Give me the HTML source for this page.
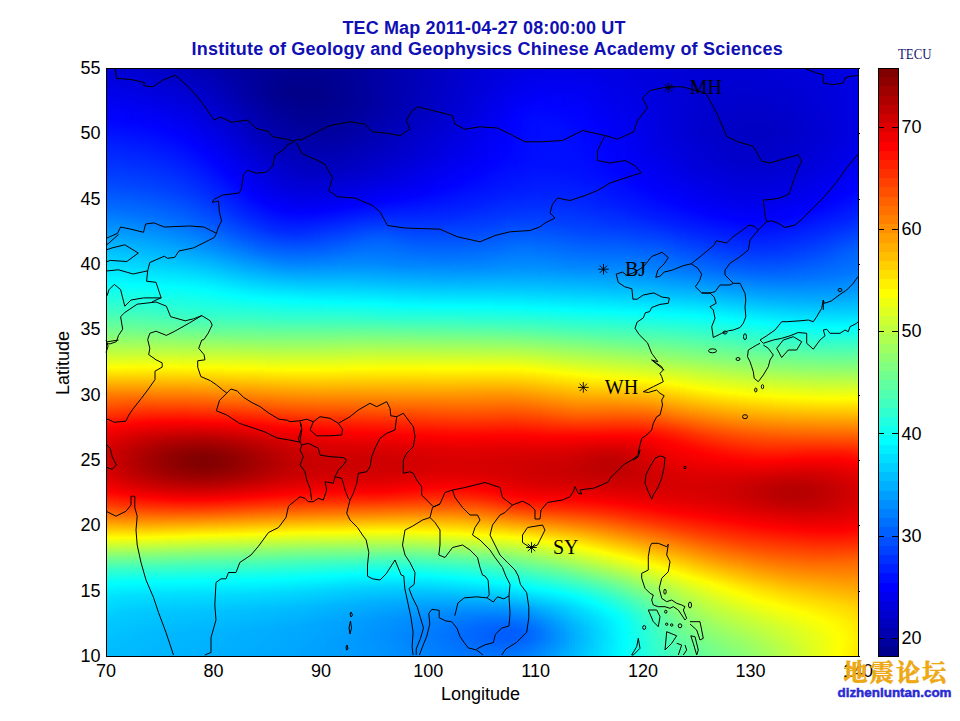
<!DOCTYPE html>
<html><head><meta charset="utf-8"><title>TEC Map 2011-04-27 08:00:00 UT</title><style>
html,body{margin:0;padding:0;background:#fff}
body{width:960px;height:721px;position:relative;overflow:hidden;font-family:"Liberation Sans",Arial,sans-serif}
#fld{position:absolute;left:107px;top:69px;width:751px;height:587px;display:flex}
#fld i{display:block;height:587px;flex:none}
#cb{position:absolute;left:879px;top:69px;width:19px;height:587px;background:linear-gradient(to top,#00008f 0.00px,#00008f 9.19px,#00009f 9.19px,#00009f 18.38px,#0000af 18.38px,#0000af 27.56px,#0000bf 27.56px,#0000bf 36.75px,#0000cf 36.75px,#0000cf 45.94px,#0000df 45.94px,#0000df 55.12px,#0000ef 55.12px,#0000ef 64.31px,#0000ff 64.31px,#0000ff 73.50px,#0010ff 73.50px,#0010ff 82.69px,#0020ff 82.69px,#0020ff 91.88px,#0030ff 91.88px,#0030ff 101.06px,#0040ff 101.06px,#0040ff 110.25px,#0050ff 110.25px,#0050ff 119.44px,#0060ff 119.44px,#0060ff 128.62px,#0070ff 128.62px,#0070ff 137.81px,#0080ff 137.81px,#0080ff 147.00px,#008fff 147.00px,#008fff 156.19px,#009fff 156.19px,#009fff 165.38px,#00afff 165.38px,#00afff 174.56px,#00bfff 174.56px,#00bfff 183.75px,#00cfff 183.75px,#00cfff 192.94px,#00dfff 192.94px,#00dfff 202.12px,#00efff 202.12px,#00efff 211.31px,#00ffff 211.31px,#00ffff 220.50px,#10ffef 220.50px,#10ffef 229.69px,#20ffdf 229.69px,#20ffdf 238.88px,#30ffcf 238.88px,#30ffcf 248.06px,#40ffbf 248.06px,#40ffbf 257.25px,#50ffaf 257.25px,#50ffaf 266.44px,#60ff9f 266.44px,#60ff9f 275.62px,#70ff8f 275.62px,#70ff8f 284.81px,#80ff80 284.81px,#80ff80 294.00px,#8fff70 294.00px,#8fff70 303.19px,#9fff60 303.19px,#9fff60 312.38px,#afff50 312.38px,#afff50 321.56px,#bfff40 321.56px,#bfff40 330.75px,#cfff30 330.75px,#cfff30 339.94px,#dfff20 339.94px,#dfff20 349.12px,#efff10 349.12px,#efff10 358.31px,#ffff00 358.31px,#ffff00 367.50px,#ffef00 367.50px,#ffef00 376.69px,#ffdf00 376.69px,#ffdf00 385.88px,#ffcf00 385.88px,#ffcf00 395.06px,#ffbf00 395.06px,#ffbf00 404.25px,#ffaf00 404.25px,#ffaf00 413.44px,#ff9f00 413.44px,#ff9f00 422.62px,#ff8f00 422.62px,#ff8f00 431.81px,#ff8000 431.81px,#ff8000 441.00px,#ff7000 441.00px,#ff7000 450.19px,#ff6000 450.19px,#ff6000 459.38px,#ff5000 459.38px,#ff5000 468.56px,#ff4000 468.56px,#ff4000 477.75px,#ff3000 477.75px,#ff3000 486.94px,#ff2000 486.94px,#ff2000 496.12px,#ff1000 496.12px,#ff1000 505.31px,#ff0000 505.31px,#ff0000 514.50px,#ef0000 514.50px,#ef0000 523.69px,#df0000 523.69px,#df0000 532.88px,#cf0000 532.88px,#cf0000 542.06px,#bf0000 542.06px,#bf0000 551.25px,#af0000 551.25px,#af0000 560.44px,#9f0000 560.44px,#9f0000 569.62px,#8f0000 569.62px,#8f0000 578.81px,#800000 578.81px,#800000 588.00px)}
svg{position:absolute;left:0;top:0}
.t{font-weight:bold;font-size:18px;fill:#1010b4}
.ax{font-size:18px;fill:#000}
.st{font-family:"Liberation Serif","Times New Roman",serif;font-size:20px;fill:#000}
</style></head><body>
<div id="fld"><i style="width:3px;background:linear-gradient(#0000d6 0.5px,#0002ff 48.5px,#0042ff 109.5px,#0066ff 135.5px,#00f1ff 207.5px,#01fffe 214.5px,#43ffbc 244.5px,#81ff7e 265.5px,#cfff30 287.5px,#feff01 298.5px,#ff8200 324.5px,#ff0500 357.5px,#fb0000 360.5px,#de0000 373.5px,#d10000 386.5px,#d20000 399.5px,#e10000 410.5px,#ff0200 422.5px,#ff3400 434.5px,#ff7a00 447.5px,#fffc00 468.5px,#f5ff0a 470.5px,#7aff85 488.5px,#39ffc6 500.5px,#0bfff4 511.5px,#00feff 515.5px,#00e2ff 528.5px,#00cbff 548.5px,#00bfff 575.5px,#00bdff 586.5px)"></i><i style="width:3px;background:linear-gradient(#0000d6 0.5px,#0001ff 48.5px,#0042ff 110.5px,#0067ff 136.5px,#00f1ff 207.5px,#02fffd 215.5px,#42ffbd 244.5px,#7dff82 264.5px,#cbff34 286.5px,#feff01 298.5px,#ff8100 324.5px,#ff0300 357.5px,#f90000 360.5px,#db0000 373.5px,#ce0000 385.5px,#ce0000 398.5px,#dc0000 409.5px,#f80000 420.5px,#ff0300 423.5px,#ff3700 435.5px,#ff8400 449.5px,#fffc00 468.5px,#f4ff0b 470.5px,#7aff85 488.5px,#38ffc7 500.5px,#0afff5 511.5px,#00fdff 515.5px,#00e1ff 528.5px,#00caff 548.5px,#00beff 575.5px,#00bcff 586.5px)"></i><i style="width:3px;background:linear-gradient(#0000d5 0.5px,#0002ff 49.5px,#0045ff 113.5px,#006aff 138.5px,#00f3ff 208.5px,#02fffd 215.5px,#42ffbd 244.5px,#7dff82 264.5px,#cbff34 286.5px,#feff01 298.5px,#ff8100 324.5px,#ff0100 357.5px,#dc0000 371.5px,#cc0000 383.5px,#ca0000 396.5px,#d50000 407.5px,#ef0000 418.5px,#ff0000 423.5px,#ff3000 434.5px,#ff7d00 448.5px,#fffc00 468.5px,#edff12 471.5px,#7aff85 488.5px,#37ffc8 500.5px,#09fff6 511.5px,#00ffff 514.5px,#00e3ff 526.5px,#00cdff 544.5px,#00bfff 569.5px,#00bcff 586.5px)"></i><i style="width:3px;background:linear-gradient(#0000d4 0.5px,#0002ff 50.5px,#0046ff 114.5px,#006bff 139.5px,#00f2ff 208.5px,#02fffd 215.5px,#41ffbe 244.5px,#7cff83 264.5px,#cbff34 286.5px,#ffff00 298.5px,#ff8100 324.5px,#ff0300 356.5px,#f80000 359.5px,#d70000 372.5px,#c80000 384.5px,#c70000 397.5px,#d40000 408.5px,#ef0000 419.5px,#ff0200 424.5px,#ff3800 436.5px,#ff8e00 451.5px,#fffc00 468.5px,#edff12 471.5px,#79ff86 488.5px,#37ffc8 500.5px,#09fff6 511.5px,#00feff 514.5px,#00e3ff 526.5px,#00ccff 544.5px,#00bfff 569.5px,#00bbff 586.5px)"></i><i style="width:3px;background:linear-gradient(#0000d3 0.5px,#0002ff 50.5px,#0047ff 115.5px,#006cff 140.5px,#00f0ff 207.5px,#01fffe 215.5px,#41ffbe 244.5px,#7cff83 264.5px,#cbff34 286.5px,#ffff00 298.5px,#ff7c00 325.5px,#ff0100 356.5px,#d90000 370.5px,#c60000 382.5px,#c20000 394.5px,#cc0000 405.5px,#e30000 416.5px,#fe0000 424.5px,#ff2c00 434.5px,#ff7b00 448.5px,#fffd00 468.5px,#dfff20 473.5px,#73ff8c 489.5px,#36ffc9 500.5px,#09fff6 511.5px,#00feff 514.5px,#00e2ff 526.5px,#00cbff 544.5px,#00beff 569.5px,#00bbff 586.5px)"></i><i style="width:3px;background:linear-gradient(#0000d2 0.5px,#0002ff 51.5px,#0047ff 116.5px,#006dff 141.5px,#00efff 207.5px,#01fffe 215.5px,#40ffbf 244.5px,#7bff84 264.5px,#cbff34 286.5px,#ffff00 298.5px,#ff7c00 325.5px,#ff0300 355.5px,#fb0000 357.5px,#d60000 370.5px,#c30000 382.5px,#bf0000 394.5px,#c80000 405.5px,#e10000 416.5px,#ff0100 425.5px,#ff3a00 437.5px,#ff9900 453.5px,#fffd00 468.5px,#73ff8c 489.5px,#36ffc9 500.5px,#08fff7 511.5px,#00feff 514.5px,#00e1ff 526.5px,#00cbff 543.5px,#00beff 567.5px,#00baff 586.5px)"></i><i style="width:3px;background:linear-gradient(#0000d1 0.5px,#0001ff 51.5px,#0047ff 116.5px,#006eff 142.5px,#00edff 206.5px,#02fffd 216.5px,#40ffbf 244.5px,#7bff84 264.5px,#c7ff38 285.5px,#fffe00 298.5px,#ff7700 326.5px,#ff0200 355.5px,#d40000 370.5px,#c00000 382.5px,#bb0000 394.5px,#c50000 405.5px,#de0000 416.5px,#fe0000 425.5px,#ff2e00 435.5px,#ff7f00 449.5px,#fffd00 468.5px,#72ff8d 489.5px,#36ffc9 500.5px,#08fff7 511.5px,#00fdff 514.5px,#00e1ff 526.5px,#00cbff 543.5px,#00beff 567.5px,#00baff 586.5px)"></i><i style="width:3px;background:linear-gradient(#0000d1 0.5px,#0002ff 52.5px,#0046ff 116.5px,#006eff 142.5px,#00e6ff 203.5px,#02fffd 216.5px,#3fffc0 244.5px,#7aff85 264.5px,#c7ff38 285.5px,#fffe00 298.5px,#ff7300 327.5px,#ff0000 355.5px,#d60000 368.5px,#bf0000 380.5px,#b80000 392.5px,#bf0000 403.5px,#d60000 414.5px,#ff0100 426.5px,#ff3d00 438.5px,#ff9f00 454.5px,#fffe00 468.5px,#72ff8d 489.5px,#36ffc9 500.5px,#08fff7 511.5px,#00fdff 514.5px,#00e0ff 526.5px,#00caff 543.5px,#00bdff 567.5px,#00baff 586.5px)"></i><i style="width:3px;background:linear-gradient(#0000d0 0.5px,#0001ff 52.5px,#0047ff 117.5px,#0070ff 144.5px,#00e3ff 202.5px,#01fffe 216.5px,#3fffc0 244.5px,#77ff88 263.5px,#c3ff3c 284.5px,#fffe00 298.5px,#ff7300 327.5px,#ff0300 354.5px,#f30000 358.5px,#cd0000 371.5px,#b90000 383.5px,#b50000 394.5px,#bf0000 405.5px,#d90000 416.5px,#fe0000 426.5px,#ff3600 437.5px,#ff9100 452.5px,#fffe00 468.5px,#78ff87 488.5px,#3affc5 499.5px,#0bfff4 510.5px,#00fdff 514.5px,#00e0ff 526.5px,#00caff 543.5px,#00bdff 567.5px,#00b9ff 586.5px)"></i><i style="width:3px;background:linear-gradient(#0000cf 0.5px,#0002ff 53.5px,#0046ff 117.5px,#0070ff 144.5px,#00ddff 199.5px,#01fffe 216.5px,#3effc1 244.5px,#76ff89 263.5px,#c3ff3c 284.5px,#fffd00 298.5px,#ff6e00 328.5px,#ff0100 354.5px,#d00000 369.5px,#b80000 381.5px,#b10000 392.5px,#b90000 403.5px,#d10000 414.5px,#f80000 425.5px,#ff0200 427.5px,#ff4000 439.5px,#ffa500 455.5px,#fffe00 468.5px,#78ff87 488.5px,#3affc5 499.5px,#0bfff4 510.5px,#01fffe 513.5px,#00dfff 526.5px,#00caff 542.5px,#00bcff 566.5px,#00b9ff 586.5px)"></i><i style="width:3px;background:linear-gradient(#0000ce 0.5px,#0002ff 54.5px,#0047ff 118.5px,#0072ff 146.5px,#00dcff 199.5px,#01fffe 216.5px,#3effc1 244.5px,#76ff89 263.5px,#c4ff3b 284.5px,#fffd00 298.5px,#ff6500 330.5px,#ff0000 354.5px,#d00000 368.5px,#b70000 380.5px,#ae0000 391.5px,#b50000 402.5px,#cb0000 413.5px,#f20000 424.5px,#ff0000 427.5px,#ff3f00 439.5px,#ffa500 455.5px,#ffff00 468.5px,#7dff82 487.5px,#3affc5 499.5px,#0bfff4 510.5px,#00ffff 513.5px,#00dfff 526.5px,#00c9ff 542.5px,#00bcff 566.5px,#00b8ff 586.5px)"></i><i style="width:3px;background:linear-gradient(#0000cd 0.5px,#0001ff 54.5px,#0046ff 118.5px,#0071ff 146.5px,#00d5ff 196.5px,#00ffff 216.5px,#3dffc2 244.5px,#75ff8a 263.5px,#c4ff3b 284.5px,#fffd00 298.5px,#ff6100 331.5px,#fe0000 354.5px,#ce0000 368.5px,#b40000 380.5px,#ab0000 391.5px,#b10000 401.5px,#c40000 411.5px,#e80000 422.5px,#fe0000 427.5px,#ff2d00 436.5px,#ff8a00 451.5px,#ffff00 468.5px,#83ff7c 486.5px,#3fffc0 498.5px,#0efff1 509.5px,#00ffff 513.5px,#00dfff 526.5px,#00c9ff 542.5px,#00bbff 566.5px,#00b8ff 586.5px)"></i><i style="width:3px;background:linear-gradient(#0000cc 0.5px,#0002ff 55.5px,#0045ff 118.5px,#0072ff 147.5px,#00d0ff 194.5px,#02fffd 217.5px,#3dffc2 244.5px,#75ff8a 263.5px,#c4ff3b 284.5px,#fffd00 298.5px,#ff5800 333.5px,#ff0200 353.5px,#c90000 369.5px,#b10000 380.5px,#a80000 391.5px,#ae0000 401.5px,#c10000 411.5px,#e60000 422.5px,#ff0200 428.5px,#ff4300 440.5px,#ffb200 457.5px,#feff01 468.5px,#83ff7c 486.5px,#3effc1 498.5px,#0efff1 509.5px,#00ffff 513.5px,#00e0ff 525.5px,#00c9ff 541.5px,#00bcff 564.5px,#00b7ff 586.5px)"></i><i style="width:3px;background:linear-gradient(#0000cb 0.5px,#0002ff 56.5px,#0044ff 118.5px,#0071ff 147.5px,#00cbff 192.5px,#01fffe 217.5px,#3cffc3 244.5px,#71ff8e 262.5px,#c0ff3f 283.5px,#fdff02 297.5px,#ffef00 301.5px,#ff4f00 335.5px,#ff0100 353.5px,#c70000 369.5px,#af0000 380.5px,#a50000 390.5px,#a90000 400.5px,#bc0000 410.5px,#e00000 421.5px,#ff0000 428.5px,#ff4200 440.5px,#ffb200 457.5px,#feff01 468.5px,#83ff7c 486.5px,#3effc1 498.5px,#0efff1 509.5px,#00ffff 513.5px,#00e0ff 525.5px,#00c9ff 541.5px,#00bbff 564.5px,#00b7ff 586.5px)"></i><i style="width:3px;background:linear-gradient(#0000c9 0.5px,#0002ff 57.5px,#0045ff 119.5px,#0072ff 148.5px,#00c8ff 191.5px,#01fffe 217.5px,#3bffc4 244.5px,#71ff8e 262.5px,#c0ff3f 283.5px,#fdff02 297.5px,#ffe500 303.5px,#ff4100 338.5px,#ff0000 353.5px,#c90000 368.5px,#ae0000 379.5px,#a20000 389.5px,#a60000 399.5px,#b70000 409.5px,#d70000 419.5px,#fe0000 428.5px,#ff3500 438.5px,#ff9700 453.5px,#fdff02 468.5px,#82ff7d 486.5px,#3effc1 498.5px,#0efff1 509.5px,#00ffff 513.5px,#00e0ff 525.5px,#00c9ff 541.5px,#00bbff 564.5px,#00b7ff 586.5px)"></i><i style="width:3px;background:linear-gradient(#0000c8 0.5px,#0001ff 57.5px,#0044ff 119.5px,#0071ff 148.5px,#00c3ff 189.5px,#01fffe 217.5px,#3bffc4 244.5px,#70ff8f 262.5px,#c0ff3f 283.5px,#fdff02 297.5px,#ffe000 304.5px,#ff3400 341.5px,#ff0000 353.5px,#ca0000 367.5px,#ad0000 378.5px,#a00000 388.5px,#a20000 398.5px,#b20000 408.5px,#d10000 418.5px,#fd0000 428.5px,#ff1200 432.5px,#ff6000 445.5px,#fffa00 467.5px,#fdff02 468.5px,#88ff77 485.5px,#43ffbc 497.5px,#11ffee 508.5px,#00ffff 513.5px,#00e0ff 525.5px,#00c8ff 541.5px,#00baff 564.5px,#00b6ff 586.5px)"></i><i style="width:3px;background:linear-gradient(#0000c7 0.5px,#0001ff 58.5px,#0043ff 119.5px,#0071ff 149.5px,#00c0ff 188.5px,#00ffff 217.5px,#3affc5 244.5px,#70ff8f 262.5px,#bfff40 283.5px,#fdff02 297.5px,#ffdc00 305.5px,#ff1d00 346.5px,#fe0000 353.5px,#c90000 367.5px,#ab0000 378.5px,#9d0000 388.5px,#9f0000 398.5px,#b00000 408.5px,#cf0000 418.5px,#ff0100 429.5px,#ff4600 441.5px,#ffba00 458.5px,#fffb00 467.5px,#fcff03 468.5px,#88ff77 485.5px,#42ffbd 497.5px,#11ffee 508.5px,#00ffff 513.5px,#00dfff 525.5px,#00c8ff 541.5px,#00baff 563.5px,#00b6ff 586.5px)"></i><i style="width:3px;background:linear-gradient(#0000c6 0.5px,#0001ff 59.5px,#0043ff 120.5px,#0072ff 150.5px,#00bfff 188.5px,#00ffff 217.5px,#3affc5 244.5px,#6fff90 262.5px,#bfff40 283.5px,#fdff02 297.5px,#ffd200 307.5px,#ff0700 351.5px,#fd0000 353.5px,#c40000 368.5px,#a70000 379.5px,#9a0000 389.5px,#9c0000 398.5px,#ae0000 408.5px,#ce0000 418.5px,#ff0000 429.5px,#ff4600 441.5px,#ffc100 459.5px,#fffb00 467.5px,#f4ff0b 469.5px,#87ff78 485.5px,#42ffbd 497.5px,#11ffee 508.5px,#00feff 513.5px,#00dfff 525.5px,#00c8ff 541.5px,#00baff 563.5px,#00b6ff 586.5px)"></i><i style="width:3px;background:linear-gradient(#0000c5 0.5px,#0001ff 60.5px,#0042ff 120.5px,#0071ff 150.5px,#00baff 186.5px,#00feff 217.5px,#36ffc9 243.5px,#68ff97 260.5px,#b3ff4c 280.5px,#fdff02 297.5px,#ffce00 308.5px,#ff0200 352.5px,#d40000 363.5px,#ae0000 375.5px,#9b0000 385.5px,#970000 394.5px,#a10000 403.5px,#ba0000 413.5px,#e60000 424.5px,#fe0000 429.5px,#ff3f00 440.5px,#ffb300 457.5px,#fffc00 467.5px,#f4ff0b 469.5px,#86ff79 485.5px,#42ffbd 497.5px,#11ffee 508.5px,#00feff 513.5px,#00dfff 525.5px,#00c7ff 541.5px,#00b9ff 563.5px,#00b5ff 586.5px)"></i><i style="width:3px;background:linear-gradient(#0000c4 0.5px,#0001ff 61.5px,#0042ff 121.5px,#0071ff 151.5px,#00b9ff 186.5px,#01fffe 218.5px,#38ffc7 244.5px,#6bff94 261.5px,#bbff44 282.5px,#fdff02 297.5px,#ffce00 308.5px,#ff0200 352.5px,#be0000 369.5px,#a00000 380.5px,#950000 389.5px,#970000 398.5px,#aa0000 408.5px,#ca0000 418.5px,#fd0000 429.5px,#ff2600 436.5px,#ff8200 450.5px,#fffd00 467.5px,#deff21 472.5px,#7aff85 487.5px,#38ffc7 499.5px,#09fff6 510.5px,#00feff 513.5px,#00dfff 525.5px,#00c7ff 541.5px,#00b9ff 563.5px,#00b5ff 586.5px)"></i><i style="width:3px;background:linear-gradient(#0000c2 0.5px,#0002ff 63.5px,#0041ff 121.5px,#006fff 151.5px,#00b5ff 185.5px,#01fffe 218.5px,#38ffc7 244.5px,#6bff94 261.5px,#bbff44 282.5px,#fdff02 297.5px,#ffd300 307.5px,#ff0200 352.5px,#bc0000 369.5px,#9e0000 380.5px,#930000 389.5px,#950000 398.5px,#a80000 408.5px,#c90000 418.5px,#fc0000 429.5px,#ff0e00 432.5px,#ff5f00 445.5px,#fffd00 467.5px,#7fff80 486.5px,#3cffc3 498.5px,#0dfff2 509.5px,#00feff 513.5px,#00dfff 525.5px,#00c7ff 541.5px,#00b9ff 563.5px,#00b5ff 586.5px)"></i><i style="width:3px;background:linear-gradient(#0000c1 0.5px,#0002ff 64.5px,#0041ff 122.5px,#0070ff 152.5px,#00b4ff 185.5px,#00ffff 218.5px,#37ffc8 244.5px,#6aff95 261.5px,#bbff44 282.5px,#fdff02 297.5px,#ffd800 306.5px,#ff0100 352.5px,#bb0000 369.5px,#9c0000 380.5px,#900000 389.5px,#930000 398.5px,#a30000 407.5px,#c40000 417.5px,#f60000 428.5px,#ff0200 430.5px,#ff4a00 442.5px,#ffd900 462.5px,#fffe00 467.5px,#85ff7a 485.5px,#41ffbe 497.5px,#10ffef 508.5px,#00feff 513.5px,#00dfff 525.5px,#00c7ff 541.5px,#00b8ff 563.5px,#00b4ff 586.5px)"></i><i style="width:3px;background:linear-gradient(#0000c0 0.5px,#0001ff 65.5px,#003fff 122.5px,#006eff 152.5px,#00b1ff 184.5px,#00ffff 218.5px,#34ffcb 243.5px,#66ff99 260.5px,#b7ff48 281.5px,#fdff02 297.5px,#ffe100 304.5px,#ff0100 352.5px,#ba0000 369.5px,#9a0000 380.5px,#8e0000 389.5px,#910000 398.5px,#a10000 407.5px,#c20000 417.5px,#f50000 428.5px,#ff0100 430.5px,#ff4a00 442.5px,#ffe100 463.5px,#ffff00 467.5px,#8aff75 484.5px,#45ffba 496.5px,#14ffeb 507.5px,#00fdff 513.5px,#00deff 525.5px,#00c6ff 541.5px,#00b8ff 563.5px,#00b4ff 586.5px)"></i><i style="width:3px;background:linear-gradient(#0000be 0.5px,#0001ff 66.5px,#003fff 123.5px,#006cff 152.5px,#00afff 184.5px,#00feff 218.5px,#33ffcc 243.5px,#62ff9d 259.5px,#aeff51 279.5px,#fdff02 297.5px,#ffe600 303.5px,#ff0100 352.5px,#b90000 369.5px,#990000 380.5px,#8c0000 389.5px,#8e0000 398.5px,#a00000 407.5px,#c10000 417.5px,#f50000 428.5px,#ff0000 430.5px,#ff4a00 442.5px,#ffe200 463.5px,#ffff00 467.5px,#90ff6f 483.5px,#4affb5 495.5px,#17ffe8 506.5px,#00fdff 513.5px,#00deff 525.5px,#00c6ff 541.5px,#00b8ff 563.5px,#00b4ff 586.5px)"></i><i style="width:3px;background:linear-gradient(#0000bd 0.5px,#0001ff 68.5px,#003eff 123.5px,#006bff 152.5px,#00abff 183.5px,#00feff 218.5px,#30ffcf 242.5px,#5effa1 258.5px,#aaff55 278.5px,#fffd00 298.5px,#ff0100 352.5px,#b80000 369.5px,#970000 380.5px,#8a0000 389.5px,#8c0000 397.5px,#9c0000 406.5px,#bc0000 416.5px,#ef0000 427.5px,#ff0000 430.5px,#ff4a00 442.5px,#ffea00 464.5px,#feff01 467.5px,#8fff70 483.5px,#4affb5 495.5px,#17ffe8 506.5px,#01fffe 512.5px,#00dcff 526.5px,#00c5ff 542.5px,#00b7ff 564.5px,#00b3ff 586.5px)"></i><i style="width:3px;background:linear-gradient(#0000bc 0.5px,#0002ff 70.5px,#003dff 124.5px,#006bff 153.5px,#00aaff 183.5px,#00fdff 218.5px,#2cffd3 241.5px,#57ffa8 256.5px,#a2ff5d 276.5px,#fffd00 298.5px,#ff0100 352.5px,#b70000 369.5px,#960000 380.5px,#880000 389.5px,#8a0000 397.5px,#9a0000 406.5px,#bb0000 416.5px,#ee0000 427.5px,#fe0000 430.5px,#ff4300 441.5px,#ffcd00 460.5px,#fdff02 467.5px,#8fff70 483.5px,#49ffb6 495.5px,#13ffec 507.5px,#01fffe 512.5px,#00dcff 526.5px,#00c5ff 542.5px,#00b7ff 564.5px,#00b3ff 586.5px)"></i><i style="width:3px;background:linear-gradient(#0000ba 0.5px,#0001ff 71.5px,#003bff 124.5px,#0067ff 152.5px,#00a6ff 182.5px,#00fdff 218.5px,#1dffe2 234.5px,#41ffbe 249.5px,#7eff81 267.5px,#e2ff1d 291.5px,#fffd00 298.5px,#ff0600 351.5px,#fc0000 353.5px,#ba0000 368.5px,#970000 379.5px,#870000 388.5px,#870000 396.5px,#970000 405.5px,#b70000 415.5px,#e80000 426.5px,#fe0000 430.5px,#ff3c00 440.5px,#ffb700 457.5px,#fffa00 466.5px,#fcff03 467.5px,#8eff71 483.5px,#49ffb6 495.5px,#13ffec 507.5px,#01fffe 512.5px,#00dcff 526.5px,#00c4ff 543.5px,#00b6ff 565.5px,#00b3ff 586.5px)"></i><i style="width:3px;background:linear-gradient(#0000b9 0.5px,#0001ff 73.5px,#0039ff 124.5px,#0065ff 152.5px,#00a2ff 181.5px,#00fcff 218.5px,#09fff6 224.5px,#32ffcd 244.5px,#64ff9b 260.5px,#b6ff49 281.5px,#fffd00 298.5px,#ff1500 348.5px,#ff0200 352.5px,#b20000 370.5px,#910000 381.5px,#850000 389.5px,#870000 397.5px,#980000 406.5px,#ba0000 416.5px,#ed0000 427.5px,#fe0000 430.5px,#ff3c00 440.5px,#ffb800 457.5px,#fffb00 466.5px,#f4ff0b 468.5px,#87ff78 484.5px,#43ffbc 496.5px,#0efff1 508.5px,#00ffff 512.5px,#00deff 525.5px,#00c6ff 541.5px,#00b7ff 562.5px,#00b2ff 586.5px)"></i><i style="width:3px;background:linear-gradient(#0000b7 0.5px,#0001ff 75.5px,#0039ff 125.5px,#0062ff 152.5px,#00a0ff 181.5px,#00fcff 218.5px,#05fffa 222.5px,#32ffcd 244.5px,#64ff9b 260.5px,#b6ff49 281.5px,#fffe00 298.5px,#ff1a00 347.5px,#ff0200 352.5px,#b20000 370.5px,#900000 381.5px,#830000 389.5px,#860000 397.5px,#970000 406.5px,#be0000 417.5px,#f30000 428.5px,#fe0000 430.5px,#ff3600 439.5px,#ffa900 455.5px,#fffc00 466.5px,#f4ff0b 468.5px,#8dff72 483.5px,#48ffb7 495.5px,#12ffed 507.5px,#00ffff 512.5px,#00ddff 525.5px,#00c5ff 541.5px,#00b6ff 562.5px,#00b2ff 586.5px)"></i><i style="width:3px;background:linear-gradient(#0000b6 0.5px,#0001ff 77.5px,#0037ff 125.5px,#0060ff 152.5px,#009bff 180.5px,#00fbff 218.5px,#04fffb 222.5px,#31ffce 244.5px,#63ff9c 260.5px,#b6ff49 281.5px,#fffe00 298.5px,#ff2000 346.5px,#ff0200 352.5px,#ca0000 364.5px,#9d0000 376.5px,#870000 385.5px,#810000 392.5px,#890000 400.5px,#a30000 410.5px,#cf0000 421.5px,#fe0000 430.5px,#ff3600 439.5px,#ffa900 455.5px,#fffd00 466.5px,#ddff22 471.5px,#7aff85 486.5px,#39ffc6 498.5px,#07fff8 510.5px,#00ffff 512.5px,#00ddff 525.5px,#00c4ff 542.5px,#00b6ff 563.5px,#00b2ff 586.5px)"></i><i style="width:3px;background:linear-gradient(#0000b4 0.5px,#0000e6 52.5px,#0002ff 80.5px,#0036ff 126.5px,#005eff 152.5px,#0099ff 180.5px,#00faff 218.5px,#03fffc 222.5px,#30ffcf 244.5px,#66ff99 261.5px,#beff41 283.5px,#fffe00 298.5px,#ff2000 346.5px,#ff0300 352.5px,#ee0000 356.5px,#ae0000 371.5px,#8d0000 382.5px,#810000 390.5px,#850000 398.5px,#9c0000 408.5px,#c60000 419.5px,#fe0000 430.5px,#ff3600 439.5px,#ffaa00 455.5px,#fffd00 466.5px,#86ff79 484.5px,#42ffbd 496.5px,#0efff1 508.5px,#00ffff 512.5px,#00ddff 525.5px,#00c4ff 542.5px,#00b5ff 563.5px,#00b2ff 586.5px)"></i><i style="width:3px;background:linear-gradient(#0000b3 0.5px,#0000de 47.5px,#0002ff 82.5px,#0033ff 126.5px,#005bff 152.5px,#0097ff 180.5px,#00f9ff 218.5px,#02fffd 222.5px,#30ffcf 244.5px,#66ff99 261.5px,#beff41 283.5px,#fffe00 298.5px,#ff2600 345.5px,#fd0000 353.5px,#b60000 369.5px,#910000 380.5px,#810000 389.5px,#820000 396.5px,#940000 405.5px,#b50000 415.5px,#e80000 426.5px,#fe0000 430.5px,#ff3d00 440.5px,#ffc200 458.5px,#fffe00 466.5px,#8bff74 483.5px,#47ffb8 495.5px,#11ffee 507.5px,#00ffff 512.5px,#00ddff 525.5px,#00c4ff 542.5px,#00b5ff 563.5px,#00b1ff 586.5px)"></i><i style="width:3px;background:linear-gradient(#0000b1 0.5px,#0000d6 41.5px,#0001ff 84.5px,#0032ff 127.5px,#005bff 153.5px,#0095ff 180.5px,#00f9ff 218.5px,#02fffd 222.5px,#2fffd0 244.5px,#66ff99 261.5px,#bdff42 283.5px,#ffff00 298.5px,#ff2600 345.5px,#fd0000 353.5px,#b60000 369.5px,#910000 380.5px,#810000 389.5px,#820000 396.5px,#940000 405.5px,#b50000 415.5px,#e80000 426.5px,#fe0000 430.5px,#ff3d00 440.5px,#ffc200 458.5px,#ffff00 466.5px,#91ff6e 482.5px,#4cffb3 494.5px,#15ffea 506.5px,#00feff 512.5px,#00ddff 525.5px,#00c3ff 542.5px,#00b5ff 563.5px,#00b1ff 586.5px)"></i><i style="width:3px;background:linear-gradient(#0000b0 0.5px,#0000cf 36.5px,#0001ff 86.5px,#002fff 127.5px,#0058ff 153.5px,#0093ff 180.5px,#00f7ff 218.5px,#03fffc 223.5px,#2fffd0 244.5px,#62ff9d 260.5px,#b9ff46 282.5px,#ffff00 298.5px,#ff2b00 344.5px,#fe0000 353.5px,#b60000 369.5px,#920000 380.5px,#810000 389.5px,#830000 396.5px,#940000 405.5px,#b50000 415.5px,#e90000 426.5px,#ff0000 430.5px,#ff4500 441.5px,#ffe100 462.5px,#ffff00 466.5px,#91ff6e 482.5px,#4bffb4 494.5px,#15ffea 506.5px,#00feff 512.5px,#00ddff 525.5px,#00c3ff 542.5px,#00b4ff 563.5px,#00b0ff 586.5px)"></i><i style="width:3px;background:linear-gradient(#0000af 0.5px,#0000ca 33.5px,#0002ff 89.5px,#002eff 128.5px,#0055ff 153.5px,#008eff 179.5px,#00f6ff 218.5px,#02fffd 223.5px,#2fffd0 244.5px,#61ff9e 260.5px,#b9ff46 282.5px,#ffff00 298.5px,#ff3100 343.5px,#fe0000 353.5px,#b70000 369.5px,#920000 380.5px,#820000 389.5px,#830000 396.5px,#950000 405.5px,#b60000 415.5px,#e90000 426.5px,#ff0000 430.5px,#ff4c00 442.5px,#feff01 466.5px,#97ff68 481.5px,#50ffaf 493.5px,#19ffe6 505.5px,#00feff 512.5px,#00dcff 525.5px,#00c3ff 542.5px,#00b4ff 563.5px,#00b0ff 586.5px)"></i><i style="width:3px;background:linear-gradient(#0000ad 0.5px,#0000c7 32.5px,#0001ff 91.5px,#002cff 129.5px,#0054ff 154.5px,#008cff 179.5px,#00f5ff 218.5px,#03fffc 224.5px,#31ffce 245.5px,#68ff97 262.5px,#c5ff3a 285.5px,#feff01 298.5px,#ff3b00 341.5px,#ff0000 353.5px,#b80000 369.5px,#930000 380.5px,#840000 388.5px,#840000 395.5px,#930000 404.5px,#b30000 414.5px,#e40000 425.5px,#ff0100 430.5px,#ff4d00 442.5px,#feff01 466.5px,#96ff69 481.5px,#50ffaf 493.5px,#18ffe7 505.5px,#00feff 512.5px,#00dcff 525.5px,#00c3ff 542.5px,#00b4ff 563.5px,#00b0ff 586.5px)"></i><i style="width:3px;background:linear-gradient(#0000ac 0.5px,#0000c3 31.5px,#0002ff 94.5px,#002bff 130.5px,#0053ff 155.5px,#008cff 180.5px,#00f3ff 218.5px,#01fffe 224.5px,#31ffce 245.5px,#68ff97 262.5px,#c5ff3a 285.5px,#feff01 298.5px,#ff4500 339.5px,#ff0000 353.5px,#b90000 369.5px,#950000 380.5px,#860000 388.5px,#850000 395.5px,#940000 404.5px,#b30000 414.5px,#e50000 425.5px,#ff0100 430.5px,#ff4e00 442.5px,#fdff02 466.5px,#96ff69 481.5px,#50ffaf 493.5px,#18ffe7 505.5px,#00feff 512.5px,#00dcff 525.5px,#00c3ff 541.5px,#00b4ff 562.5px,#00afff 586.5px)"></i><i style="width:3px;background:linear-gradient(#0000aa 0.5px,#0000c0 31.5px,#0002ff 97.5px,#002bff 132.5px,#0053ff 156.5px,#0089ff 180.5px,#00f4ff 219.5px,#02fffd 225.5px,#33ffcc 246.5px,#6cff93 263.5px,#cdff32 287.5px,#feff01 298.5px,#ff5800 335.5px,#ff0100 353.5px,#b60000 370.5px,#930000 381.5px,#870000 389.5px,#880000 397.5px,#9a0000 406.5px,#bc0000 416.5px,#f10000 427.5px,#ff0200 430.5px,#ff4f00 442.5px,#fffa00 465.5px,#fdff02 466.5px,#95ff6a 481.5px,#50ffaf 493.5px,#18ffe7 505.5px,#00feff 512.5px,#00dcff 525.5px,#00c3ff 541.5px,#00b4ff 562.5px,#00afff 586.5px)"></i><i style="width:3px;background:linear-gradient(#0000a9 0.5px,#0000bd 30.5px,#0002ff 100.5px,#002aff 134.5px,#0054ff 158.5px,#008cff 182.5px,#00f3ff 219.5px,#01fffe 225.5px,#33ffcc 246.5px,#6bff94 263.5px,#cdff32 287.5px,#fdff02 298.5px,#ff6b00 331.5px,#ff0200 353.5px,#b30000 371.5px,#930000 382.5px,#880000 390.5px,#8b0000 398.5px,#9e0000 407.5px,#c10000 417.5px,#f70000 428.5px,#ff0300 430.5px,#ff4f00 442.5px,#fffa00 465.5px,#fcff03 466.5px,#95ff6a 481.5px,#4fffb0 493.5px,#18ffe7 505.5px,#00feff 512.5px,#00dcff 525.5px,#00c3ff 541.5px,#00b3ff 562.5px,#00afff 586.5px)"></i><i style="width:3px;background:linear-gradient(#0000a7 0.5px,#0000ba 30.5px,#0002ff 103.5px,#002aff 136.5px,#0055ff 160.5px,#008fff 184.5px,#00f1ff 219.5px,#02fffd 226.5px,#36ffc9 247.5px,#73ff8c 265.5px,#deff21 291.5px,#fffd00 299.5px,#ff3800 342.5px,#ff0200 353.5px,#ea0000 358.5px,#b10000 372.5px,#950000 382.5px,#8a0000 390.5px,#8d0000 398.5px,#a00000 407.5px,#c20000 417.5px,#f80000 428.5px,#fd0000 429.5px,#ff2f00 437.5px,#ff9900 452.5px,#fffb00 465.5px,#fcff03 466.5px,#95ff6a 481.5px,#4fffb0 493.5px,#18ffe7 505.5px,#00feff 512.5px,#00dbff 525.5px,#00c2ff 541.5px,#00b3ff 562.5px,#00aeff 586.5px)"></i><i style="width:3px;background:linear-gradient(#0000a6 0.5px,#0000b7 29.5px,#0002ff 106.5px,#002aff 138.5px,#0056ff 162.5px,#0092ff 186.5px,#00f0ff 219.5px,#01fffe 226.5px,#35ffca 247.5px,#72ff8d 265.5px,#deff21 291.5px,#fffd00 299.5px,#ff3d00 341.5px,#fe0000 354.5px,#bd0000 369.5px,#9b0000 380.5px,#8d0000 389.5px,#8e0000 397.5px,#9e0000 406.5px,#c00000 416.5px,#f30000 427.5px,#fe0000 429.5px,#ff4400 440.5px,#ffce00 459.5px,#fffb00 465.5px,#f4ff0b 467.5px,#8eff71 482.5px,#4affb5 494.5px,#14ffeb 506.5px,#00fdff 512.5px,#00dbff 525.5px,#00c2ff 541.5px,#00b2ff 562.5px,#00aeff 586.5px)"></i><i style="width:3px;background:linear-gradient(#0000a4 0.5px,#0000b4 29.5px,#0001ff 108.5px,#002aff 140.5px,#0055ff 163.5px,#0092ff 187.5px,#00f1ff 220.5px,#00ffff 226.5px,#38ffc7 248.5px,#76ff89 266.5px,#ebff14 294.5px,#fffe00 299.5px,#ff3d00 341.5px,#fe0000 354.5px,#bf0000 369.5px,#9d0000 380.5px,#8f0000 389.5px,#900000 397.5px,#a00000 406.5px,#c10000 416.5px,#f40000 427.5px,#ff0000 429.5px,#ff4b00 441.5px,#fffc00 465.5px,#f4ff0b 467.5px,#8eff71 482.5px,#49ffb6 494.5px,#14ffeb 506.5px,#00fdff 512.5px,#00dbff 525.5px,#00c2ff 541.5px,#00b2ff 562.5px,#00adff 586.5px)"></i><i style="width:3px;background:linear-gradient(#0000a3 0.5px,#0000b1 28.5px,#0000fd 108.5px,#0013ff 126.5px,#003cff 152.5px,#006fff 175.5px,#00cbff 207.5px,#00feff 226.5px,#35ffca 247.5px,#72ff8d 265.5px,#e1ff1e 292.5px,#fffe00 299.5px,#ff3900 342.5px,#ff0000 354.5px,#bd0000 370.5px,#9d0000 381.5px,#910000 390.5px,#950000 399.5px,#a70000 408.5px,#cb0000 418.5px,#ff0100 429.5px,#ff4c00 441.5px,#fffc00 465.5px,#ecff13 468.5px,#8dff72 482.5px,#49ffb6 494.5px,#13ffec 506.5px,#00fdff 512.5px,#00dbff 525.5px,#00c1ff 541.5px,#00b2ff 562.5px,#00adff 586.5px)"></i><i style="width:3px;background:linear-gradient(#0000a2 0.5px,#0000ae 28.5px,#0000f4 102.5px,#0003ff 115.5px,#002aff 144.5px,#0059ff 167.5px,#0099ff 191.5px,#00f1ff 221.5px,#01fffe 227.5px,#3bffc4 249.5px,#7dff82 268.5px,#fffe00 299.5px,#ff3a00 342.5px,#ff0100 354.5px,#bb0000 371.5px,#9f0000 381.5px,#940000 390.5px,#970000 399.5px,#a90000 408.5px,#cc0000 418.5px,#fc0000 428.5px,#ff0800 430.5px,#ff5400 442.5px,#fffd00 465.5px,#8dff72 482.5px,#49ffb6 494.5px,#13ffec 506.5px,#00fdff 512.5px,#00dbff 525.5px,#00c1ff 541.5px,#00b1ff 562.5px,#00adff 586.5px)"></i><i style="width:3px;background:linear-gradient(#0000a0 0.5px,#0000ab 27.5px,#0000e4 90.5px,#0002ff 117.5px,#0029ff 145.5px,#0056ff 167.5px,#0097ff 191.5px,#00f2ff 222.5px,#02fffd 228.5px,#3dffc2 250.5px,#81ff7e 269.5px,#ffff00 299.5px,#ff3b00 342.5px,#ff0200 354.5px,#eb0000 359.5px,#b90000 372.5px,#a00000 382.5px,#960000 391.5px,#9b0000 400.5px,#ae0000 409.5px,#d20000 419.5px,#fd0000 428.5px,#ff2d00 436.5px,#ff8e00 450.5px,#fffd00 465.5px,#8cff73 482.5px,#48ffb7 494.5px,#13ffec 506.5px,#01fffe 511.5px,#00d8ff 526.5px,#00c0ff 542.5px,#00b0ff 563.5px,#00acff 586.5px)"></i><i style="width:3px;background:linear-gradient(#00009f 0.5px,#0000a8 27.5px,#0000dc 85.5px,#0001ff 119.5px,#0028ff 146.5px,#0055ff 168.5px,#009aff 193.5px,#00f3ff 223.5px,#01fffe 228.5px,#3dffc2 250.5px,#81ff7e 269.5px,#ffff00 299.5px,#ff3b00 342.5px,#fe0000 355.5px,#c50000 369.5px,#a60000 380.5px,#990000 389.5px,#9b0000 398.5px,#ab0000 407.5px,#cb0000 417.5px,#fe0000 428.5px,#ff4200 439.5px,#ffbb00 456.5px,#fffe00 465.5px,#8cff73 482.5px,#48ffb7 494.5px,#13ffec 506.5px,#01fffe 511.5px,#00daff 525.5px,#00c0ff 541.5px,#00b0ff 562.5px,#00acff 586.5px)"></i><i style="width:3px;background:linear-gradient(#00009e 0.5px,#0000a5 26.5px,#0000d0 75.5px,#0002ff 122.5px,#0028ff 148.5px,#0058ff 170.5px,#009eff 195.5px,#00f5ff 224.5px,#00ffff 228.5px,#40ffbf 251.5px,#88ff77 271.5px,#ffff00 299.5px,#ff4100 341.5px,#ff0000 355.5px,#c40000 370.5px,#a60000 381.5px,#9c0000 390.5px,#9f0000 399.5px,#af0000 408.5px,#d10000 418.5px,#ff0100 428.5px,#ff4900 440.5px,#ffd200 459.5px,#ffff00 465.5px,#92ff6d 481.5px,#48ffb7 494.5px,#12ffed 506.5px,#01fffe 511.5px,#00daff 525.5px,#00c0ff 541.5px,#00b0ff 562.5px,#00acff 586.5px)"></i><i style="width:3px;background:linear-gradient(#00009c 0.5px,#0000a2 26.5px,#0000ca 72.5px,#0001ff 124.5px,#0029ff 150.5px,#0057ff 171.5px,#00a2ff 197.5px,#00f6ff 225.5px,#02fffd 229.5px,#40ffbf 251.5px,#88ff77 271.5px,#feff01 299.5px,#ff4600 340.5px,#ff0100 355.5px,#c20000 371.5px,#a70000 382.5px,#9e0000 391.5px,#a20000 400.5px,#b70000 410.5px,#da0000 420.5px,#ff0200 428.5px,#ff4a00 440.5px,#ffcc00 458.5px,#ffff00 465.5px,#97ff68 480.5px,#4cffb3 493.5px,#16ffe9 505.5px,#00ffff 511.5px,#00d9ff 525.5px,#00c0ff 541.5px,#00b0ff 562.5px,#00abff 586.5px)"></i><i style="width:3px;background:linear-gradient(#00009b 0.5px,#0000a0 26.5px,#0000c4 69.5px,#0001ff 126.5px,#0028ff 151.5px,#0058ff 172.5px,#00a3ff 198.5px,#00f5ff 225.5px,#01fffe 229.5px,#43ffbc 252.5px,#8cff73 272.5px,#feff01 299.5px,#ff5000 338.5px,#ff0200 355.5px,#ec0000 360.5px,#be0000 373.5px,#a80000 383.5px,#a00000 393.5px,#a70000 402.5px,#bf0000 412.5px,#e50000 422.5px,#fd0000 427.5px,#ff1900 432.5px,#ff6600 444.5px,#feff01 465.5px,#97ff68 480.5px,#4cffb3 493.5px,#16ffe9 505.5px,#00ffff 511.5px,#00dbff 524.5px,#00c0ff 540.5px,#00b0ff 560.5px,#00abff 586.5px)"></i><i style="width:3px;background:linear-gradient(#00009a 0.5px,#00009d 25.5px,#0000bd 64.5px,#0000fa 124.5px,#0005ff 131.5px,#0030ff 156.5px,#0065ff 178.5px,#00bbff 206.5px,#00ffff 229.5px,#42ffbd 252.5px,#90ff6f 273.5px,#feff01 299.5px,#ff5a00 336.5px,#fe0000 356.5px,#c90000 370.5px,#ae0000 381.5px,#a30000 391.5px,#a70000 400.5px,#bb0000 410.5px,#dd0000 420.5px,#fe0000 427.5px,#ff3900 437.5px,#ff9900 451.5px,#fdff02 465.5px,#96ff69 480.5px,#4cffb3 493.5px,#15ffea 505.5px,#00ffff 511.5px,#00dbff 524.5px,#00c0ff 540.5px,#00b0ff 560.5px,#00aaff 586.5px)"></i><i style="width:3px;background:linear-gradient(#000099 0.5px,#00009b 25.5px,#0000b9 63.5px,#0000f6 123.5px,#0002ff 131.5px,#002dff 156.5px,#0063ff 178.5px,#00b2ff 204.5px,#00fcff 228.5px,#08fff7 232.5px,#45ffba 253.5px,#94ff6b 274.5px,#fdff02 299.5px,#ff6900 333.5px,#ff0100 356.5px,#cb0000 370.5px,#b00000 381.5px,#a60000 391.5px,#ab0000 401.5px,#c00000 411.5px,#e30000 421.5px,#ff0000 427.5px,#ff4000 438.5px,#ffa900 453.5px,#fffa00 464.5px,#fdff02 465.5px,#96ff69 480.5px,#4bffb4 493.5px,#15ffea 505.5px,#00feff 511.5px,#00dbff 524.5px,#00c0ff 540.5px,#00afff 560.5px,#00aaff 586.5px)"></i><i style="width:3px;background:linear-gradient(#000098 0.5px,#000099 25.5px,#0000b5 62.5px,#0000f4 123.5px,#0002ff 133.5px,#002fff 158.5px,#0069ff 181.5px,#00beff 208.5px,#00feff 229.5px,#3bffc4 250.5px,#83ff7c 270.5px,#fdff02 299.5px,#ff8500 327.5px,#ff0200 356.5px,#c70000 372.5px,#b00000 383.5px,#a80000 393.5px,#b00000 403.5px,#c70000 413.5px,#ed0000 423.5px,#ff0200 427.5px,#ff4100 438.5px,#ffaa00 453.5px,#fffb00 464.5px,#fcff03 465.5px,#95ff6a 480.5px,#4bffb4 493.5px,#15ffea 505.5px,#00feff 511.5px,#00daff 524.5px,#00bfff 540.5px,#00afff 560.5px,#00aaff 586.5px)"></i><i style="width:3px;background:linear-gradient(#000097 0.5px,#000096 24.5px,#0000af 58.5px,#0000f0 122.5px,#0001ff 134.5px,#002eff 159.5px,#006dff 183.5px,#00c6ff 211.5px,#01fffe 230.5px,#41ffbe 252.5px,#8fff70 273.5px,#fdff02 299.5px,#ffde00 307.5px,#ff0300 356.5px,#fa0000 358.5px,#cc0000 371.5px,#b40000 382.5px,#ab0000 392.5px,#b10000 402.5px,#c60000 412.5px,#ea0000 422.5px,#fd0000 426.5px,#ff1800 431.5px,#ff6300 443.5px,#fffc00 464.5px,#f4ff0b 466.5px,#8eff71 481.5px,#4affb5 493.5px,#14ffeb 505.5px,#00feff 511.5px,#00daff 524.5px,#00bfff 540.5px,#00aeff 560.5px,#00a9ff 586.5px)"></i><i style="width:3px;background:linear-gradient(#000096 0.5px,#000094 24.5px,#0000ad 58.5px,#0000ec 121.5px,#0002ff 136.5px,#002eff 160.5px,#0071ff 185.5px,#00faff 228.5px,#03fffc 231.5px,#44ffbb 253.5px,#97ff68 275.5px,#fffd00 300.5px,#ff0000 357.5px,#ce0000 371.5px,#b60000 382.5px,#ae0000 392.5px,#b30000 402.5px,#c80000 412.5px,#ec0000 422.5px,#fe0000 426.5px,#ff3000 435.5px,#ff8700 448.5px,#fffc00 464.5px,#e5ff1a 468.5px,#81ff7e 483.5px,#40ffbf 495.5px,#0cfff3 507.5px,#00fdff 511.5px,#00daff 524.5px,#00beff 540.5px,#00aeff 560.5px,#00a9ff 586.5px)"></i><i style="width:3px;background:linear-gradient(#000095 0.5px,#000092 24.5px,#0000aa 58.5px,#0000e9 120.5px,#0001ff 137.5px,#002fff 161.5px,#0078ff 188.5px,#00f6ff 227.5px,#00ffff 230.5px,#40ffbf 252.5px,#93ff6c 274.5px,#fffd00 300.5px,#ff0200 357.5px,#cd0000 372.5px,#b70000 383.5px,#b00000 394.5px,#b80000 404.5px,#d00000 414.5px,#f60000 424.5px,#ff0000 426.5px,#ff3d00 437.5px,#ff9d00 451.5px,#fffd00 464.5px,#87ff78 482.5px,#44ffbb 494.5px,#0ffff0 506.5px,#00fdff 511.5px,#00d9ff 524.5px,#00beff 540.5px,#00adff 560.5px,#00a9ff 586.5px)"></i><i style="width:3px;background:linear-gradient(#000094 0.5px,#000090 24.5px,#0000a8 58.5px,#0000e6 120.5px,#0001ff 138.5px,#002fff 162.5px,#007cff 190.5px,#00f6ff 227.5px,#02fffd 231.5px,#40ffbf 252.5px,#93ff6c 274.5px,#fffe00 300.5px,#ff0300 357.5px,#f60000 360.5px,#cf0000 372.5px,#b90000 383.5px,#b30000 394.5px,#bb0000 404.5px,#d10000 414.5px,#f70000 424.5px,#ff0200 426.5px,#ff3e00 437.5px,#ff9700 450.5px,#fffe00 464.5px,#8cff73 481.5px,#48ffb7 493.5px,#13ffec 505.5px,#01fffe 510.5px,#00d9ff 524.5px,#00beff 540.5px,#00adff 560.5px,#00a8ff 586.5px)"></i><i style="width:3px;background:linear-gradient(#000094 0.5px,#00008e 24.5px,#0000a7 59.5px,#0000e3 119.5px,#0001ff 139.5px,#002dff 162.5px,#0081ff 192.5px,#00f5ff 227.5px,#02fffd 231.5px,#40ffbf 252.5px,#97ff68 275.5px,#fffe00 300.5px,#ff0000 358.5px,#d40000 371.5px,#bd0000 382.5px,#b50000 393.5px,#bb0000 403.5px,#d00000 413.5px,#f40000 423.5px,#ff0300 426.5px,#ff3f00 437.5px,#ff9700 450.5px,#ffff00 464.5px,#92ff6d 480.5px,#4dffb2 492.5px,#16ffe9 504.5px,#00ffff 510.5px,#00d8ff 524.5px,#00bdff 540.5px,#00acff 560.5px,#00a8ff 586.5px)"></i><i style="width:3px;background:linear-gradient(#000093 0.5px,#00008d 24.5px,#0000a6 60.5px,#0000e0 118.5px,#0001ff 140.5px,#002eff 163.5px,#0086ff 194.5px,#00f5ff 227.5px,#01fffe 231.5px,#3cffc3 251.5px,#93ff6c 274.5px,#fffe00 300.5px,#ff0100 358.5px,#d30000 372.5px,#be0000 383.5px,#b70000 394.5px,#bf0000 404.5px,#d50000 414.5px,#fa0000 424.5px,#ff0400 426.5px,#ff4000 437.5px,#ff9800 450.5px,#ffff00 464.5px,#91ff6e 480.5px,#4cffb3 492.5px,#16ffe9 504.5px,#00ffff 510.5px,#00daff 523.5px,#00beff 539.5px,#00adff 558.5px,#00a7ff 586.5px)"></i><i style="width:3px;background:linear-gradient(#000093 0.5px,#00008b 24.5px,#0000a4 60.5px,#0000dd 117.5px,#0000fd 139.5px,#000cff 147.5px,#0032ff 165.5px,#0088ff 195.5px,#00f4ff 227.5px,#01fffe 231.5px,#3cffc3 251.5px,#93ff6c 274.5px,#fffe00 300.5px,#ff0300 358.5px,#f30000 362.5px,#d00000 374.5px,#be0000 385.5px,#ba0000 397.5px,#c50000 407.5px,#e00000 417.5px,#ff0000 425.5px,#ff3400 435.5px,#ff8300 447.5px,#feff01 464.5px,#91ff6e 480.5px,#4cffb3 492.5px,#15ffea 504.5px,#00feff 510.5px,#00d9ff 523.5px,#00bdff 539.5px,#00acff 558.5px,#00a7ff 586.5px)"></i><i style="width:3px;background:linear-gradient(#000092 0.5px,#00008a 24.5px,#0000a3 61.5px,#0000da 116.5px,#0000f8 137.5px,#0002ff 142.5px,#002cff 163.5px,#0086ff 195.5px,#00f4ff 227.5px,#00ffff 231.5px,#38ffc7 250.5px,#8eff71 273.5px,#ffff00 300.5px,#ff0700 357.5px,#ff0000 359.5px,#d90000 371.5px,#c30000 382.5px,#bc0000 394.5px,#c20000 404.5px,#d70000 414.5px,#ff0100 425.5px,#ff3b00 436.5px,#ff8b00 448.5px,#fdff02 464.5px,#90ff6f 480.5px,#4bffb4 492.5px,#15ffea 504.5px,#00feff 510.5px,#00d9ff 523.5px,#00bdff 539.5px,#00acff 558.5px,#00a7ff 586.5px)"></i><i style="width:3px;background:linear-gradient(#000092 0.5px,#000089 24.5px,#0000a2 61.5px,#0000d8 115.5px,#0000f7 137.5px,#0002ff 143.5px,#002eff 164.5px,#0089ff 196.5px,#00f4ff 227.5px,#00ffff 231.5px,#38ffc7 250.5px,#93ff6c 274.5px,#ffff00 300.5px,#ff0900 357.5px,#fc0000 360.5px,#d80000 372.5px,#c40000 383.5px,#be0000 395.5px,#c50000 405.5px,#dc0000 415.5px,#fd0000 424.5px,#ff1500 429.5px,#ff5500 440.5px,#ffc700 456.5px,#fffa00 463.5px,#fcff03 464.5px,#90ff6f 480.5px,#4bffb4 492.5px,#14ffeb 504.5px,#00fdff 510.5px,#00d8ff 523.5px,#00bcff 539.5px,#00abff 558.5px,#00a6ff 586.5px)"></i><i style="width:3px;background:linear-gradient(#000091 0.5px,#000088 24.5px,#00009f 60.5px,#0000d4 113.5px,#0000f4 136.5px,#0002ff 143.5px,#002dff 164.5px,#0088ff 196.5px,#00f6ff 228.5px,#02fffd 232.5px,#38ffc7 250.5px,#93ff6c 274.5px,#ffff00 300.5px,#ff0900 357.5px,#fd0000 360.5px,#d90000 372.5px,#c60000 383.5px,#c00000 396.5px,#c80000 406.5px,#e00000 416.5px,#fe0000 424.5px,#ff2b00 433.5px,#ff7000 444.5px,#fffb00 463.5px,#f5ff0a 465.5px,#89ff76 481.5px,#45ffba 493.5px,#10ffef 505.5px,#01fffe 509.5px,#00d6ff 524.5px,#00baff 540.5px,#00aaff 559.5px,#00a6ff 586.5px)"></i><i style="width:3px;background:linear-gradient(#000091 0.5px,#000088 24.5px,#00009d 58.5px,#0000d2 112.5px,#0000f1 135.5px,#0001ff 143.5px,#002dff 164.5px,#0088ff 196.5px,#00f6ff 228.5px,#02fffd 232.5px,#37ffc8 250.5px,#93ff6c 274.5px,#ffff00 300.5px,#ff0a00 357.5px,#fe0000 360.5px,#da0000 372.5px,#c70000 383.5px,#c10000 396.5px,#ca0000 406.5px,#e10000 416.5px,#ff0000 424.5px,#ff3200 434.5px,#ff7800 445.5px,#fffc00 463.5px,#f4ff0b 465.5px,#88ff77 481.5px,#44ffbb 493.5px,#0ffff0 505.5px,#00ffff 509.5px,#00d7ff 523.5px,#00bbff 539.5px,#00aaff 558.5px,#00a5ff 586.5px)"></i><i style="width:3px;background:linear-gradient(#000091 0.5px,#000088 24.5px,#00009a 56.5px,#0000ce 110.5px,#0000ef 134.5px,#0001ff 143.5px,#0030ff 165.5px,#0087ff 196.5px,#00f8ff 229.5px,#02fffd 232.5px,#37ffc8 250.5px,#97ff68 275.5px,#ffff00 300.5px,#ff0b00 357.5px,#ff0000 360.5px,#dc0000 372.5px,#c90000 383.5px,#c30000 396.5px,#cb0000 406.5px,#e20000 416.5px,#ff0100 424.5px,#ff3200 434.5px,#ff7800 445.5px,#fffc00 463.5px,#ecff13 466.5px,#82ff7d 482.5px,#3fffc0 494.5px,#0bfff4 506.5px,#00ffff 509.5px,#00d9ff 522.5px,#00bdff 537.5px,#00abff 556.5px,#00a5ff 582.5px,#00a5ff 586.5px)"></i><i style="width:3px;background:linear-gradient(#000090 0.5px,#000087 24.5px,#000098 54.5px,#0000cb 108.5px,#0000ef 134.5px,#0002ff 144.5px,#0033ff 166.5px,#0087ff 196.5px,#00f8ff 229.5px,#01fffe 232.5px,#37ffc8 250.5px,#97ff68 275.5px,#ffff00 300.5px,#ff0c00 357.5px,#fd0000 361.5px,#da0000 373.5px,#c90000 384.5px,#c40000 397.5px,#ce0000 407.5px,#e60000 417.5px,#ff0200 424.5px,#ff3300 434.5px,#ff7900 445.5px,#fffd00 463.5px,#deff21 468.5px,#7bff84 483.5px,#3affc5 495.5px,#06fff9 507.5px,#00feff 509.5px,#00d8ff 522.5px,#00bdff 537.5px,#00aaff 556.5px,#00a4ff 582.5px,#00a4ff 586.5px)"></i><i style="width:3px;background:linear-gradient(#000090 0.5px,#000087 24.5px,#000097 53.5px,#0000c9 107.5px,#0000ed 133.5px,#0002ff 144.5px,#0034ff 166.5px,#0087ff 196.5px,#00faff 230.5px,#04fffb 233.5px,#3bffc4 251.5px,#9fff60 277.5px,#ffff00 300.5px,#ff0d00 357.5px,#fd0000 361.5px,#dc0000 373.5px,#c90000 385.5px,#c50000 397.5px,#cf0000 407.5px,#e70000 417.5px,#fd0000 423.5px,#ff1900 429.5px,#ff5800 440.5px,#ffc200 455.5px,#fffd00 463.5px,#81ff7e 482.5px,#3effc1 494.5px,#09fff6 506.5px,#00fdff 509.5px,#00d8ff 522.5px,#00bcff 537.5px,#00a9ff 556.5px,#00a4ff 582.5px,#00a4ff 586.5px)"></i><i style="width:3px;background:linear-gradient(#000090 0.5px,#000088 24.5px,#000096 52.5px,#0000c6 105.5px,#0000eb 132.5px,#0001ff 143.5px,#0037ff 167.5px,#0087ff 196.5px,#00f9ff 230.5px,#03fffc 233.5px,#3effc1 252.5px,#a7ff58 279.5px,#ffff00 300.5px,#ff1100 356.5px,#fe0000 361.5px,#dd0000 373.5px,#ca0000 385.5px,#c60000 397.5px,#d00000 407.5px,#e80000 417.5px,#fe0000 423.5px,#ff2400 431.5px,#ff6600 442.5px,#fffd00 463.5px,#80ff7f 482.5px,#3dffc2 494.5px,#09fff6 506.5px,#00fdff 509.5px,#00d7ff 522.5px,#00bbff 537.5px,#00a9ff 556.5px,#00a3ff 581.5px,#00a3ff 586.5px)"></i><i style="width:3px;background:linear-gradient(#000090 0.5px,#000088 24.5px,#000095 51.5px,#0000c3 103.5px,#0000e8 130.5px,#0001ff 143.5px,#003aff 168.5px,#0088ff 196.5px,#00fcff 231.5px,#06fff9 234.5px,#42ffbd 253.5px,#b0ff4f 281.5px,#ffff00 300.5px,#ff1200 356.5px,#ff0000 361.5px,#de0000 373.5px,#cb0000 385.5px,#c70000 397.5px,#d10000 407.5px,#e90000 417.5px,#ff0000 423.5px,#ff2a00 432.5px,#ff6d00 443.5px,#fffe00 463.5px,#80ff7f 482.5px,#3dffc2 494.5px,#08fff7 506.5px,#00fcff 509.5px,#00d6ff 522.5px,#00baff 537.5px,#00a8ff 556.5px,#00a3ff 581.5px,#00a3ff 586.5px)"></i><i style="width:3px;background:linear-gradient(#000091 0.5px,#000088 25.5px,#000096 53.5px,#0000c4 104.5px,#0000ea 131.5px,#0001ff 143.5px,#003eff 169.5px,#008bff 197.5px,#00feff 232.5px,#3bffc4 251.5px,#9fff60 277.5px,#ffff00 300.5px,#ff1600 355.5px,#ff0100 361.5px,#dc0000 374.5px,#cb0000 386.5px,#c80000 398.5px,#d30000 408.5px,#ed0000 418.5px,#ff0000 423.5px,#ff3000 433.5px,#ff7500 444.5px,#fffe00 463.5px,#86ff79 481.5px,#3cffc3 494.5px,#08fff7 506.5px,#00ffff 508.5px,#00d8ff 521.5px,#00bbff 536.5px,#00a8ff 554.5px,#00a2ff 578.5px,#00a2ff 586.5px)"></i><i style="width:3px;background:linear-gradient(#000091 0.5px,#000089 25.5px,#000096 53.5px,#0000c2 102.5px,#0000e6 129.5px,#0002ff 143.5px,#0047ff 172.5px,#008eff 198.5px,#00feff 232.5px,#3bffc4 251.5px,#9fff60 277.5px,#ffff00 300.5px,#ff1700 355.5px,#fd0000 362.5px,#dd0000 374.5px,#cc0000 386.5px,#c90000 398.5px,#d40000 408.5px,#ed0000 418.5px,#ff0100 423.5px,#ff3100 433.5px,#ff7500 444.5px,#fffe00 463.5px,#86ff79 481.5px,#3cffc3 494.5px,#07fff8 506.5px,#00feff 508.5px,#00d7ff 521.5px,#00baff 536.5px,#00a8ff 554.5px,#00a2ff 578.5px,#00a2ff 586.5px)"></i><i style="width:3px;background:linear-gradient(#000091 0.5px,#000089 25.5px,#000095 52.5px,#0000bf 100.5px,#0000e3 127.5px,#0001ff 142.5px,#004aff 173.5px,#008fff 198.5px,#00feff 232.5px,#37ffc8 250.5px,#97ff68 275.5px,#ffff00 300.5px,#ff1800 355.5px,#fe0000 362.5px,#de0000 374.5px,#cc0000 386.5px,#c90000 398.5px,#d40000 408.5px,#ee0000 418.5px,#ff0100 423.5px,#ff3100 433.5px,#ff7600 444.5px,#ffff00 463.5px,#8bff74 480.5px,#41ffbe 493.5px,#0afff5 505.5px,#00feff 508.5px,#00d6ff 521.5px,#00b9ff 536.5px,#00a7ff 554.5px,#00a1ff 578.5px,#00a1ff 586.5px)"></i><i style="width:3px;background:linear-gradient(#000092 0.5px,#00008a 26.5px,#000097 54.5px,#0000c1 101.5px,#0000e4 127.5px,#0001ff 142.5px,#005dff 180.5px,#009cff 202.5px,#00fdff 232.5px,#34ffcb 249.5px,#8fff70 273.5px,#ffff00 300.5px,#ff1c00 354.5px,#ff0000 362.5px,#de0000 374.5px,#cd0000 386.5px,#ca0000 398.5px,#d50000 408.5px,#ee0000 418.5px,#ff0200 423.5px,#ff3200 433.5px,#ff7600 444.5px,#ffff00 463.5px,#8bff74 480.5px,#40ffbf 493.5px,#09fff6 505.5px,#00fdff 508.5px,#00d6ff 521.5px,#00b9ff 536.5px,#00a6ff 554.5px,#00a0ff 578.5px,#00a1ff 586.5px)"></i><i style="width:3px;background:linear-gradient(#000092 0.5px,#00008b 26.5px,#000097 54.5px,#0000be 99.5px,#0000e3 126.5px,#0000ff 141.5px,#006bff 185.5px,#00a9ff 206.5px,#01fffe 233.5px,#49ffb6 255.5px,#ceff31 288.5px,#fffe00 300.5px,#ff1c00 354.5px,#ff0000 362.5px,#dd0000 375.5px,#cc0000 387.5px,#cb0000 399.5px,#d70000 409.5px,#f20000 419.5px,#ff0200 423.5px,#ff3200 433.5px,#ff7d00 445.5px,#ffff00 463.5px,#8bff74 480.5px,#40ffbf 493.5px,#09fff6 505.5px,#00fcff 508.5px,#00d5ff 521.5px,#00b8ff 536.5px,#00a5ff 554.5px,#00a0ff 578.5px,#00a0ff 586.5px)"></i><i style="width:3px;background:linear-gradient(#000093 0.5px,#00008c 27.5px,#000099 56.5px,#0000c0 100.5px,#0000e3 126.5px,#0001ff 141.5px,#0081ff 193.5px,#00e0ff 223.5px,#01fffe 233.5px,#49ffb6 255.5px,#d2ff2d 289.5px,#fffe00 300.5px,#ff1d00 354.5px,#ff0100 362.5px,#dd0000 375.5px,#cd0000 387.5px,#cb0000 398.5px,#d50000 408.5px,#ef0000 418.5px,#ff0200 423.5px,#ff3300 433.5px,#ff7e00 445.5px,#ffff00 463.5px,#8bff74 480.5px,#3fffc0 493.5px,#08fff7 505.5px,#00ffff 507.5px,#00d7ff 520.5px,#00b8ff 535.5px,#00a5ff 553.5px,#009fff 576.5px,#00a0ff 586.5px)"></i><i style="width:3px;background:linear-gradient(#000093 0.5px,#00008d 27.5px,#00009a 56.5px,#0000bf 99.5px,#0000e2 125.5px,#0002ff 141.5px,#008aff 196.5px,#00ffff 233.5px,#49ffb6 255.5px,#d6ff29 290.5px,#fffe00 300.5px,#ff2100 353.5px,#ff0100 362.5px,#dc0000 376.5px,#cc0000 388.5px,#cb0000 399.5px,#d80000 409.5px,#f20000 419.5px,#ff0200 423.5px,#ff3300 433.5px,#ff7e00 445.5px,#feff01 463.5px,#8aff75 480.5px,#3fffc0 493.5px,#07fff8 505.5px,#00ffff 507.5px,#00d6ff 520.5px,#00b8ff 535.5px,#00a5ff 553.5px,#009eff 576.5px,#009fff 586.5px)"></i><i style="width:3px;background:linear-gradient(#000094 0.5px,#00008e 28.5px,#00009b 57.5px,#0000bf 99.5px,#0000e3 125.5px,#0001ff 140.5px,#008eff 197.5px,#00ffff 233.5px,#49ffb6 255.5px,#dbff24 291.5px,#fffe00 300.5px,#ff2100 353.5px,#fd0000 363.5px,#dc0000 376.5px,#cd0000 388.5px,#cc0000 399.5px,#d80000 409.5px,#f20000 419.5px,#ff0200 423.5px,#ff3300 433.5px,#ff7f00 445.5px,#feff01 463.5px,#8aff75 480.5px,#3effc1 493.5px,#07fff8 505.5px,#00feff 507.5px,#00d5ff 520.5px,#00b7ff 535.5px,#00a4ff 553.5px,#009eff 576.5px,#009fff 586.5px)"></i><i style="width:3px;background:linear-gradient(#000095 0.5px,#00008f 28.5px,#00009c 57.5px,#0000bf 98.5px,#0000e2 124.5px,#0002ff 140.5px,#0091ff 198.5px,#00ffff 233.5px,#49ffb6 255.5px,#e3ff1c 293.5px,#fffd00 300.5px,#ff2100 353.5px,#fe0000 363.5px,#dd0000 376.5px,#cd0000 388.5px,#cc0000 399.5px,#d80000 409.5px,#f20000 419.5px,#ff0300 423.5px,#ff3300 433.5px,#ff7f00 445.5px,#feff01 463.5px,#8aff75 480.5px,#3effc1 493.5px,#06fff9 505.5px,#00fdff 507.5px,#00d4ff 520.5px,#00b6ff 535.5px,#00a3ff 553.5px,#009dff 575.5px,#009eff 586.5px)"></i><i style="width:3px;background:linear-gradient(#000096 0.5px,#000090 29.5px,#00009e 59.5px,#0000c0 99.5px,#0000e3 124.5px,#0001ff 139.5px,#006eff 184.5px,#00a3ff 204.5px,#00ffff 233.5px,#46ffb9 254.5px,#d7ff28 290.5px,#fffd00 300.5px,#ff2200 353.5px,#fe0000 363.5px,#dd0000 376.5px,#cd0000 388.5px,#cc0000 399.5px,#d80000 409.5px,#f30000 419.5px,#ff0300 423.5px,#ff3300 433.5px,#ff7f00 445.5px,#fdff02 463.5px,#8aff75 480.5px,#3dffc2 493.5px,#05fffa 505.5px,#00fdff 507.5px,#00d4ff 520.5px,#00b5ff 535.5px,#00a3ff 552.5px,#009cff 574.5px,#009eff 586.5px)"></i><i style="width:3px;background:linear-gradient(#000096 0.5px,#000092 29.5px,#00009f 59.5px,#0000c0 98.5px,#0000e2 123.5px,#0000ff 138.5px,#0064ff 179.5px,#0097ff 200.5px,#00feff 233.5px,#46ffb9 254.5px,#e0ff1f 292.5px,#fffd00 300.5px,#ff2200 353.5px,#fe0000 363.5px,#dd0000 376.5px,#cd0000 388.5px,#cc0000 399.5px,#d80000 409.5px,#f20000 419.5px,#ff0300 423.5px,#ff3300 433.5px,#ff8000 445.5px,#fdff02 463.5px,#83ff7c 481.5px,#38ffc7 494.5px,#01fffe 506.5px,#00d3ff 520.5px,#00b4ff 535.5px,#00a2ff 552.5px,#009cff 574.5px,#009dff 586.5px)"></i><i style="width:3px;background:linear-gradient(#000097 0.5px,#000093 30.5px,#0000a1 61.5px,#0000c2 99.5px,#0000e3 123.5px,#0001ff 138.5px,#005fff 176.5px,#0095ff 199.5px,#00feff 233.5px,#42ffbd 253.5px,#d3ff2c 289.5px,#fdff02 299.5px,#ff1f00 354.5px,#ff0000 363.5px,#de0000 376.5px,#cd0000 388.5px,#cc0000 399.5px,#d80000 409.5px,#f20000 419.5px,#ff0200 423.5px,#ff2e00 432.5px,#ff7900 444.5px,#fffa00 462.5px,#fdff02 463.5px,#83ff7c 481.5px,#37ffc8 494.5px,#04fffb 505.5px,#00fbff 507.5px,#00d2ff 520.5px,#00b4ff 535.5px,#00a1ff 552.5px,#009bff 573.5px,#009dff 586.5px)"></i><i style="width:3px;background:linear-gradient(#000098 0.5px,#000094 30.5px,#0000a2 61.5px,#0000c3 99.5px,#0000e4 123.5px,#0000ff 137.5px,#005eff 175.5px,#0092ff 198.5px,#00ebff 227.5px,#02fffd 234.5px,#49ffb6 255.5px,#fdff02 299.5px,#ff1f00 354.5px,#ff0000 363.5px,#de0000 376.5px,#ce0000 388.5px,#cc0000 399.5px,#d80000 409.5px,#f20000 419.5px,#ff0200 423.5px,#ff2e00 432.5px,#ff7900 444.5px,#fffa00 462.5px,#fcff03 463.5px,#82ff7d 481.5px,#37ffc8 494.5px,#03fffc 505.5px,#00fbff 507.5px,#00d2ff 520.5px,#00b3ff 535.5px,#00a0ff 552.5px,#009aff 573.5px,#009cff 586.5px)"></i><i style="width:3px;background:linear-gradient(#00009a 0.5px,#000096 31.5px,#0000a5 63.5px,#0000c5 100.5px,#0000e6 124.5px,#0001ff 137.5px,#005cff 173.5px,#0090ff 197.5px,#00d5ff 220.5px,#02fffd 234.5px,#46ffb9 254.5px,#feff01 299.5px,#ff1f00 354.5px,#ff0000 363.5px,#de0000 376.5px,#ce0000 388.5px,#cc0000 399.5px,#d80000 409.5px,#f20000 419.5px,#ff0200 423.5px,#ff2e00 432.5px,#ff7a00 444.5px,#fffb00 462.5px,#fcff03 463.5px,#82ff7d 481.5px,#36ffc9 494.5px,#03fffc 505.5px,#00f6ff 508.5px,#00ceff 521.5px,#00b1ff 536.5px,#009fff 553.5px,#009aff 574.5px,#009bff 586.5px)"></i><i style="width:3px;background:linear-gradient(#00009b 0.5px,#000097 31.5px,#0000a6 63.5px,#0000c4 99.5px,#0000e6 123.5px,#0000ff 136.5px,#005bff 172.5px,#0090ff 197.5px,#00d1ff 219.5px,#02fffd 234.5px,#45ffba 254.5px,#feff01 299.5px,#ff1f00 354.5px,#ff0100 363.5px,#dc0000 377.5px,#cd0000 389.5px,#cd0000 400.5px,#da0000 410.5px,#f60000 420.5px,#ff0200 423.5px,#ff2e00 432.5px,#ff7a00 444.5px,#fffb00 462.5px,#f5ff0a 464.5px,#7cff83 482.5px,#31ffce 495.5px,#02fffd 505.5px,#00e1ff 514.5px,#00beff 528.5px,#00a5ff 544.5px,#009aff 562.5px,#009bff 586.5px)"></i><i style="width:3px;background:linear-gradient(#00009c 0.5px,#000099 32.5px,#0000a9 65.5px,#0000c7 100.5px,#0000e8 124.5px,#0001ff 136.5px,#005dff 172.5px,#008dff 196.5px,#00c7ff 216.5px,#02fffd 234.5px,#41ffbe 253.5px,#feff01 299.5px,#ff2000 354.5px,#ff0100 363.5px,#dd0000 377.5px,#cd0000 389.5px,#cd0000 400.5px,#da0000 410.5px,#f50000 420.5px,#ff0200 423.5px,#ff2e00 432.5px,#ff7a00 444.5px,#fffb00 462.5px,#f4ff0b 464.5px,#7cff83 482.5px,#30ffcf 495.5px,#02fffd 505.5px,#00d0ff 520.5px,#00b1ff 535.5px,#009dff 552.5px,#0098ff 572.5px,#009aff 586.5px)"></i><i style="width:3px;background:linear-gradient(#00009d 0.5px,#00009a 32.5px,#0000ab 66.5px,#0000c9 101.5px,#0000e9 124.5px,#0002ff 136.5px,#003eff 159.5px,#0062ff 174.5px,#008dff 196.5px,#00c4ff 215.5px,#01fffe 234.5px,#41ffbe 253.5px,#feff01 299.5px,#ff2000 354.5px,#ff0100 363.5px,#dd0000 377.5px,#cd0000 389.5px,#cd0000 400.5px,#dc0000 411.5px,#f90000 421.5px,#ff0200 423.5px,#ff2e00 432.5px,#ff7b00 444.5px,#fffc00 462.5px,#f4ff0b 464.5px,#75ff8a 483.5px,#2bffd4 496.5px,#01fffe 505.5px,#00d2ff 519.5px,#00b1ff 534.5px,#009dff 551.5px,#0097ff 571.5px,#009aff 586.5px)"></i><i style="width:3px;background:linear-gradient(#00009e 0.5px,#00009c 32.5px,#0000ac 66.5px,#0000c9 100.5px,#0000ea 124.5px,#0001ff 135.5px,#0037ff 156.5px,#005eff 171.5px,#008bff 195.5px,#00bdff 213.5px,#01fffe 234.5px,#3dffc2 252.5px,#ffff00 299.5px,#ff2000 354.5px,#ff0100 363.5px,#db0000 378.5px,#cd0000 390.5px,#ce0000 401.5px,#dc0000 411.5px,#f90000 421.5px,#ff0100 423.5px,#ff2e00 432.5px,#ff7b00 444.5px,#fffc00 462.5px,#edff12 465.5px,#6fff90 484.5px,#2affd5 496.5px,#01fffe 505.5px,#00d1ff 519.5px,#00b1ff 534.5px,#009cff 551.5px,#0096ff 570.5px,#0099ff 586.5px)"></i><i style="width:3px;background:linear-gradient(#0000a0 0.5px,#00009e 33.5px,#0000af 68.5px,#0000cb 101.5px,#0000eb 124.5px,#0002ff 135.5px,#0038ff 156.5px,#005dff 170.5px,#008bff 195.5px,#00bdff 213.5px,#01fffe 234.5px,#39ffc6 251.5px,#ffff00 299.5px,#ff1d00 355.5px,#fd0000 364.5px,#dd0000 377.5px,#ce0000 389.5px,#cd0000 400.5px,#dc0000 411.5px,#f90000 421.5px,#ff0100 423.5px,#ff2e00 432.5px,#ff8200 445.5px,#fffd00 462.5px,#deff21 467.5px,#62ff9d 486.5px,#20ffdf 498.5px,#01fffe 505.5px,#00d3ff 518.5px,#00b2ff 533.5px,#009cff 550.5px,#0095ff 569.5px,#0098ff 586.5px)"></i><i style="width:3px;background:linear-gradient(#0000a1 0.5px,#00009f 33.5px,#0000b1 69.5px,#0000cd 102.5px,#0000ee 125.5px,#0001ff 134.5px,#0034ff 154.5px,#005cff 169.5px,#008bff 195.5px,#00baff 212.5px,#00ffff 234.5px,#39ffc6 251.5px,#ffff00 299.5px,#ff1d00 355.5px,#fe0000 364.5px,#dd0000 377.5px,#ce0000 389.5px,#ce0000 400.5px,#dc0000 411.5px,#f90000 421.5px,#ff0100 423.5px,#ff2800 431.5px,#ff7500 443.5px,#fffd00 462.5px,#95ff6a 478.5px,#39ffc6 493.5px,#04fffb 504.5px,#00fbff 506.5px,#00d0ff 519.5px,#00afff 534.5px,#009aff 551.5px,#0094ff 570.5px,#0098ff 586.5px)"></i><i style="width:3px;background:linear-gradient(#0000a2 0.5px,#0000a1 34.5px,#0000b3 71.5px,#0000d0 103.5px,#0000f1 126.5px,#0002ff 134.5px,#0034ff 154.5px,#005dff 169.5px,#008aff 195.5px,#00b9ff 212.5px,#00ffff 234.5px,#34ffcb 250.5px,#ffff00 299.5px,#ff1d00 355.5px,#fe0000 364.5px,#de0000 377.5px,#ce0000 389.5px,#ce0000 400.5px,#dd0000 411.5px,#f90000 421.5px,#ff0100 423.5px,#ff2800 431.5px,#ff7500 443.5px,#fffd00 462.5px,#62ff9d 486.5px,#24ffdb 497.5px,#00ffff 505.5px,#00d3ff 518.5px,#00b0ff 533.5px,#009bff 549.5px,#0093ff 567.5px,#0097ff 586.5px)"></i><i style="width:3px;background:linear-gradient(#0000a4 0.5px,#0000a3 34.5px,#0000b6 72.5px,#0000d2 104.5px,#0000f4 127.5px,#0001ff 133.5px,#0032ff 153.5px,#005eff 169.5px,#0088ff 194.5px,#00b3ff 210.5px,#00ffff 234.5px,#30ffcf 249.5px,#fffe00 299.5px,#ff1e00 355.5px,#fe0000 364.5px,#de0000 377.5px,#ce0000 389.5px,#ce0000 400.5px,#dd0000 411.5px,#f90000 421.5px,#ff0100 423.5px,#ff2800 431.5px,#ff7c00 444.5px,#fffd00 462.5px,#62ff9d 486.5px,#24ffdb 497.5px,#00ffff 505.5px,#00d2ff 518.5px,#00b0ff 533.5px,#009aff 549.5px,#0092ff 567.5px,#0096ff 586.5px)"></i><i style="width:3px;background:linear-gradient(#0000a5 0.5px,#0000a5 35.5px,#0000b9 75.5px,#0000d6 106.5px,#0000f7 128.5px,#0002ff 133.5px,#0032ff 153.5px,#005eff 169.5px,#0087ff 194.5px,#00b2ff 210.5px,#00feff 234.5px,#2cffd3 248.5px,#fffe00 299.5px,#ff1e00 355.5px,#fe0000 364.5px,#de0000 377.5px,#ce0000 389.5px,#ce0000 400.5px,#dd0000 411.5px,#f90000 421.5px,#ff0200 423.5px,#ff2300 430.5px,#ff6f00 442.5px,#fffe00 462.5px,#61ff9e 486.5px,#24ffdb 497.5px,#00ffff 505.5px,#00d2ff 518.5px,#00afff 533.5px,#0099ff 549.5px,#0091ff 567.5px,#0096ff 586.5px)"></i><i style="width:3px;background:linear-gradient(#0000a6 0.5px,#0000a6 35.5px,#0000bb 76.5px,#0000d8 107.5px,#0000fa 129.5px,#0003ff 133.5px,#0033ff 153.5px,#005eff 169.5px,#0087ff 194.5px,#00b2ff 210.5px,#00feff 234.5px,#24ffdb 246.5px,#86ff79 270.5px,#fffe00 299.5px,#ff1e00 355.5px,#ff0000 364.5px,#de0000 377.5px,#cf0000 389.5px,#cf0000 400.5px,#de0000 411.5px,#fa0000 421.5px,#ff0200 423.5px,#ff2300 430.5px,#ff6f00 442.5px,#fffe00 462.5px,#5bffa4 487.5px,#1fffe0 498.5px,#00ffff 505.5px,#00d2ff 518.5px,#00aeff 533.5px,#0098ff 549.5px,#0090ff 566.5px,#0095ff 586.5px)"></i><i style="width:3px;background:linear-gradient(#0000a8 0.5px,#0000a8 35.5px,#0000be 77.5px,#0000db 108.5px,#0000fd 130.5px,#000cff 137.5px,#0041ff 158.5px,#0060ff 170.5px,#0086ff 194.5px,#00b1ff 210.5px,#01fffe 235.5px,#2fffd0 249.5px,#fffe00 299.5px,#ff1f00 355.5px,#ff0000 364.5px,#df0000 377.5px,#cf0000 389.5px,#cf0000 400.5px,#de0000 411.5px,#fa0000 421.5px,#ff0300 423.5px,#ff2a00 431.5px,#ff7e00 444.5px,#fffe00 462.5px,#5bffa4 487.5px,#1fffe0 498.5px,#00ffff 505.5px,#00d2ff 518.5px,#00aeff 533.5px,#0097ff 549.5px,#008fff 566.5px,#0094ff 586.5px)"></i><i style="width:3px;background:linear-gradient(#0000a9 0.5px,#0000aa 36.5px,#0000c1 79.5px,#0000dd 109.5px,#0000ff 131.5px,#0033ff 153.5px,#005fff 170.5px,#0088ff 195.5px,#00b4ff 211.5px,#00ffff 235.5px,#2bffd4 248.5px,#fffe00 299.5px,#ff1f00 355.5px,#ff0100 364.5px,#dd0000 378.5px,#cf0000 390.5px,#d00000 401.5px,#e10000 412.5px,#ff0000 422.5px,#ff2500 430.5px,#ff7000 442.5px,#fffe00 462.5px,#5affa5 487.5px,#1fffe0 498.5px,#00ffff 505.5px,#00d1ff 518.5px,#00adff 533.5px,#0096ff 549.5px,#008eff 566.5px,#0093ff 586.5px)"></i><i style="width:3px;background:linear-gradient(#0000ab 0.5px,#0000ac 36.5px,#0000c3 80.5px,#0000e0 110.5px,#0001ff 131.5px,#0033ff 153.5px,#0060ff 171.5px,#0087ff 195.5px,#00b6ff 212.5px,#00ffff 235.5px,#2affd5 248.5px,#fffe00 299.5px,#ff2000 355.5px,#ff0100 364.5px,#dc0000 379.5px,#cf0000 391.5px,#d10000 402.5px,#e40000 413.5px,#ff0000 422.5px,#ff2600 430.5px,#ff7100 442.5px,#fffe00 462.5px,#5affa5 487.5px,#1fffe0 498.5px,#00ffff 505.5px,#00d1ff 518.5px,#00adff 533.5px,#0095ff 549.5px,#008dff 566.5px,#0092ff 586.5px)"></i><i style="width:3px;background:linear-gradient(#0000ac 0.5px,#0000ad 36.5px,#0000c5 81.5px,#0000e2 111.5px,#0002ff 131.5px,#0037ff 155.5px,#0060ff 172.5px,#0087ff 195.5px,#00b6ff 212.5px,#00feff 235.5px,#2affd5 248.5px,#fffe00 299.5px,#ff2400 354.5px,#fd0000 365.5px,#de0000 378.5px,#cf0000 390.5px,#d10000 401.5px,#e20000 412.5px,#ff0100 422.5px,#ff2c00 431.5px,#ff7f00 444.5px,#fffd00 462.5px,#5bffa4 487.5px,#1fffe0 498.5px,#00ffff 505.5px,#00ceff 519.5px,#00aaff 534.5px,#0093ff 550.5px,#008cff 567.5px,#0091ff 586.5px)"></i><i style="width:3px;background:linear-gradient(#0000ad 0.5px,#0000af 37.5px,#0000c8 83.5px,#0000e6 113.5px,#0001ff 130.5px,#0035ff 154.5px,#0061ff 173.5px,#0088ff 196.5px,#00bbff 214.5px,#02fffd 236.5px,#32ffcd 250.5px,#fffe00 299.5px,#ff2800 353.5px,#fe0000 365.5px,#de0000 378.5px,#d00000 390.5px,#d20000 401.5px,#e00000 411.5px,#fe0000 421.5px,#ff1d00 428.5px,#ff5700 438.5px,#fffd00 462.5px,#5bffa4 487.5px,#20ffdf 498.5px,#00ffff 505.5px,#00ceff 519.5px,#00aaff 534.5px,#0092ff 550.5px,#008aff 566.5px,#0090ff 586.5px)"></i><i style="width:3px;background:linear-gradient(#0000af 0.5px,#0000b1 37.5px,#0000ca 84.5px,#0000e9 114.5px,#0002ff 130.5px,#0039ff 156.5px,#0062ff 174.5px,#0087ff 196.5px,#00beff 215.5px,#01fffe 236.5px,#35ffca 251.5px,#fffe00 299.5px,#ff2c00 352.5px,#fe0000 365.5px,#df0000 378.5px,#d00000 390.5px,#d20000 401.5px,#e10000 411.5px,#ff0000 421.5px,#ff2300 429.5px,#ff6500 440.5px,#fffd00 462.5px,#5bffa4 487.5px,#1bffe4 499.5px,#01fffe 505.5px,#00cbff 520.5px,#00a7ff 535.5px,#0090ff 551.5px,#0089ff 567.5px,#008fff 586.5px)"></i><i style="width:3px;background:linear-gradient(#0000b0 0.5px,#0000b3 38.5px,#0000cd 85.5px,#0000eb 115.5px,#0001ff 129.5px,#0038ff 156.5px,#0062ff 175.5px,#0087ff 196.5px,#00bdff 215.5px,#01fffe 236.5px,#39ffc6 252.5px,#fffe00 299.5px,#ff3000 351.5px,#ff0000 365.5px,#df0000 378.5px,#d10000 390.5px,#d30000 401.5px,#e20000 411.5px,#ff0100 421.5px,#ff2a00 430.5px,#ff7200 442.5px,#fffd00 462.5px,#b6ff49 473.5px,#50ffaf 489.5px,#12ffed 501.5px,#01fffe 505.5px,#00cbff 520.5px,#00a6ff 535.5px,#0090ff 550.5px,#0088ff 566.5px,#008eff 586.5px)"></i><i style="width:3px;background:linear-gradient(#0000b2 0.5px,#0000b5 38.5px,#0000ce 85.5px,#0000ec 115.5px,#0002ff 129.5px,#003aff 157.5px,#0063ff 176.5px,#0087ff 196.5px,#00bdff 215.5px,#00ffff 236.5px,#3dffc2 253.5px,#fffe00 299.5px,#ff3400 350.5px,#ff0000 365.5px,#de0000 379.5px,#d20000 390.5px,#d30000 401.5px,#e30000 411.5px,#ff0200 421.5px,#ff2b00 430.5px,#ff7300 442.5px,#fffd00 462.5px,#dfff20 467.5px,#62ff9d 486.5px,#21ffde 498.5px,#01fffe 505.5px,#00c8ff 521.5px,#00a4ff 536.5px,#008eff 551.5px,#0086ff 567.5px,#008dff 586.5px)"></i><i style="width:3px;background:linear-gradient(#0000b3 0.5px,#0000b7 39.5px,#0000d0 85.5px,#0000ef 116.5px,#0001ff 128.5px,#0038ff 156.5px,#0064ff 177.5px,#0089ff 197.5px,#00c3ff 217.5px,#00ffff 236.5px,#3dffc2 253.5px,#fffe00 299.5px,#ff3800 349.5px,#ff0100 365.5px,#df0000 379.5px,#d20000 390.5px,#d40000 401.5px,#e40000 411.5px,#fe0000 420.5px,#ff2100 428.5px,#ff6000 439.5px,#fffc00 462.5px,#edff12 465.5px,#69ff96 485.5px,#26ffd9 497.5px,#02fffd 505.5px,#00c5ff 522.5px,#00a1ff 537.5px,#008cff 552.5px,#0085ff 568.5px,#008cff 586.5px)"></i><i style="width:3px;background:linear-gradient(#0000b5 0.5px,#0000b8 39.5px,#0000d1 85.5px,#0000f0 116.5px,#0002ff 128.5px,#0037ff 156.5px,#0066ff 179.5px,#0088ff 197.5px,#00c2ff 217.5px,#00ffff 236.5px,#3dffc2 253.5px,#fffe00 299.5px,#ff4000 347.5px,#ff0100 365.5px,#dd0000 380.5px,#d20000 391.5px,#d60000 402.5px,#e70000 412.5px,#ff0000 420.5px,#ff2700 429.5px,#ff6d00 441.5px,#fffc00 462.5px,#f4ff0b 464.5px,#70ff8f 484.5px,#2cffd3 496.5px,#03fffc 505.5px,#00f1ff 509.5px,#00c2ff 523.5px,#009fff 538.5px,#008aff 553.5px,#0084ff 569.5px,#008aff 586.5px)"></i><i style="width:3px;background:linear-gradient(#0000b6 0.5px,#0000ba 40.5px,#0000d4 86.5px,#0000f3 117.5px,#0002ff 127.5px,#0035ff 155.5px,#0069ff 181.5px,#008aff 198.5px,#00cbff 220.5px,#00feff 236.5px,#3dffc2 253.5px,#fffe00 299.5px,#ff4400 346.5px,#ff0500 364.5px,#fb0000 367.5px,#de0000 380.5px,#d30000 391.5px,#d60000 402.5px,#e70000 412.5px,#ff0100 420.5px,#ff2d00 430.5px,#ff7400 442.5px,#fffb00 462.5px,#f5ff0a 464.5px,#70ff8f 484.5px,#28ffd7 497.5px,#00feff 506.5px,#00cbff 520.5px,#00a4ff 535.5px,#008cff 550.5px,#0082ff 565.5px,#0089ff 586.5px)"></i><i style="width:3px;background:linear-gradient(#0000b7 0.5px,#0000bc 40.5px,#0000d5 86.5px,#0000f4 117.5px,#0002ff 127.5px,#0037ff 156.5px,#006eff 184.5px,#008fff 200.5px,#00dbff 225.5px,#00feff 236.5px,#3dffc2 253.5px,#fffe00 299.5px,#ff4c00 344.5px,#ff0900 363.5px,#fe0000 366.5px,#e00000 379.5px,#d40000 390.5px,#d60000 401.5px,#e60000 411.5px,#ff0200 420.5px,#ff2e00 430.5px,#ff7400 442.5px,#fffb00 462.5px,#fcff03 463.5px,#71ff8e 484.5px,#29ffd6 497.5px,#00feff 506.5px,#00cbff 520.5px,#00a3ff 535.5px,#008aff 550.5px,#0081ff 565.5px,#0087ff 585.5px,#0088ff 586.5px)"></i><i style="width:3px;background:linear-gradient(#0000b9 0.5px,#0000be 41.5px,#0000d7 86.5px,#0000f6 118.5px,#0002ff 126.5px,#0033ff 154.5px,#008aff 198.5px,#00c7ff 219.5px,#00feff 236.5px,#3cffc3 253.5px,#fffe00 299.5px,#ff5400 342.5px,#ff0900 363.5px,#ff0000 366.5px,#e10000 379.5px,#d40000 390.5px,#d60000 401.5px,#e60000 411.5px,#fe0000 419.5px,#ff2000 427.5px,#ff5b00 438.5px,#ffd100 456.5px,#fdff02 463.5px,#72ff8d 484.5px,#29ffd6 497.5px,#00ffff 506.5px,#00c8ff 521.5px,#00a1ff 536.5px,#0088ff 551.5px,#0080ff 566.5px,#0087ff 586.5px)"></i><i style="width:3px;background:linear-gradient(#0000ba 0.5px,#0000c0 41.5px,#0000d8 86.5px,#0000f7 118.5px,#0003ff 126.5px,#0035ff 155.5px,#008aff 198.5px,#00c7ff 219.5px,#02fffd 237.5px,#4cffb3 257.5px,#fffe00 299.5px,#ff5c00 340.5px,#ff0d00 362.5px,#ff0000 366.5px,#e10000 379.5px,#d50000 390.5px,#d70000 401.5px,#e70000 411.5px,#ff0000 419.5px,#ff2500 428.5px,#ff6800 440.5px,#fff300 461.5px,#fdff02 463.5px,#73ff8c 484.5px,#2affd5 497.5px,#01fffe 506.5px,#00c5ff 522.5px,#009eff 537.5px,#0087ff 551.5px,#007eff 566.5px,#0086ff 586.5px)"></i><i style="width:3px;background:linear-gradient(#0000bc 0.5px,#0000c1 41.5px,#0000da 86.5px,#0000fa 119.5px,#0003ff 125.5px,#0033ff 154.5px,#0087ff 197.5px,#00c0ff 217.5px,#02fffd 237.5px,#4cffb3 257.5px,#fffe00 299.5px,#ff6400 338.5px,#ff0d00 362.5px,#fd0000 367.5px,#e00000 380.5px,#d50000 391.5px,#d90000 402.5px,#ea0000 412.5px,#ff0000 419.5px,#ff2b00 429.5px,#ff6e00 441.5px,#feff01 463.5px,#73ff8c 484.5px,#2bffd4 497.5px,#02fffd 506.5px,#00bfff 524.5px,#0099ff 539.5px,#0084ff 553.5px,#007dff 567.5px,#0085ff 586.5px)"></i><i style="width:3px;background:linear-gradient(#0000bd 0.5px,#0000c3 42.5px,#0000dc 86.5px,#0000fb 119.5px,#0004ff 125.5px,#0033ff 154.5px,#0087ff 197.5px,#00c0ff 217.5px,#02fffd 237.5px,#50ffaf 258.5px,#ffff00 299.5px,#ff6c00 336.5px,#ff1100 361.5px,#fd0000 367.5px,#e00000 380.5px,#d50000 391.5px,#d90000 402.5px,#eb0000 412.5px,#ff0100 419.5px,#ff2b00 429.5px,#ff6e00 441.5px,#ffff00 463.5px,#74ff8b 484.5px,#2cffd3 497.5px,#02fffd 506.5px,#00e5ff 513.5px,#00b1ff 529.5px,#008fff 544.5px,#007eff 558.5px,#007cff 573.5px,#0083ff 586.5px)"></i><i style="width:3px;background:linear-gradient(#0000be 0.5px,#0000c5 42.5px,#0000dd 86.5px,#0000fd 120.5px,#0017ff 138.5px,#0079ff 191.5px,#00a7ff 209.5px,#02fffd 237.5px,#50ffaf 258.5px,#ffff00 299.5px,#ff7400 334.5px,#ff1100 361.5px,#fe0000 367.5px,#e10000 380.5px,#d60000 391.5px,#da0000 402.5px,#eb0000 412.5px,#ff0100 419.5px,#ff2c00 429.5px,#ff6e00 441.5px,#ffff00 463.5px,#75ff8a 484.5px,#2dffd2 497.5px,#00feff 507.5px,#00c6ff 522.5px,#009cff 537.5px,#0083ff 551.5px,#007aff 565.5px,#0080ff 583.5px,#0082ff 586.5px)"></i><i style="width:3px;background:linear-gradient(#0000c0 0.5px,#0000c7 42.5px,#0000df 86.5px,#0002ff 122.5px,#002eff 151.5px,#0084ff 196.5px,#00b9ff 215.5px,#01fffe 237.5px,#50ffaf 258.5px,#ffff00 299.5px,#ff7c00 332.5px,#ff1100 361.5px,#fe0000 367.5px,#e10000 380.5px,#d60000 391.5px,#da0000 402.5px,#ec0000 412.5px,#ff0200 419.5px,#ff2c00 429.5px,#ff7400 442.5px,#fffe00 463.5px,#70ff8f 485.5px,#29ffd6 498.5px,#00ffff 507.5px,#00c3ff 523.5px,#009aff 538.5px,#0081ff 552.5px,#0078ff 566.5px,#0080ff 584.5px,#0081ff 586.5px)"></i><i style="width:3px;background:linear-gradient(#0000c1 0.5px,#0000c9 43.5px,#0000e1 87.5px,#0002ff 121.5px,#002cff 150.5px,#0082ff 195.5px,#00b6ff 214.5px,#01fffe 237.5px,#50ffaf 258.5px,#ffff00 299.5px,#ff8000 331.5px,#ff1200 361.5px,#ff0000 367.5px,#e10000 380.5px,#d60000 391.5px,#da0000 402.5px,#ec0000 412.5px,#ff0200 419.5px,#ff2c00 429.5px,#ff7400 442.5px,#fffd00 463.5px,#6bff94 486.5px,#25ffda 499.5px,#01fffe 507.5px,#00c0ff 524.5px,#0097ff 539.5px,#007fff 553.5px,#0077ff 566.5px,#007fff 584.5px,#0080ff 586.5px)"></i><i style="width:3px;background:linear-gradient(#0000c3 0.5px,#0000ca 43.5px,#0000e3 87.5px,#0002ff 120.5px,#002bff 149.5px,#007fff 194.5px,#00b2ff 213.5px,#01fffe 237.5px,#4fffb0 258.5px,#ffff00 299.5px,#ff8400 330.5px,#ff1200 361.5px,#ff0000 367.5px,#e20000 380.5px,#d70000 391.5px,#db0000 402.5px,#ec0000 412.5px,#fe0000 418.5px,#ff2300 427.5px,#ff6200 439.5px,#ffdb00 458.5px,#fffc00 463.5px,#eeff11 466.5px,#72ff8d 485.5px,#2bffd4 498.5px,#02fffd 507.5px,#00baff 526.5px,#0092ff 541.5px,#007cff 554.5px,#0075ff 567.5px,#007eff 585.5px,#007fff 586.5px)"></i><i style="width:3px;background:linear-gradient(#0000c4 0.5px,#0000cc 43.5px,#0000e4 86.5px,#0002ff 119.5px,#002aff 148.5px,#007fff 194.5px,#00b2ff 213.5px,#01fffe 237.5px,#4fffb0 258.5px,#ffff00 299.5px,#ff8b00 328.5px,#ff1200 361.5px,#ff0000 367.5px,#e20000 380.5px,#d70000 391.5px,#db0000 402.5px,#ed0000 412.5px,#fe0000 418.5px,#ff2300 427.5px,#ff6200 439.5px,#ffda00 458.5px,#fffb00 463.5px,#f5ff0a 465.5px,#73ff8c 485.5px,#2cffd3 498.5px,#00fdff 508.5px,#00beff 525.5px,#0093ff 540.5px,#007cff 553.5px,#0074ff 566.5px,#007cff 583.5px,#007eff 586.5px)"></i><i style="width:3px;background:linear-gradient(#0000c5 0.5px,#0000ce 43.5px,#0000e5 86.5px,#0002ff 118.5px,#0029ff 147.5px,#007dff 193.5px,#00acff 211.5px,#01fffe 237.5px,#4fffb0 258.5px,#ffff00 299.5px,#ff8f00 327.5px,#ff0f00 362.5px,#ff0000 367.5px,#e20000 380.5px,#d70000 391.5px,#db0000 402.5px,#ed0000 412.5px,#fe0000 418.5px,#ff2300 427.5px,#ff6200 439.5px,#ffd900 458.5px,#fdff02 464.5px,#74ff8b 485.5px,#2dffd2 498.5px,#00feff 508.5px,#00beff 525.5px,#0093ff 540.5px,#007bff 553.5px,#0072ff 566.5px,#007aff 582.5px,#007dff 586.5px)"></i><i style="width:3px;background:linear-gradient(#0000c7 0.5px,#0000d0 43.5px,#0000e7 86.5px,#0002ff 117.5px,#0027ff 146.5px,#007bff 192.5px,#00a9ff 210.5px,#01fffe 237.5px,#4fffb0 258.5px,#ffff00 299.5px,#ff9300 326.5px,#ff1000 362.5px,#ff0100 367.5px,#e20000 380.5px,#d80000 391.5px,#db0000 402.5px,#ed0000 412.5px,#fe0000 418.5px,#ff2300 427.5px,#ff6200 439.5px,#ffd800 458.5px,#feff01 464.5px,#75ff8a 485.5px,#2effd1 498.5px,#00ffff 508.5px,#00b8ff 527.5px,#008dff 542.5px,#0077ff 555.5px,#0071ff 568.5px,#007cff 586.5px)"></i><i style="width:3px;background:linear-gradient(#0000c8 0.5px,#0000d1 43.5px,#0000e8 86.5px,#0002ff 116.5px,#0026ff 145.5px,#0075ff 189.5px,#00a0ff 207.5px,#01fffe 237.5px,#4fffb0 258.5px,#ffff00 299.5px,#ff9300 326.5px,#ff1000 362.5px,#fd0000 368.5px,#e30000 380.5px,#d80000 391.5px,#db0000 402.5px,#ed0000 412.5px,#fe0000 418.5px,#ff2300 427.5px,#ff6100 439.5px,#ffd700 458.5px,#ffff00 464.5px,#70ff8f 486.5px,#2affd5 499.5px,#01fffe 508.5px,#00b2ff 529.5px,#0088ff 544.5px,#0075ff 556.5px,#006fff 568.5px,#007bff 585.5px,#007cff 586.5px)"></i><i style="width:3px;background:linear-gradient(#0000ca 0.5px,#0000d3 43.5px,#0000ea 86.5px,#0002ff 115.5px,#0026ff 144.5px,#006dff 185.5px,#0095ff 203.5px,#00e2ff 228.5px,#01fffe 237.5px,#4affb5 257.5px,#ffff00 299.5px,#ff9700 325.5px,#ff0d00 363.5px,#fd0000 368.5px,#e30000 380.5px,#d80000 391.5px,#db0000 402.5px,#ed0000 412.5px,#ff0200 419.5px,#ff2c00 429.5px,#ff7800 443.5px,#fffe00 464.5px,#6bff94 487.5px,#26ffd9 500.5px,#00fdff 509.5px,#00b5ff 528.5px,#008aff 543.5px,#0075ff 555.5px,#006eff 567.5px,#0078ff 583.5px,#007bff 586.5px)"></i><i style="width:3px;background:linear-gradient(#0000cb 0.5px,#0000d5 42.5px,#0000eb 85.5px,#0001ff 113.5px,#0023ff 142.5px,#005dff 176.5px,#0088ff 198.5px,#00c2ff 218.5px,#01fffe 237.5px,#4affb5 257.5px,#ffff00 299.5px,#ff9b00 324.5px,#ff0d00 363.5px,#fd0000 368.5px,#e30000 380.5px,#d80000 391.5px,#db0000 402.5px,#ec0000 412.5px,#ff0200 419.5px,#ff2b00 429.5px,#ff7800 443.5px,#fffc00 464.5px,#eeff11 467.5px,#72ff8d 486.5px,#2cffd3 499.5px,#00ffff 509.5px,#00b2ff 529.5px,#0087ff 544.5px,#0072ff 556.5px,#006cff 568.5px,#0078ff 584.5px,#007aff 586.5px)"></i><i style="width:3px;background:linear-gradient(#0000cc 0.5px,#0000d6 42.5px,#0000ec 85.5px,#0002ff 112.5px,#0023ff 141.5px,#0056ff 172.5px,#0086ff 197.5px,#00beff 217.5px,#01fffe 237.5px,#4affb5 257.5px,#ffff00 299.5px,#ff9e00 323.5px,#ff0d00 363.5px,#fd0000 368.5px,#e30000 380.5px,#d80000 391.5px,#db0000 402.5px,#ec0000 412.5px,#ff0100 419.5px,#ff2b00 429.5px,#ff7700 443.5px,#fffb00 464.5px,#fcff03 465.5px,#73ff8c 486.5px,#32ffcd 498.5px,#01fffe 509.5px,#00acff 531.5px,#0084ff 545.5px,#0070ff 557.5px,#006bff 569.5px,#0079ff 586.5px)"></i><i style="width:3px;background:linear-gradient(#0000ce 0.5px,#0000d8 41.5px,#0000ed 84.5px,#0002ff 111.5px,#0022ff 140.5px,#0051ff 169.5px,#0086ff 197.5px,#00beff 217.5px,#01fffe 237.5px,#45ffba 256.5px,#ffff00 299.5px,#ff9e00 323.5px,#ff0a00 364.5px,#fd0000 368.5px,#e30000 380.5px,#d70000 392.5px,#dc0000 403.5px,#ee0000 413.5px,#ff0100 419.5px,#ff2a00 429.5px,#ff7600 443.5px,#feff01 465.5px,#74ff8b 486.5px,#33ffcc 498.5px,#02fffd 509.5px,#00b6ff 528.5px,#0088ff 543.5px,#0071ff 555.5px,#0069ff 566.5px,#0072ff 580.5px,#0079ff 586.5px)"></i><i style="width:3px;background:linear-gradient(#0000cf 0.5px,#0000da 41.5px,#0000ef 84.5px,#0002ff 109.5px,#0020ff 138.5px,#004cff 166.5px,#0086ff 197.5px,#00beff 217.5px,#01fffe 237.5px,#41ffbe 255.5px,#dcff23 291.5px,#ffff00 299.5px,#ff9e00 323.5px,#ff0a00 364.5px,#fd0000 368.5px,#e30000 380.5px,#d70000 392.5px,#dc0000 403.5px,#ed0000 413.5px,#ff0000 419.5px,#ff2900 429.5px,#ff7500 443.5px,#fff800 464.5px,#ffff00 465.5px,#75ff8a 486.5px,#35ffca 498.5px,#00feff 510.5px,#00acff 531.5px,#0083ff 545.5px,#006dff 557.5px,#0068ff 568.5px,#0075ff 583.5px,#0078ff 586.5px)"></i><i style="width:3px;background:linear-gradient(#0000d0 0.5px,#0000db 40.5px,#0000f1 85.5px,#0002ff 108.5px,#0020ff 137.5px,#004bff 165.5px,#0086ff 197.5px,#00beff 217.5px,#00ffff 237.5px,#41ffbe 255.5px,#d8ff27 290.5px,#ffff00 299.5px,#ffa200 322.5px,#ff0a00 364.5px,#fd0000 368.5px,#e30000 380.5px,#d70000 392.5px,#db0000 403.5px,#ed0000 413.5px,#fe0000 419.5px,#ff1e00 427.5px,#ff5d00 439.5px,#ffd000 458.5px,#fffd00 465.5px,#70ff8f 487.5px,#31ffce 499.5px,#01fffe 510.5px,#00a9ff 532.5px,#0080ff 546.5px,#006cff 557.5px,#0067ff 568.5px,#0073ff 582.5px,#0078ff 586.5px)"></i><i style="width:3px;background:linear-gradient(#0000d2 0.5px,#0000de 40.5px,#0000f3 85.5px,#0002ff 106.5px,#001fff 136.5px,#004aff 164.5px,#0087ff 197.5px,#00beff 217.5px,#00ffff 237.5px,#3dffc2 254.5px,#c2ff3d 285.5px,#fffe00 299.5px,#ffa100 322.5px,#ff3800 351.5px,#ff0400 366.5px,#fa0000 369.5px,#e10000 381.5px,#d70000 393.5px,#dc0000 404.5px,#ee0000 414.5px,#ff0100 420.5px,#ff2b00 430.5px,#ff8400 446.5px,#fffc00 465.5px,#f5ff0a 467.5px,#77ff88 486.5px,#37ffc8 498.5px,#02fffd 510.5px,#009fff 535.5px,#007aff 548.5px,#0068ff 559.5px,#0066ff 570.5px,#0077ff 586.5px)"></i><i style="width:3px;background:linear-gradient(#0000d3 0.5px,#0000df 39.5px,#0000f6 87.5px,#0002ff 105.5px,#001fff 135.5px,#0049ff 163.5px,#0089ff 198.5px,#00c2ff 218.5px,#00ffff 237.5px,#3dffc2 254.5px,#c1ff3e 285.5px,#fffe00 299.5px,#ffa100 322.5px,#ff3c00 350.5px,#ff0300 366.5px,#fa0000 369.5px,#e10000 381.5px,#d70000 393.5px,#dc0000 404.5px,#ee0000 414.5px,#ff0000 420.5px,#ff2a00 430.5px,#ff8300 446.5px,#fffb00 465.5px,#fdff02 466.5px,#79ff86 486.5px,#39ffc6 498.5px,#00feff 511.5px,#00a7ff 533.5px,#007cff 547.5px,#0068ff 558.5px,#0064ff 568.5px,#0070ff 581.5px,#0077ff 586.5px)"></i><i style="width:3px;background:linear-gradient(#0000d4 0.5px,#0000e1 39.5px,#0000f8 89.5px,#0003ff 104.5px,#001eff 134.5px,#0048ff 162.5px,#0089ff 198.5px,#00c2ff 218.5px,#00ffff 237.5px,#38ffc7 253.5px,#afff50 281.5px,#fffe00 299.5px,#ffa100 322.5px,#ff3f00 349.5px,#ff0600 365.5px,#fc0000 368.5px,#e20000 380.5px,#d70000 392.5px,#da0000 403.5px,#ea0000 413.5px,#fe0000 420.5px,#ff1e00 428.5px,#ff5e00 440.5px,#ffcc00 458.5px,#feff01 466.5px,#7aff85 486.5px,#3affc5 498.5px,#01fffe 511.5px,#00a3ff 534.5px,#0079ff 548.5px,#0066ff 559.5px,#0063ff 569.5px,#0072ff 583.5px,#0077ff 586.5px)"></i><i style="width:3px;background:linear-gradient(#0000d5 0.5px,#0000e4 39.5px,#0000fb 91.5px,#0004ff 104.5px,#001fff 134.5px,#0049ff 162.5px,#008aff 198.5px,#00c2ff 218.5px,#00ffff 237.5px,#38ffc7 253.5px,#afff50 281.5px,#fffe00 299.5px,#ffa100 322.5px,#ff3f00 349.5px,#ff0600 365.5px,#fc0000 368.5px,#e20000 380.5px,#d60000 392.5px,#d90000 403.5px,#e90000 413.5px,#ff0100 421.5px,#ff2b00 431.5px,#ff8b00 448.5px,#ffff00 466.5px,#7cff83 486.5px,#3cffc3 498.5px,#02fffd 511.5px,#00dbff 520.5px,#0096ff 538.5px,#0074ff 550.5px,#0064ff 560.5px,#0063ff 570.5px,#0075ff 585.5px,#0076ff 586.5px)"></i><i style="width:3px;background:linear-gradient(#0000d7 0.5px,#0000e6 39.5px,#0000fd 93.5px,#0012ff 120.5px,#0031ff 147.5px,#0088ff 197.5px,#00bcff 216.5px,#00ffff 237.5px,#38ffc7 253.5px,#abff54 280.5px,#fffe00 299.5px,#ffa000 322.5px,#ff3f00 349.5px,#ff0600 365.5px,#fc0000 368.5px,#e20000 380.5px,#d60000 392.5px,#d90000 403.5px,#ea0000 414.5px,#fe0000 421.5px,#ff2400 430.5px,#ff6b00 443.5px,#fff700 465.5px,#fffd00 466.5px,#77ff88 487.5px,#34ffcb 500.5px,#00feff 512.5px,#00a4ff 534.5px,#0078ff 548.5px,#0065ff 558.5px,#0061ff 568.5px,#006eff 581.5px,#0076ff 586.5px)"></i><i style="width:3px;background:linear-gradient(#0000d8 0.5px,#0000e8 38.5px,#0002ff 97.5px,#001aff 128.5px,#003fff 155.5px,#008bff 198.5px,#00bfff 217.5px,#00ffff 237.5px,#38ffc7 253.5px,#a6ff59 279.5px,#fffe00 299.5px,#ffa000 322.5px,#ff3b00 350.5px,#ff0500 365.5px,#fc0000 368.5px,#e20000 380.5px,#d60000 392.5px,#d80000 403.5px,#e90000 414.5px,#ff0100 422.5px,#ff2b00 432.5px,#ff8100 447.5px,#fffc00 466.5px,#eeff11 469.5px,#7fff80 486.5px,#3fffc0 498.5px,#01fffe 512.5px,#009eff 536.5px,#0075ff 549.5px,#0063ff 559.5px,#0060ff 568.5px,#006eff 581.5px,#0076ff 586.5px)"></i><i style="width:3px;background:linear-gradient(#0000d9 0.5px,#0000ea 38.5px,#0002ff 95.5px,#001aff 127.5px,#003cff 153.5px,#008eff 199.5px,#00c2ff 218.5px,#00feff 237.5px,#37ffc8 253.5px,#a6ff59 279.5px,#fffe00 299.5px,#ffa000 322.5px,#ff3700 351.5px,#ff0200 366.5px,#e00000 381.5px,#d50000 393.5px,#d80000 404.5px,#ea0000 415.5px,#fe0000 422.5px,#ff2400 431.5px,#ff6600 443.5px,#fffb00 466.5px,#f6ff09 468.5px,#81ff7e 486.5px,#3cffc3 499.5px,#02fffd 512.5px,#00dfff 520.5px,#0094ff 539.5px,#0070ff 551.5px,#0060ff 561.5px,#0060ff 570.5px,#0074ff 585.5px,#0076ff 586.5px)"></i><i style="width:3px;background:linear-gradient(#0000da 0.5px,#0000ec 38.5px,#0002ff 93.5px,#001aff 126.5px,#003cff 152.5px,#0078ff 187.5px,#0098ff 203.5px,#00d4ff 224.5px,#00feff 237.5px,#37ffc8 253.5px,#a1ff5e 278.5px,#fffe00 299.5px,#ff9c00 323.5px,#ff3300 352.5px,#ff0200 366.5px,#e00000 381.5px,#d50000 393.5px,#d80000 404.5px,#e90000 415.5px,#ff0100 423.5px,#ff2600 432.5px,#ff6a00 444.5px,#fdff02 467.5px,#89ff76 485.5px,#43ffbc 498.5px,#00feff 513.5px,#009fff 536.5px,#0075ff 549.5px,#0061ff 559.5px,#005eff 568.5px,#006bff 580.5px,#0075ff 586.5px)"></i><i style="width:3px;background:linear-gradient(#0000db 0.5px,#0000ee 37.5px,#0000f6 59.5px,#0002ff 91.5px,#0019ff 124.5px,#0038ff 149.5px,#0076ff 185.5px,#0093ff 201.5px,#00cbff 221.5px,#02fffd 238.5px,#47ffb8 257.5px,#c0ff3f 285.5px,#fffe00 299.5px,#ff9c00 323.5px,#ff2f00 353.5px,#ff0100 366.5px,#df0000 381.5px,#d40000 393.5px,#d80000 405.5px,#ea0000 416.5px,#fe0000 423.5px,#ff1f00 431.5px,#ff5500 441.5px,#ffe500 463.5px,#ffff00 467.5px,#8bff74 485.5px,#45ffba 498.5px,#01fffe 513.5px,#0098ff 538.5px,#0070ff 551.5px,#005fff 560.5px,#005eff 569.5px,#0070ff 583.5px,#0076ff 586.5px)"></i><i style="width:3px;background:linear-gradient(#0000dc 0.5px,#0000ef 36.5px,#0000f8 56.5px,#0003ff 89.5px,#0018ff 122.5px,#0036ff 147.5px,#0075ff 184.5px,#0094ff 201.5px,#00cbff 221.5px,#02fffd 238.5px,#46ffb9 257.5px,#bcff43 284.5px,#fffe00 299.5px,#ff9800 324.5px,#ff2b00 354.5px,#ff0100 366.5px,#e10000 380.5px,#d40000 392.5px,#d60000 404.5px,#e70000 415.5px,#ff0100 424.5px,#ff2600 433.5px,#ff6500 444.5px,#fffe00 467.5px,#87ff78 486.5px,#3dffc2 500.5px,#00fdff 514.5px,#009dff 537.5px,#0072ff 550.5px,#005fff 560.5px,#005dff 569.5px,#0071ff 583.5px,#0076ff 586.5px)"></i><i style="width:3px;background:linear-gradient(#0000dd 0.5px,#0000f1 35.5px,#0000fa 54.5px,#0003ff 86.5px,#0017ff 120.5px,#0033ff 145.5px,#0075ff 183.5px,#0092ff 200.5px,#00c4ff 219.5px,#01fffe 238.5px,#46ffb9 257.5px,#b7ff48 283.5px,#fffe00 299.5px,#ff9400 325.5px,#ff2a00 354.5px,#ff0100 366.5px,#e00000 380.5px,#d30000 393.5px,#d60000 405.5px,#e70000 416.5px,#ff0200 425.5px,#ff2800 434.5px,#ff6900 445.5px,#fffd00 467.5px,#7dff82 488.5px,#31ffce 503.5px,#00ffff 514.5px,#009aff 538.5px,#0070ff 551.5px,#005eff 560.5px,#005cff 568.5px,#006cff 580.5px,#0076ff 586.5px)"></i><i style="width:3px;background:linear-gradient(#0000de 0.5px,#0000f2 34.5px,#0000fc 53.5px,#0003ff 85.5px,#0017ff 119.5px,#0033ff 144.5px,#005dff 168.5px,#0090ff 199.5px,#00beff 217.5px,#01fffe 238.5px,#4affb5 258.5px,#bbff44 284.5px,#fffe00 299.5px,#ff9100 326.5px,#ff2a00 354.5px,#ff0100 366.5px,#e00000 380.5px,#d30000 393.5px,#d60000 405.5px,#e60000 416.5px,#ff0000 425.5px,#ff2500 434.5px,#ff6000 444.5px,#fffc00 467.5px,#f5ff0a 469.5px,#8bff74 486.5px,#3dffc2 501.5px,#02fffd 514.5px,#0094ff 540.5px,#006bff 553.5px,#005cff 562.5px,#005eff 570.5px,#0077ff 586.5px)"></i><i style="width:3px;background:linear-gradient(#0000df 0.5px,#0000f3 33.5px,#0000fe 51.5px,#0006ff 88.5px,#0018ff 120.5px,#0035ff 145.5px,#0072ff 180.5px,#0091ff 199.5px,#00beff 217.5px,#01fffe 238.5px,#49ffb6 258.5px,#bbff44 284.5px,#ffff00 299.5px,#ff8d00 327.5px,#ff2a00 354.5px,#ff0100 366.5px,#e00000 380.5px,#d30000 393.5px,#d50000 405.5px,#e50000 416.5px,#ff0100 426.5px,#ff2700 435.5px,#ff6400 445.5px,#fdff02 468.5px,#8dff72 486.5px,#3fffc0 501.5px,#00feff 515.5px,#0099ff 539.5px,#006fff 552.5px,#005dff 561.5px,#005dff 569.5px,#0074ff 584.5px,#0078ff 586.5px)"></i><i style="width:3px;background:linear-gradient(#0000e0 0.5px,#0000f5 33.5px,#0001ff 48.5px,#0008ff 91.5px,#001bff 122.5px,#0037ff 146.5px,#0071ff 179.5px,#008fff 198.5px,#00bbff 216.5px,#01fffe 238.5px,#49ffb6 258.5px,#b5ff4a 283.5px,#ffff00 299.5px,#ff8a00 328.5px,#ff2700 355.5px,#ff0100 366.5px,#e00000 380.5px,#d20000 393.5px,#d40000 405.5px,#e30000 416.5px,#fe0000 426.5px,#ff2000 434.5px,#ff5400 443.5px,#ffff00 468.5px,#8fff70 486.5px,#3cffc3 502.5px,#01fffe 515.5px,#0097ff 540.5px,#006dff 553.5px,#005dff 562.5px,#005fff 570.5px,#0079ff 586.5px)"></i><i style="width:3px;background:linear-gradient(#0000e0 0.5px,#0000f6 32.5px,#0002ff 45.5px,#0009ff 93.5px,#001cff 123.5px,#0039ff 147.5px,#0072ff 179.5px,#008fff 198.5px,#00bbff 216.5px,#00ffff 238.5px,#4dffb2 259.5px,#baff45 284.5px,#feff01 299.5px,#ff8700 329.5px,#ff1f00 357.5px,#ff0100 366.5px,#e00000 380.5px,#d20000 393.5px,#d30000 405.5px,#e20000 416.5px,#ff0100 427.5px,#ff2200 435.5px,#ff5f00 445.5px,#fffe00 468.5px,#86ff79 488.5px,#30ffcf 505.5px,#00feff 516.5px,#009cff 539.5px,#0071ff 552.5px,#005eff 561.5px,#005eff 568.5px,#0073ff 582.5px,#007aff 586.5px)"></i><i style="width:3px;background:linear-gradient(#0000e1 0.5px,#0000f7 32.5px,#0002ff 43.5px,#0005ff 66.5px,#000dff 100.5px,#0022ff 129.5px,#0041ff 152.5px,#0071ff 178.5px,#008fff 198.5px,#00bbff 216.5px,#00ffff 238.5px,#48ffb7 258.5px,#b4ff4b 283.5px,#feff01 299.5px,#ff8400 330.5px,#ff0400 365.5px,#fa0000 368.5px,#de0000 381.5px,#d10000 394.5px,#d30000 406.5px,#e30000 417.5px,#fe0000 427.5px,#ff1b00 434.5px,#ff5000 443.5px,#fffc00 468.5px,#f5ff0a 470.5px,#89ff76 488.5px,#32ffcd 505.5px,#01fffe 516.5px,#009aff 540.5px,#0070ff 553.5px,#005fff 562.5px,#0061ff 570.5px,#007cff 586.5px)"></i><i style="width:3px;background:linear-gradient(#0000e2 0.5px,#0000f7 31.5px,#0002ff 41.5px,#0007ff 55.5px,#000aff 91.5px,#001bff 121.5px,#0038ff 146.5px,#0073ff 179.5px,#0091ff 199.5px,#00beff 217.5px,#00ffff 238.5px,#48ffb7 258.5px,#b4ff4b 283.5px,#fdff02 299.5px,#ff8100 331.5px,#ff0400 365.5px,#fa0000 368.5px,#de0000 381.5px,#d10000 394.5px,#d30000 406.5px,#e20000 417.5px,#ff0100 428.5px,#ff2300 436.5px,#ff6900 447.5px,#fffa00 468.5px,#feff01 469.5px,#91ff6e 487.5px,#39ffc6 504.5px,#00fdff 517.5px,#00a0ff 539.5px,#0072ff 553.5px,#0060ff 562.5px,#0063ff 570.5px,#007eff 586.5px)"></i><i style="width:3px;background:linear-gradient(#0000e2 0.5px,#0000f9 31.5px,#0002ff 40.5px,#0008ff 53.5px,#000bff 91.5px,#001cff 121.5px,#0038ff 146.5px,#0072ff 179.5px,#0091ff 199.5px,#00beff 217.5px,#00feff 238.5px,#43ffbc 257.5px,#aaff55 281.5px,#fffe00 300.5px,#ff8d00 328.5px,#ff0500 365.5px,#fb0000 368.5px,#de0000 381.5px,#d00000 394.5px,#d20000 406.5px,#e10000 417.5px,#ff0000 428.5px,#ff2200 436.5px,#ff6000 446.5px,#fffe00 469.5px,#88ff77 489.5px,#2effd1 507.5px,#01fffe 517.5px,#009eff 540.5px,#0074ff 553.5px,#0063ff 562.5px,#0065ff 570.5px,#0080ff 586.5px)"></i><i style="width:3px;background:linear-gradient(#0000e3 0.5px,#0000fa 31.5px,#0003ff 40.5px,#0009ff 53.5px,#000cff 92.5px,#001cff 121.5px,#0039ff 146.5px,#0074ff 180.5px,#0093ff 200.5px,#00c3ff 219.5px,#02fffd 239.5px,#4fffb0 260.5px,#c0ff3f 286.5px,#ffff00 300.5px,#ff9200 327.5px,#ff0500 365.5px,#fb0000 368.5px,#de0000 381.5px,#d00000 394.5px,#d10000 406.5px,#e00000 417.5px,#fa0000 427.5px,#ff0200 429.5px,#ff2600 437.5px,#ff6c00 448.5px,#fffc00 469.5px,#f5ff0a 471.5px,#8bff74 489.5px,#30ffcf 507.5px,#00fdff 518.5px,#00a5ff 539.5px,#0077ff 553.5px,#0066ff 562.5px,#0068ff 570.5px,#0082ff 586.5px)"></i><i style="width:3px;background:linear-gradient(#0000e4 0.5px,#0000fa 31.5px,#0003ff 39.5px,#000aff 53.5px,#000dff 93.5px,#001eff 122.5px,#003aff 147.5px,#0075ff 181.5px,#0093ff 200.5px,#00c3ff 219.5px,#02fffd 239.5px,#4effb1 260.5px,#bfff40 286.5px,#feff01 300.5px,#ff8c00 329.5px,#ff0600 365.5px,#fc0000 368.5px,#de0000 381.5px,#d00000 394.5px,#d10000 406.5px,#e00000 417.5px,#fa0000 427.5px,#ff0500 430.5px,#ff2b00 438.5px,#ff7700 450.5px,#feff01 470.5px,#93ff6c 488.5px,#37ffc8 506.5px,#01fffe 518.5px,#00a7ff 539.5px,#007aff 553.5px,#0069ff 562.5px,#006bff 570.5px,#0085ff 586.5px)"></i><i style="width:3px;background:linear-gradient(#0000e4 0.5px,#0000fc 32.5px,#0006ff 41.5px,#000bff 57.5px,#000eff 94.5px,#001fff 123.5px,#003cff 148.5px,#0075ff 182.5px,#0095ff 201.5px,#00c5ff 220.5px,#01fffe 239.5px,#4dffb2 260.5px,#beff41 286.5px,#fdff02 300.5px,#ffd700 310.5px,#ff0600 365.5px,#ff0000 367.5px,#df0000 380.5px,#d00000 393.5px,#d00000 405.5px,#dd0000 416.5px,#f60000 426.5px,#ff0100 429.5px,#ff2400 437.5px,#ff6800 448.5px,#fffd00 470.5px,#80ff7f 492.5px,#22ffdd 511.5px,#00feff 519.5px,#00adff 538.5px,#0080ff 552.5px,#006eff 561.5px,#006eff 569.5px,#0084ff 584.5px,#0088ff 586.5px)"></i><i style="width:3px;background:linear-gradient(#0000e5 0.5px,#0000fc 32.5px,#0009ff 45.5px,#000bff 75.5px,#0013ff 105.5px,#0029ff 133.5px,#0048ff 156.5px,#0076ff 183.5px,#0097ff 202.5px,#00cbff 222.5px,#01fffe 239.5px,#4dffb2 260.5px,#bcff43 286.5px,#fffe00 301.5px,#ff9a00 326.5px,#ff2800 356.5px,#ff0000 367.5px,#df0000 380.5px,#cf0000 393.5px,#cf0000 405.5px,#dc0000 416.5px,#f50000 426.5px,#ff0000 429.5px,#ff2400 437.5px,#ff6600 448.5px,#fffb00 470.5px,#fdff02 471.5px,#8eff71 490.5px,#2effd1 509.5px,#01fffe 519.5px,#00adff 539.5px,#0081ff 553.5px,#0072ff 562.5px,#0072ff 570.5px,#008bff 586.5px)"></i><i style="width:3px;background:linear-gradient(#0000e5 0.5px,#0000fe 33.5px,#000cff 53.5px,#000fff 96.5px,#0020ff 124.5px,#003dff 149.5px,#007cff 187.5px,#009dff 205.5px,#00daff 227.5px,#00ffff 239.5px,#4cffb3 260.5px,#c0ff3f 287.5px,#feff01 301.5px,#ff9800 327.5px,#ff3000 354.5px,#ff0100 367.5px,#de0000 381.5px,#cf0000 394.5px,#cf0000 406.5px,#de0000 417.5px,#f80000 427.5px,#ff0000 429.5px,#ff2300 437.5px,#ff6500 448.5px,#fffe00 471.5px,#86ff79 492.5px,#27ffd8 511.5px,#00feff 520.5px,#00b7ff 537.5px,#008aff 551.5px,#0077ff 561.5px,#0076ff 569.5px,#0089ff 583.5px,#008eff 586.5px)"></i><i style="width:3px;background:linear-gradient(#0000e5 0.5px,#0000fe 33.5px,#000cff 53.5px,#0010ff 97.5px,#0021ff 125.5px,#003eff 150.5px,#0092ff 200.5px,#00c5ff 220.5px,#00ffff 239.5px,#4cffb3 260.5px,#bfff40 287.5px,#fdff02 301.5px,#ff8700 332.5px,#ff0500 366.5px,#fa0000 369.5px,#dd0000 381.5px,#ce0000 394.5px,#cf0000 406.5px,#dd0000 417.5px,#f70000 427.5px,#fe0000 429.5px,#ff2200 437.5px,#ff6300 448.5px,#fffc00 471.5px,#f6ff09 473.5px,#83ff7c 493.5px,#21ffde 513.5px,#01fffe 520.5px,#00b6ff 538.5px,#008cff 552.5px,#007cff 561.5px,#007bff 570.5px,#0092ff 586.5px)"></i><i style="width:3px;background:linear-gradient(#0000e6 0.5px,#0002ff 36.5px,#000cff 54.5px,#0010ff 97.5px,#0021ff 125.5px,#003fff 151.5px,#0092ff 200.5px,#00c4ff 220.5px,#00ffff 239.5px,#47ffb8 259.5px,#b9ff46 286.5px,#fffe00 302.5px,#ff9f00 326.5px,#ff4300 350.5px,#ff0500 366.5px,#fb0000 369.5px,#dd0000 381.5px,#ce0000 394.5px,#ce0000 406.5px,#dd0000 417.5px,#f70000 427.5px,#ff0300 430.5px,#ff2c00 439.5px,#ff7500 451.5px,#ffff00 472.5px,#81ff7e 494.5px,#1affe5 515.5px,#00feff 521.5px,#00bdff 537.5px,#0093ff 551.5px,#0081ff 561.5px,#0080ff 570.5px,#0095ff 586.5px)"></i><i style="width:3px;background:linear-gradient(#0000e6 0.5px,#0001ff 36.5px,#000cff 55.5px,#0010ff 98.5px,#0022ff 126.5px,#0040ff 152.5px,#0091ff 200.5px,#00c4ff 220.5px,#00feff 239.5px,#42ffbd 258.5px,#b3ff4c 285.5px,#feff01 302.5px,#ff9d00 327.5px,#ff4800 349.5px,#ff0500 366.5px,#fb0000 369.5px,#dd0000 381.5px,#cd0000 394.5px,#ce0000 406.5px,#dc0000 417.5px,#f70000 427.5px,#ff0200 430.5px,#ff2b00 439.5px,#ff7400 451.5px,#fffc00 472.5px,#e9ff16 476.5px,#6fff90 498.5px,#01fffe 521.5px,#00bcff 538.5px,#0095ff 552.5px,#0085ff 562.5px,#0085ff 571.5px,#0099ff 586.5px)"></i><i style="width:3px;background:linear-gradient(#0000e6 0.5px,#0002ff 37.5px,#000cff 56.5px,#0010ff 98.5px,#0022ff 126.5px,#0040ff 152.5px,#008fff 199.5px,#00c1ff 219.5px,#02fffd 240.5px,#4dffb2 261.5px,#ccff33 291.5px,#fdff02 302.5px,#ff9000 331.5px,#ff4100 351.5px,#ff0200 367.5px,#f20000 372.5px,#d80000 384.5px,#cc0000 397.5px,#cf0000 408.5px,#e00000 419.5px,#ff0200 430.5px,#ff2a00 439.5px,#ff7200 451.5px,#fffa00 472.5px,#feff01 473.5px,#77ff88 497.5px,#08fff7 520.5px,#00feff 522.5px,#00c6ff 536.5px,#009eff 550.5px,#008bff 561.5px,#0089ff 570.5px,#009cff 585.5px,#009dff 586.5px)"></i><i style="width:3px;background:linear-gradient(#0000e6 0.5px,#0002ff 37.5px,#000cff 57.5px,#0010ff 99.5px,#0023ff 127.5px,#0042ff 154.5px,#008eff 199.5px,#00c0ff 219.5px,#02fffd 240.5px,#4dffb2 261.5px,#cbff34 291.5px,#fffe00 303.5px,#ffa400 326.5px,#ff5300 347.5px,#ff0a00 365.5px,#fe0000 368.5px,#df0000 380.5px,#ce0000 392.5px,#cb0000 404.5px,#d80000 415.5px,#f30000 426.5px,#ff0100 430.5px,#ff2f00 440.5px,#ff7d00 453.5px,#fffd00 473.5px,#7aff85 497.5px,#06fff9 521.5px,#00fcff 523.5px,#00c6ff 537.5px,#00a1ff 551.5px,#008fff 562.5px,#008fff 572.5px,#00a1ff 586.5px)"></i><i style="width:3px;background:linear-gradient(#0000e6 0.5px,#0002ff 38.5px,#000cff 59.5px,#0010ff 99.5px,#0024ff 128.5px,#0043ff 155.5px,#008dff 199.5px,#00c3ff 220.5px,#01fffe 240.5px,#4cffb3 261.5px,#ceff31 292.5px,#feff01 303.5px,#ff9e00 328.5px,#ff5400 347.5px,#ff0a00 365.5px,#ff0000 368.5px,#de0000 380.5px,#ce0000 392.5px,#cb0000 404.5px,#d70000 415.5px,#f20000 426.5px,#ff0100 430.5px,#ff2e00 440.5px,#ff7b00 453.5px,#fffa00 473.5px,#feff01 474.5px,#6eff91 500.5px,#00ffff 523.5px,#00caff 537.5px,#00a5ff 551.5px,#0094ff 562.5px,#0094ff 572.5px,#00a5ff 586.5px)"></i><i style="width:3px;background:linear-gradient(#0000e7 0.5px,#0002ff 39.5px,#000cff 60.5px,#0010ff 99.5px,#0023ff 128.5px,#0042ff 155.5px,#008bff 198.5px,#00c0ff 219.5px,#01fffe 240.5px,#4bffb4 261.5px,#ccff33 292.5px,#fdff02 303.5px,#ffd000 315.5px,#ff5e00 345.5px,#ff0a00 365.5px,#ff0000 368.5px,#e00000 379.5px,#ce0000 391.5px,#ca0000 403.5px,#d50000 414.5px,#ef0000 425.5px,#ff0100 430.5px,#ff2d00 440.5px,#ff7a00 453.5px,#fffd00 474.5px,#62ff9d 503.5px,#03fffc 523.5px,#00f5ff 526.5px,#00caff 538.5px,#00a6ff 553.5px,#0099ff 563.5px,#009aff 573.5px,#00aaff 586.5px)"></i><i style="width:3px;background:linear-gradient(#0000e7 0.5px,#0001ff 39.5px,#000cff 61.5px,#0010ff 100.5px,#0024ff 129.5px,#0043ff 156.5px,#008aff 198.5px,#00bfff 219.5px,#00ffff 240.5px,#4affb5 261.5px,#cbff34 292.5px,#fffe00 304.5px,#ffa500 327.5px,#ff6000 345.5px,#ff0a00 365.5px,#ff0000 368.5px,#e00000 379.5px,#cd0000 391.5px,#c90000 403.5px,#d50000 414.5px,#ef0000 425.5px,#ff0000 430.5px,#ff2c00 440.5px,#ff7800 453.5px,#fffa00 474.5px,#feff01 475.5px,#6aff95 502.5px,#01fffe 524.5px,#00cdff 538.5px,#00abff 553.5px,#009dff 564.5px,#00a0ff 575.5px,#00aeff 586.5px)"></i><i style="width:3px;background:linear-gradient(#0000e7 0.5px,#0002ff 41.5px,#000bff 63.5px,#0010ff 100.5px,#0024ff 129.5px,#0043ff 157.5px,#0089ff 198.5px,#00c2ff 220.5px,#00ffff 240.5px,#42ffbd 259.5px,#c5ff3a 291.5px,#feff01 304.5px,#ff9b00 330.5px,#ff6100 345.5px,#ff0e00 364.5px,#ff0000 368.5px,#df0000 379.5px,#cd0000 391.5px,#c80000 402.5px,#d20000 413.5px,#ec0000 424.5px,#ff0000 430.5px,#ff2b00 440.5px,#ff7600 453.5px,#fffd00 475.5px,#64ff9b 504.5px,#04fffb 524.5px,#00fbff 526.5px,#00d1ff 538.5px,#00b0ff 553.5px,#00a3ff 564.5px,#00a5ff 575.5px,#00b2ff 586.5px)"></i><i style="width:3px;background:linear-gradient(#0000e6 0.5px,#0002ff 42.5px,#000bff 64.5px,#000fff 100.5px,#0023ff 129.5px,#0043ff 157.5px,#0089ff 198.5px,#00c2ff 220.5px,#00feff 240.5px,#3affc5 257.5px,#bbff44 289.5px,#fdff02 304.5px,#ff9500 332.5px,#ff5d00 346.5px,#ff0e00 364.5px,#fe0000 368.5px,#de0000 379.5px,#cd0000 390.5px,#c70000 401.5px,#d00000 412.5px,#e80000 423.5px,#ff0000 430.5px,#ff2500 439.5px,#ff6800 451.5px,#fffa00 475.5px,#feff01 476.5px,#6cff93 503.5px,#07fff8 524.5px,#00feff 526.5px,#00d5ff 538.5px,#00b5ff 553.5px,#00a8ff 564.5px,#00aaff 575.5px,#00b6ff 586.5px)"></i><i style="width:3px;background:linear-gradient(#0000e6 0.5px,#0002ff 43.5px,#000aff 66.5px,#000fff 101.5px,#0025ff 131.5px,#0045ff 159.5px,#0088ff 198.5px,#00c4ff 221.5px,#02fffd 241.5px,#4cffb3 262.5px,#cfff30 294.5px,#fffe00 305.5px,#ff9e00 330.5px,#ff6300 345.5px,#ff0e00 364.5px,#fe0000 368.5px,#de0000 379.5px,#cc0000 390.5px,#c60000 401.5px,#d00000 412.5px,#e80000 423.5px,#fe0000 430.5px,#ff2400 439.5px,#ff6600 451.5px,#fffc00 476.5px,#ecff13 480.5px,#66ff99 505.5px,#0afff5 524.5px,#00fdff 527.5px,#00d6ff 539.5px,#00b6ff 555.5px,#00acff 566.5px,#00b1ff 578.5px,#00baff 586.5px)"></i><i style="width:3px;background:linear-gradient(#0000e6 0.5px,#0002ff 44.5px,#000aff 67.5px,#000fff 102.5px,#0026ff 133.5px,#0045ff 160.5px,#0088ff 198.5px,#00c4ff 221.5px,#01fffe 241.5px,#4bffb4 262.5px,#ceff31 294.5px,#ffff00 305.5px,#ff9000 334.5px,#ff5f00 346.5px,#ff0e00 364.5px,#fe0000 368.5px,#dd0000 379.5px,#cb0000 390.5px,#c50000 401.5px,#cf0000 412.5px,#e80000 423.5px,#ff0200 431.5px,#ff2c00 441.5px,#ff7c00 455.5px,#ffff00 477.5px,#55ffaa 509.5px,#09fff6 525.5px,#00fcff 528.5px,#00d9ff 539.5px,#00baff 555.5px,#00b1ff 566.5px,#00b7ff 579.5px,#00beff 586.5px)"></i><i style="width:3px;background:linear-gradient(#0000e6 0.5px,#0002ff 46.5px,#0009ff 70.5px,#000fff 103.5px,#0027ff 135.5px,#0046ff 161.5px,#0088ff 198.5px,#00c3ff 221.5px,#01fffe 241.5px,#4bffb4 262.5px,#cdff32 294.5px,#fdff02 305.5px,#ff6d00 343.5px,#ff0e00 364.5px,#fe0000 368.5px,#dc0000 379.5px,#ca0000 390.5px,#c40000 401.5px,#cf0000 412.5px,#e70000 423.5px,#ff0200 431.5px,#ff2b00 441.5px,#ff7a00 455.5px,#fffc00 477.5px,#f8ff07 479.5px,#4fffb0 511.5px,#09fff6 526.5px,#00fcff 529.5px,#00dbff 540.5px,#00bdff 556.5px,#00b6ff 567.5px,#00bdff 581.5px,#00c3ff 586.5px)"></i><i style="width:3px;background:linear-gradient(#0000e6 0.5px,#0002ff 48.5px,#0008ff 74.5px,#000fff 105.5px,#002aff 139.5px,#0049ff 163.5px,#0087ff 198.5px,#00c3ff 221.5px,#01fffe 241.5px,#4effb1 263.5px,#cbff34 294.5px,#fffe00 306.5px,#ff6800 344.5px,#ff0e00 364.5px,#fd0000 368.5px,#db0000 379.5px,#c80000 390.5px,#c30000 401.5px,#ce0000 412.5px,#ea0000 424.5px,#ff0100 431.5px,#ff2a00 441.5px,#ff7800 455.5px,#fffe00 478.5px,#3affc5 516.5px,#01fffe 529.5px,#00daff 542.5px,#00c1ff 557.5px,#00baff 569.5px,#00c7ff 586.5px)"></i><i style="width:3px;background:linear-gradient(#0000e6 0.5px,#0002ff 50.5px,#0008ff 86.5px,#0014ff 114.5px,#0035ff 149.5px,#0059ff 173.5px,#008bff 200.5px,#00cbff 224.5px,#00ffff 241.5px,#4dffb2 263.5px,#caff35 294.5px,#ffff00 306.5px,#ff6800 344.5px,#ff0900 365.5px,#fd0000 368.5px,#d80000 380.5px,#c50000 391.5px,#c20000 401.5px,#cd0000 412.5px,#e90000 424.5px,#ff0000 431.5px,#ff2900 441.5px,#ff7600 455.5px,#fffa00 478.5px,#feff01 479.5px,#42ffbd 515.5px,#09fff6 528.5px,#00fdff 531.5px,#00deff 542.5px,#00c5ff 557.5px,#00bfff 569.5px,#00cbff 586.5px)"></i><i style="width:3px;background:linear-gradient(#0000e5 0.5px,#0002ff 53.5px,#000dff 104.5px,#0027ff 137.5px,#0046ff 162.5px,#0087ff 198.5px,#00c2ff 221.5px,#00ffff 241.5px,#4dffb2 263.5px,#c5ff3a 293.5px,#fdff02 306.5px,#ff6d00 343.5px,#ff0900 365.5px,#fc0000 368.5px,#d70000 380.5px,#c50000 390.5px,#c10000 400.5px,#cb0000 411.5px,#e50000 423.5px,#fe0000 431.5px,#ff2800 441.5px,#ff7300 455.5px,#fffc00 479.5px,#f8ff07 481.5px,#46ffb9 515.5px,#0dfff2 528.5px,#00fdff 532.5px,#00ddff 544.5px,#00c8ff 558.5px,#00c4ff 570.5px,#00cfff 586.5px)"></i><i style="width:3px;background:linear-gradient(#0000e5 0.5px,#0001ff 55.5px,#000dff 104.5px,#0026ff 137.5px,#0045ff 162.5px,#0087ff 198.5px,#00c2ff 221.5px,#00feff 241.5px,#48ffb7 262.5px,#c0ff3f 292.5px,#fffe00 307.5px,#ff6800 344.5px,#ff0900 365.5px,#ff0100 367.5px,#d60000 380.5px,#c30000 390.5px,#c00000 400.5px,#cc0000 412.5px,#e80000 424.5px,#ff0200 432.5px,#ff3000 443.5px,#ff9900 462.5px,#fffe00 480.5px,#40ffbf 517.5px,#09fff6 530.5px,#00feff 533.5px,#00dfff 545.5px,#00ccff 559.5px,#00c9ff 572.5px,#00d3ff 586.5px)"></i><i style="width:3px;background:linear-gradient(#0000e5 0.5px,#0001ff 58.5px,#000cff 104.5px,#0025ff 137.5px,#0045ff 162.5px,#0089ff 199.5px,#00c4ff 222.5px,#00feff 241.5px,#44ffbb 261.5px,#baff45 291.5px,#ffff00 307.5px,#ff6700 344.5px,#ff0800 365.5px,#ff0000 367.5px,#d50000 380.5px,#c20000 390.5px,#bf0000 400.5px,#cc0000 412.5px,#ea0000 425.5px,#ff0100 432.5px,#ff2f00 443.5px,#ff9000 461.5px,#feff01 481.5px,#49ffb6 516.5px,#11ffee 529.5px,#01fffe 534.5px,#00e0ff 547.5px,#00d0ff 560.5px,#00cfff 574.5px,#00d7ff 586.5px)"></i><i style="width:3px;background:linear-gradient(#0000e4 0.5px,#0001ff 62.5px,#000bff 104.5px,#0024ff 137.5px,#0043ff 161.5px,#0089ff 199.5px,#00c4ff 222.5px,#02fffd 242.5px,#5affa5 267.5px,#cfff30 296.5px,#feff01 307.5px,#ff6c00 343.5px,#ff0800 365.5px,#ff0000 367.5px,#d40000 380.5px,#c00000 390.5px,#be0000 400.5px,#cb0000 412.5px,#e90000 425.5px,#ff0000 432.5px,#ff2d00 443.5px,#ff8800 460.5px,#fffc00 481.5px,#f8ff07 483.5px,#52ffad 515.5px,#19ffe6 528.5px,#00fdff 536.5px,#00e2ff 548.5px,#00d4ff 561.5px,#00d4ff 576.5px,#00dbff 586.5px)"></i><i style="width:3px;background:linear-gradient(#0000e4 0.5px,#0000ff 65.5px,#000aff 104.5px,#0022ff 136.5px,#0042ff 161.5px,#0088ff 199.5px,#00c1ff 221.5px,#01fffe 242.5px,#5dffa2 268.5px,#d2ff2d 297.5px,#fffd00 308.5px,#ff6700 344.5px,#ff0800 365.5px,#ff0000 367.5px,#d40000 380.5px,#bf0000 390.5px,#be0000 400.5px,#cd0000 413.5px,#eb0000 426.5px,#fe0000 432.5px,#ff2700 442.5px,#ff7a00 458.5px,#fffe00 482.5px,#51ffae 516.5px,#1affe5 529.5px,#00feff 537.5px,#00e4ff 549.5px,#00d8ff 562.5px,#00daff 578.5px,#00dfff 586.5px)"></i><i style="width:3px;background:linear-gradient(#0000e3 0.5px,#0000fe 68.5px,#0008ff 103.5px,#0020ff 135.5px,#0040ff 160.5px,#008aff 200.5px,#00c3ff 222.5px,#01fffe 242.5px,#5cffa3 268.5px,#d1ff2e 297.5px,#fffe00 308.5px,#ff6600 344.5px,#ff0700 365.5px,#fe0000 367.5px,#d30000 380.5px,#bf0000 390.5px,#bd0000 400.5px,#cc0000 413.5px,#ea0000 426.5px,#ff0100 433.5px,#ff3300 445.5px,#ffa300 466.5px,#feff01 483.5px,#5affa5 515.5px,#1effe1 529.5px,#01fffe 538.5px,#00e6ff 551.5px,#00dcff 564.5px,#00e1ff 582.5px,#00e3ff 586.5px)"></i><i style="width:3px;background:linear-gradient(#0000e3 0.5px,#0000fd 69.5px,#0005ff 98.5px,#001aff 129.5px,#0038ff 155.5px,#0082ff 196.5px,#00b5ff 217.5px,#01fffe 242.5px,#5fffa0 269.5px,#d4ff2b 298.5px,#ffff00 308.5px,#ff6600 344.5px,#ff0700 365.5px,#fe0000 367.5px,#d30000 380.5px,#bf0000 390.5px,#bd0000 400.5px,#cc0000 413.5px,#e90000 426.5px,#ff0000 433.5px,#ff3200 445.5px,#ff9b00 465.5px,#fdff02 484.5px,#63ff9c 514.5px,#27ffd8 528.5px,#01fffe 540.5px,#00e9ff 552.5px,#00e0ff 566.5px,#00e7ff 586.5px)"></i><i style="width:3px;background:linear-gradient(#0000e2 0.5px,#0000fc 71.5px,#0003ff 97.5px,#0018ff 128.5px,#0035ff 154.5px,#0080ff 195.5px,#00b1ff 216.5px,#00ffff 242.5px,#62ff9d 270.5px,#d3ff2c 298.5px,#feff01 308.5px,#ff6f00 342.5px,#ff0700 365.5px,#fe0000 367.5px,#d30000 380.5px,#bf0000 390.5px,#be0000 400.5px,#cc0000 413.5px,#e90000 426.5px,#fe0000 433.5px,#ff2b00 444.5px,#ff8700 462.5px,#fffd00 484.5px,#5effa1 516.5px,#24ffdb 530.5px,#02fffd 541.5px,#00ebff 554.5px,#00e5ff 568.5px,#00ecff 586.5px)"></i><i style="width:3px;background:linear-gradient(#0000e2 0.5px,#0000fb 74.5px,#0003ff 99.5px,#0018ff 130.5px,#0036ff 155.5px,#0088ff 199.5px,#00bcff 220.5px,#00ffff 242.5px,#5effa1 269.5px,#ceff31 297.5px,#fffd00 309.5px,#ff6500 344.5px,#ff0700 365.5px,#fe0000 367.5px,#d40000 380.5px,#c00000 390.5px,#be0000 400.5px,#cc0000 413.5px,#e80000 426.5px,#ff0200 434.5px,#ff3300 446.5px,#ff9f00 467.5px,#fffe00 485.5px,#67ff98 515.5px,#2cffd3 529.5px,#07fff8 541.5px,#00fdff 545.5px,#00eeff 556.5px,#00eaff 572.5px,#00f0ff 586.5px)"></i><i style="width:3px;background:linear-gradient(#0000e2 0.5px,#0000fa 78.5px,#0003ff 101.5px,#0019ff 132.5px,#0037ff 156.5px,#0090ff 203.5px,#00caff 225.5px,#00feff 242.5px,#5affa5 268.5px,#c8ff37 296.5px,#fffe00 309.5px,#ff6500 344.5px,#ff0700 365.5px,#fe0000 367.5px,#d40000 380.5px,#c10000 390.5px,#bf0000 400.5px,#cc0000 413.5px,#e70000 426.5px,#ff0000 434.5px,#ff3100 446.5px,#ff9600 466.5px,#feff01 486.5px,#70ff8f 514.5px,#31ffce 529.5px,#09fff6 542.5px,#00fdff 547.5px,#00f1ff 559.5px,#00f0ff 577.5px,#00f4ff 586.5px)"></i><i style="width:3px;background:linear-gradient(#0000e1 0.5px,#0001ff 100.5px,#0017ff 131.5px,#0035ff 155.5px,#0090ff 203.5px,#00caff 225.5px,#00feff 242.5px,#55ffaa 267.5px,#c3ff3c 295.5px,#ffff00 309.5px,#ff6100 345.5px,#ff0700 365.5px,#fe0000 367.5px,#d70000 379.5px,#c30000 389.5px,#bf0000 399.5px,#ca0000 412.5px,#e40000 425.5px,#fe0000 434.5px,#ff2a00 445.5px,#ff8300 463.5px,#fffd00 486.5px,#e2ff1d 492.5px,#6cff93 516.5px,#2fffd0 531.5px,#09fff6 544.5px,#00fdff 550.5px,#00f4ff 564.5px,#00f8ff 586.5px)"></i><i style="width:3px;background:linear-gradient(#0000e1 0.5px,#0002ff 104.5px,#001aff 135.5px,#0039ff 158.5px,#0094ff 205.5px,#00cfff 227.5px,#02fffd 243.5px,#6bff94 273.5px,#d7ff28 300.5px,#feff01 309.5px,#ff6a00 343.5px,#ff0b00 364.5px,#fe0000 367.5px,#d80000 379.5px,#c50000 389.5px,#c00000 399.5px,#cb0000 412.5px,#e30000 425.5px,#ff0100 435.5px,#ff3600 448.5px,#ffaa00 471.5px,#fffe00 487.5px,#75ff8a 515.5px,#38ffc7 530.5px,#10ffef 543.5px,#01fffe 552.5px,#00f8ff 570.5px,#00fdff 586.5px)"></i><i style="width:3px;background:linear-gradient(#0000e0 0.5px,#0002ff 106.5px,#001bff 137.5px,#003aff 159.5px,#0096ff 206.5px,#00d5ff 229.5px,#01fffe 243.5px,#6eff91 274.5px,#daff25 301.5px,#fdff02 309.5px,#ff7d00 339.5px,#ff0f00 363.5px,#fe0000 367.5px,#d90000 379.5px,#c60000 390.5px,#c20000 401.5px,#ce0000 414.5px,#e70000 427.5px,#ff0000 435.5px,#ff2f00 447.5px,#ff9200 467.5px,#feff01 488.5px,#7eff81 514.5px,#40ffbf 529.5px,#16ffe9 543.5px,#06fff9 552.5px,#00fdff 565.5px,#02fffd 586.5px)"></i><i style="width:3px;background:linear-gradient(#0000e0 0.5px,#0000fd 102.5px,#000bff 121.5px,#0027ff 148.5px,#0050ff 171.5px,#009aff 208.5px,#00daff 231.5px,#01fffe 243.5px,#6dff92 274.5px,#d5ff2a 300.5px,#fffe00 310.5px,#ff5c00 346.5px,#ff0b00 364.5px,#ff0000 367.5px,#da0000 379.5px,#c70000 390.5px,#c30000 401.5px,#ce0000 414.5px,#e70000 427.5px,#ff0200 436.5px,#ff3600 449.5px,#ffa900 472.5px,#fdff02 489.5px,#83ff7c 514.5px,#46ffb9 529.5px,#1bffe4 543.5px,#0bfff4 552.5px,#03fffc 568.5px,#06fff9 586.5px)"></i><i style="width:3px;background:linear-gradient(#0000df 0.5px,#0000fb 100.5px,#0003ff 113.5px,#001eff 142.5px,#0040ff 163.5px,#009aff 208.5px,#00daff 231.5px,#01fffe 243.5px,#70ff8f 275.5px,#d8ff27 301.5px,#ffff00 310.5px,#ff5800 347.5px,#ff0b00 364.5px,#ff0000 367.5px,#dc0000 379.5px,#c90000 390.5px,#c50000 402.5px,#cf0000 415.5px,#e80000 428.5px,#ff0100 436.5px,#ff3300 449.5px,#ffa000 471.5px,#fffd00 489.5px,#bbff44 503.5px,#6aff95 521.5px,#34ffcb 536.5px,#16ffe9 548.5px,#0afff5 562.5px,#0bfff4 586.5px)"></i><i style="width:3px;background:linear-gradient(#0000de 0.5px,#0000f8 98.5px,#0003ff 114.5px,#001fff 143.5px,#0041ff 164.5px,#0099ff 208.5px,#00d9ff 231.5px,#00ffff 243.5px,#73ff8c 276.5px,#d7ff28 301.5px,#feff01 310.5px,#ff6200 345.5px,#ff1000 363.5px,#ff0100 367.5px,#dd0000 379.5px,#ca0000 391.5px,#c70000 403.5px,#d10000 416.5px,#ea0000 429.5px,#fe0000 436.5px,#ff2800 447.5px,#ff8300 466.5px,#fffe00 490.5px,#84ff7b 516.5px,#4affb5 531.5px,#22ffdd 545.5px,#14ffeb 555.5px,#0dfff2 573.5px,#0ffff0 586.5px)"></i><i style="width:3px;background:linear-gradient(#0000de 0.5px,#0000f6 95.5px,#0002ff 115.5px,#001dff 143.5px,#0040ff 164.5px,#007bff 194.5px,#00a5ff 213.5px,#00f2ff 239.5px,#00ffff 243.5px,#6fff90 275.5px,#d2ff2d 300.5px,#fdff02 310.5px,#ff8300 338.5px,#ff1400 362.5px,#ff0100 367.5px,#dd0000 380.5px,#cc0000 392.5px,#c90000 405.5px,#d40000 418.5px,#ee0000 431.5px,#ff0100 437.5px,#ff3300 450.5px,#ffa300 473.5px,#feff01 491.5px,#8dff72 515.5px,#53ffac 530.5px,#2affd5 544.5px,#1affe5 554.5px,#12ffed 572.5px,#13ffec 586.5px)"></i><i style="width:3px;background:linear-gradient(#0000dd 0.5px,#0000f3 92.5px,#0002ff 117.5px,#001dff 144.5px,#003fff 164.5px,#0076ff 191.5px,#009dff 210.5px,#00e2ff 234.5px,#00feff 243.5px,#6aff95 274.5px,#ccff33 299.5px,#fffe00 311.5px,#ff5000 349.5px,#ff0d00 364.5px,#fe0000 368.5px,#e10000 379.5px,#ce0000 392.5px,#ca0000 405.5px,#d40000 418.5px,#ed0000 431.5px,#fe0000 437.5px,#ff2d00 449.5px,#ff8c00 469.5px,#feff01 492.5px,#92ff6d 515.5px,#58ffa7 530.5px,#30ffcf 544.5px,#20ffdf 555.5px,#17ffe8 574.5px,#18ffe7 586.5px)"></i><i style="width:3px;background:linear-gradient(#0000dd 0.5px,#0000f0 88.5px,#0002ff 118.5px,#001eff 145.5px,#0040ff 165.5px,#0072ff 189.5px,#0097ff 208.5px,#00d8ff 231.5px,#00feff 243.5px,#62ff9d 272.5px,#c2ff3d 297.5px,#ffff00 311.5px,#ff5100 349.5px,#ff1100 363.5px,#fe0000 368.5px,#e20000 379.5px,#d00000 393.5px,#cc0000 407.5px,#d70000 420.5px,#ef0000 432.5px,#ff0100 438.5px,#ff3300 451.5px,#ffa100 474.5px,#fdff02 493.5px,#97ff68 515.5px,#5effa1 530.5px,#35ffca 545.5px,#24ffdb 557.5px,#1cffe3 577.5px,#1cffe3 586.5px)"></i><i style="width:3px;background:linear-gradient(#0000dc 0.5px,#0000ed 84.5px,#0002ff 120.5px,#001eff 146.5px,#003fff 165.5px,#006fff 188.5px,#0092ff 206.5px,#00ceff 228.5px,#02fffd 244.5px,#7fff80 280.5px,#d2ff2d 301.5px,#feff01 311.5px,#ff6100 346.5px,#ff1200 363.5px,#ff0100 368.5px,#e30000 380.5px,#d00000 395.5px,#ce0000 409.5px,#da0000 422.5px,#f30000 434.5px,#ff0000 438.5px,#ff2c00 450.5px,#ff8f00 471.5px,#fffd00 493.5px,#b1ff4e 510.5px,#75ff8a 525.5px,#45ffba 541.5px,#2fffd0 552.5px,#23ffdc 569.5px,#20ffdf 586.5px)"></i><i style="width:3px;background:linear-gradient(#0000dc 0.5px,#0000ea 81.5px,#0000fc 116.5px,#0008ff 128.5px,#0025ff 152.5px,#004eff 172.5px,#0070ff 189.5px,#0091ff 206.5px,#00cdff 228.5px,#01fffe 244.5px,#82ff7d 281.5px,#d1ff2e 301.5px,#fffd00 312.5px,#ff4f00 350.5px,#ff1300 363.5px,#fe0000 369.5px,#e30000 381.5px,#d10000 397.5px,#cf0000 411.5px,#dd0000 424.5px,#f70000 436.5px,#ff0100 439.5px,#ff3300 452.5px,#ffa400 476.5px,#fffe00 494.5px,#94ff6b 518.5px,#64ff9b 532.5px,#40ffbf 546.5px,#2effd1 559.5px,#25ffda 581.5px,#24ffdb 586.5px)"></i><i style="width:3px;background:linear-gradient(#0000db 0.5px,#0000e8 78.5px,#0000fa 114.5px,#0003ff 124.5px,#0020ff 149.5px,#0044ff 168.5px,#006dff 187.5px,#008bff 204.5px,#00c4ff 225.5px,#01fffe 244.5px,#84ff7b 282.5px,#cfff30 301.5px,#fffe00 312.5px,#ff5000 350.5px,#ff1400 363.5px,#ff0000 369.5px,#e50000 381.5px,#d20000 399.5px,#d10000 412.5px,#de0000 425.5px,#f90000 437.5px,#ff0300 440.5px,#ff3900 454.5px,#ffbe00 482.5px,#fffe00 495.5px,#9aff65 518.5px,#6aff95 532.5px,#45ffba 547.5px,#33ffcc 561.5px,#29ffd6 584.5px,#29ffd6 586.5px)"></i><i style="width:3px;background:linear-gradient(#0000db 0.5px,#0000e5 75.5px,#0000f7 113.5px,#0002ff 125.5px,#0020ff 150.5px,#0043ff 168.5px,#006cff 187.5px,#008aff 204.5px,#00c3ff 225.5px,#00ffff 244.5px,#8aff75 284.5px,#d2ff2d 302.5px,#feff01 312.5px,#ff5c00 348.5px,#ff1600 363.5px,#fe0000 370.5px,#e60000 382.5px,#d20000 402.5px,#d30000 415.5px,#e30000 428.5px,#ff0100 440.5px,#ff3600 454.5px,#ffb600 481.5px,#fffe00 496.5px,#a3ff5c 517.5px,#73ff8c 531.5px,#4bffb4 547.5px,#38ffc7 562.5px,#2dffd2 585.5px,#2dffd2 586.5px)"></i><i style="width:3px;background:linear-gradient(#0000da 0.5px,#0000e3 73.5px,#0000f5 111.5px,#0002ff 126.5px,#0020ff 151.5px,#0044ff 169.5px,#0069ff 186.5px,#0085ff 202.5px,#00b9ff 222.5px,#00ffff 244.5px,#89ff76 284.5px,#d1ff2e 302.5px,#fdff02 312.5px,#ffa800 332.5px,#ff4a00 352.5px,#ff1300 364.5px,#ff0100 370.5px,#e70000 383.5px,#d30000 404.5px,#d40000 417.5px,#e40000 429.5px,#ff0000 440.5px,#ff3000 453.5px,#ff9e00 477.5px,#feff01 497.5px,#a8ff57 517.5px,#79ff86 531.5px,#52ffad 547.5px,#3effc1 562.5px,#31ffce 585.5px,#31ffce 586.5px)"></i><i style="width:3px;background:linear-gradient(#0000da 0.5px,#0000e1 72.5px,#0000f3 111.5px,#0002ff 128.5px,#0020ff 152.5px,#0045ff 170.5px,#0068ff 186.5px,#0083ff 202.5px,#00b9ff 222.5px,#00feff 244.5px,#85ff7a 283.5px,#c7ff38 300.5px,#fffe00 313.5px,#ff6100 348.5px,#ff1900 363.5px,#ff0000 371.5px,#e80000 384.5px,#d40000 405.5px,#d50000 418.5px,#e50000 430.5px,#ff0100 441.5px,#ff3600 455.5px,#ffb300 482.5px,#feff01 498.5px,#a9ff56 518.5px,#7cff83 532.5px,#55ffaa 549.5px,#40ffbf 566.5px,#35ffca 586.5px)"></i><i style="width:3px;background:linear-gradient(#0000d9 0.5px,#0000df 71.5px,#0000f1 110.5px,#0002ff 129.5px,#0021ff 153.5px,#0046ff 171.5px,#0068ff 187.5px,#0082ff 202.5px,#00b8ff 222.5px,#02fffd 245.5px,#9dff62 290.5px,#faff05 312.5px,#fffb00 314.5px,#ff6800 347.5px,#ff1f00 362.5px,#ff0200 371.5px,#e70000 387.5px,#d50000 406.5px,#d60000 419.5px,#e60000 431.5px,#ff0000 441.5px,#ff2f00 454.5px,#ffa100 479.5px,#feff01 499.5px,#aeff51 518.5px,#82ff7d 532.5px,#5bffa4 549.5px,#44ffbb 567.5px,#39ffc6 586.5px)"></i><i style="width:3px;background:linear-gradient(#0000d9 0.5px,#0000de 70.5px,#0000ef 109.5px,#0002ff 130.5px,#0021ff 154.5px,#0049ff 173.5px,#0066ff 187.5px,#007fff 201.5px,#00b4ff 221.5px,#01fffe 245.5px,#9fff60 291.5px,#fffd00 314.5px,#ff6f00 346.5px,#ff2200 362.5px,#ff0500 371.5px,#fd0000 374.5px,#e90000 387.5px,#d50000 407.5px,#d70000 420.5px,#e70000 432.5px,#ff0100 442.5px,#ff3a00 457.5px,#ffbe00 486.5px,#feff01 500.5px,#b3ff4c 518.5px,#88ff77 532.5px,#5fffa0 550.5px,#47ffb8 570.5px,#3dffc2 586.5px)"></i><i style="width:3px;background:linear-gradient(#0000d9 0.5px,#0000dc 69.5px,#0000ed 108.5px,#0001ff 131.5px,#0020ff 154.5px,#0048ff 173.5px,#0066ff 188.5px,#0080ff 202.5px,#00b9ff 223.5px,#01fffe 245.5px,#9eff61 291.5px,#ffff00 314.5px,#ff7200 346.5px,#ff2500 362.5px,#ff0700 371.5px,#fd0000 375.5px,#e90000 389.5px,#d60000 407.5px,#d70000 420.5px,#e60000 432.5px,#ff0000 442.5px,#ff3300 456.5px,#ffa800 482.5px,#feff01 501.5px,#b8ff47 518.5px,#8dff72 532.5px,#65ff9a 550.5px,#4bffb4 571.5px,#41ffbe 586.5px)"></i><i style="width:3px;background:linear-gradient(#0000d8 0.5px,#0000da 68.5px,#0000eb 107.5px,#0002ff 133.5px,#0022ff 156.5px,#0063ff 187.5px,#007cff 201.5px,#00b2ff 221.5px,#00ffff 245.5px,#9cff63 291.5px,#fdff02 314.5px,#ffc900 327.5px,#ff7500 346.5px,#ff2700 362.5px,#ff0900 371.5px,#fd0000 376.5px,#dd0000 400.5px,#d50000 413.5px,#db0000 425.5px,#f00000 437.5px,#ff0200 443.5px,#ff3900 458.5px,#ffbb00 487.5px,#feff01 502.5px,#baff45 519.5px,#90ff6f 533.5px,#6aff95 551.5px,#4effb1 573.5px,#45ffba 586.5px)"></i><i style="width:3px;background:linear-gradient(#0000d8 0.5px,#0000d8 67.5px,#0000e9 106.5px,#0002ff 134.5px,#0022ff 157.5px,#0062ff 188.5px,#0080ff 203.5px,#00bbff 224.5px,#00ffff 245.5px,#9bff64 291.5px,#ffff00 315.5px,#ff7700 346.5px,#ff2a00 362.5px,#ff0900 372.5px,#fd0000 377.5px,#da0000 404.5px,#d60000 417.5px,#e00000 429.5px,#f70000 440.5px,#ff0000 443.5px,#ff3700 458.5px,#ffb300 486.5px,#feff01 503.5px,#bfff40 519.5px,#96ff69 533.5px,#6fff90 551.5px,#52ffad 573.5px,#49ffb6 586.5px)"></i><i style="width:3px;background:linear-gradient(#0000d7 0.5px,#0000d7 67.5px,#0000e7 105.5px,#0002ff 135.5px,#0021ff 157.5px,#0062ff 189.5px,#0081ff 204.5px,#00c1ff 226.5px,#00ffff 245.5px,#96ff69 290.5px,#fdff02 315.5px,#ff8800 343.5px,#ff2d00 362.5px,#ff0c00 372.5px,#fd0000 378.5px,#d90000 406.5px,#d60000 419.5px,#e30000 431.5px,#fb0000 442.5px,#ff0500 445.5px,#ff4100 461.5px,#ffd800 495.5px,#feff01 504.5px,#c0ff3f 520.5px,#96ff69 535.5px,#71ff8e 553.5px,#54ffab 575.5px,#4dffb2 586.5px)"></i><i style="width:3px;background:linear-gradient(#0000d7 0.5px,#0000d6 66.5px,#0000e5 104.5px,#0002ff 136.5px,#0021ff 158.5px,#0062ff 190.5px,#0085ff 206.5px,#00caff 229.5px,#00feff 245.5px,#91ff6e 289.5px,#f3ff0c 313.5px,#ffff00 316.5px,#ff7c00 346.5px,#ff2c00 363.5px,#ff0b00 373.5px,#fd0000 379.5px,#da0000 406.5px,#d60000 419.5px,#e20000 431.5px,#fa0000 442.5px,#ff0400 445.5px,#ff3e00 461.5px,#ffc200 491.5px,#feff01 505.5px,#c5ff3a 520.5px,#9bff64 535.5px,#77ff88 553.5px,#59ffa6 575.5px,#50ffaf 586.5px)"></i><i style="width:3px;background:linear-gradient(#0000d7 0.5px,#0000d4 66.5px,#0000e4 104.5px,#0001ff 137.5px,#0022ff 159.5px,#007fff 204.5px,#00bfff 226.5px,#00feff 245.5px,#89ff76 287.5px,#dcff23 308.5px,#fdff02 316.5px,#ff9100 342.5px,#ff2f00 363.5px,#ff0e00 373.5px,#fd0000 380.5px,#da0000 406.5px,#d60000 419.5px,#e10000 431.5px,#fc0000 443.5px,#ff0600 446.5px,#ff4400 463.5px,#ffde00 498.5px,#feff01 506.5px,#c6ff39 521.5px,#9bff64 537.5px,#78ff87 555.5px,#5bffa4 576.5px,#54ffab 586.5px)"></i><i style="width:3px;background:linear-gradient(#0000d6 0.5px,#0000d3 65.5px,#0000e1 102.5px,#0000fc 134.5px,#0005ff 141.5px,#0026ff 162.5px,#007dff 204.5px,#00bbff 225.5px,#02fffd 246.5px,#8fff70 289.5px,#ffff00 317.5px,#ff7c00 347.5px,#ff3200 363.5px,#ff0d00 374.5px,#fd0000 381.5px,#db0000 406.5px,#d60000 419.5px,#e10000 431.5px,#fa0000 443.5px,#ff0400 446.5px,#ff4100 463.5px,#ffc300 493.5px,#feff01 507.5px,#c7ff38 522.5px,#9bff64 539.5px,#75ff8a 560.5px,#5cffa3 579.5px,#57ffa8 586.5px)"></i><i style="width:3px;background:linear-gradient(#0000d6 0.5px,#0000d2 65.5px,#0000e0 102.5px,#0000fb 134.5px,#0004ff 141.5px,#0025ff 162.5px,#007aff 203.5px,#00b7ff 224.5px,#01fffe 246.5px,#8eff71 289.5px,#fdff02 317.5px,#ff9f00 340.5px,#ff3100 364.5px,#ff0d00 375.5px,#ff0000 381.5px,#db0000 406.5px,#d60000 419.5px,#e00000 431.5px,#f90000 443.5px,#ff0300 446.5px,#ff3f00 463.5px,#ffb700 491.5px,#feff01 508.5px,#c8ff37 523.5px,#9bff64 541.5px,#6eff91 567.5px,#5affa5 586.5px)"></i><i style="width:3px;background:linear-gradient(#0000d6 0.5px,#0000d0 64.5px,#0000dd 100.5px,#0000f7 132.5px,#0003ff 141.5px,#0025ff 163.5px,#0078ff 203.5px,#00b6ff 224.5px,#01fffe 246.5px,#89ff76 288.5px,#efff10 314.5px,#ffff00 318.5px,#ff7c00 348.5px,#ff3400 364.5px,#ff0f00 375.5px,#fe0000 382.5px,#dc0000 406.5px,#d60000 419.5px,#df0000 431.5px,#f80000 443.5px,#ff0200 446.5px,#ff3d00 463.5px,#ffae00 490.5px,#feff01 509.5px,#cdff32 523.5px,#9fff60 541.5px,#70ff8f 568.5px,#5dffa2 586.5px)"></i><i style="width:3px;background:linear-gradient(#0000d6 0.5px,#0000cf 64.5px,#0000dc 100.5px,#0000f6 132.5px,#0003ff 142.5px,#0026ff 164.5px,#0075ff 202.5px,#00afff 222.5px,#00ffff 246.5px,#88ff77 288.5px,#f1ff0e 315.5px,#fffd00 319.5px,#ff7500 350.5px,#ff3300 365.5px,#ff0c00 377.5px,#fe0000 383.5px,#dc0000 406.5px,#d60000 419.5px,#df0000 431.5px,#f70000 443.5px,#ff0000 446.5px,#ff3a00 463.5px,#ffa600 489.5px,#fffc00 509.5px,#f2ff0d 513.5px,#c2ff3d 528.5px,#96ff69 548.5px,#6bff94 575.5px,#60ff9f 586.5px)"></i><i style="width:3px;background:linear-gradient(#0000d5 0.5px,#0000ce 64.5px,#0000da 99.5px,#0000f4 131.5px,#0001ff 142.5px,#0027ff 165.5px,#0074ff 202.5px,#00aeff 222.5px,#00feff 246.5px,#80ff7f 286.5px,#dfff20 311.5px,#ffff00 319.5px,#ff7800 350.5px,#ff3100 366.5px,#ff0c00 378.5px,#fe0000 384.5px,#dc0000 406.5px,#d50000 419.5px,#de0000 431.5px,#f60000 443.5px,#ff0200 447.5px,#ff3c00 464.5px,#ffa700 490.5px,#fffd00 510.5px,#efff10 515.5px,#c1ff3e 530.5px,#96ff69 550.5px,#6dff92 576.5px,#63ff9c 586.5px)"></i><i style="width:3px;background:linear-gradient(#0000d5 0.5px,#0000cd 63.5px,#0000d9 98.5px,#0000f2 130.5px,#0002ff 143.5px,#0027ff 166.5px,#0070ff 201.5px,#00a9ff 221.5px,#01fffe 247.5px,#89ff76 289.5px,#f9ff06 318.5px,#fffc00 320.5px,#ff7500 351.5px,#ff3400 366.5px,#ff0e00 378.5px,#fd0000 385.5px,#dc0000 406.5px,#d50000 419.5px,#dd0000 431.5px,#f50000 443.5px,#ff0100 447.5px,#ff3d00 465.5px,#ffa400 490.5px,#fffd00 511.5px,#e5ff1a 519.5px,#b7ff48 536.5px,#88ff77 560.5px,#6cff93 580.5px,#66ff99 586.5px)"></i><i style="width:3px;background:linear-gradient(#0000d5 0.5px,#0000cc 63.5px,#0000d8 98.5px,#0000f1 130.5px,#0002ff 144.5px,#002aff 168.5px,#006fff 201.5px,#00a8ff 221.5px,#00ffff 247.5px,#88ff77 289.5px,#f8ff07 318.5px,#fffe00 320.5px,#ff7300 352.5px,#ff3300 367.5px,#ff0d00 379.5px,#ff0000 385.5px,#dd0000 405.5px,#d40000 418.5px,#db0000 430.5px,#f10000 442.5px,#ff0200 448.5px,#ff3f00 466.5px,#ffa400 491.5px,#fffd00 512.5px,#c9ff36 530.5px,#9bff64 551.5px,#73ff8c 576.5px,#69ff96 586.5px)"></i><i style="width:3px;background:linear-gradient(#0000d5 0.5px,#0000cb 63.5px,#0000d6 97.5px,#0000ef 130.5px,#0002ff 145.5px,#002cff 170.5px,#006dff 201.5px,#00aaff 222.5px,#00feff 247.5px,#84ff7b 288.5px,#eeff11 316.5px,#feff01 320.5px,#ff7e00 350.5px,#ff3500 367.5px,#ff0f00 379.5px,#fe0000 386.5px,#dc0000 406.5px,#d40000 419.5px,#da0000 430.5px,#f00000 442.5px,#ff0100 448.5px,#ff3d00 466.5px,#ff9d00 490.5px,#fffd00 513.5px,#c8ff37 532.5px,#97ff68 555.5px,#73ff8c 578.5px,#6cff93 586.5px)"></i><i style="width:3px;background:linear-gradient(#0000d5 0.5px,#0000ca 62.5px,#0000d5 96.5px,#0000ed 129.5px,#0001ff 145.5px,#002bff 170.5px,#006aff 200.5px,#00a3ff 220.5px,#01fffe 248.5px,#89ff76 290.5px,#f9ff06 319.5px,#fffd00 321.5px,#ff3b00 366.5px,#ff1100 379.5px,#fd0000 387.5px,#dc0000 406.5px,#d30000 419.5px,#d90000 430.5px,#ef0000 442.5px,#ff0000 448.5px,#ff3700 465.5px,#ff9500 489.5px,#fffa00 513.5px,#faff05 516.5px,#cbff34 532.5px,#9bff64 555.5px,#76ff89 578.5px,#6eff91 586.5px)"></i><i style="width:3px;background:linear-gradient(#0000d5 0.5px,#0000c9 62.5px,#0000d4 96.5px,#0000ec 129.5px,#0002ff 146.5px,#002dff 172.5px,#0069ff 200.5px,#00a5ff 221.5px,#00ffff 248.5px,#88ff77 290.5px,#f7ff08 319.5px,#ffff00 321.5px,#ff3e00 366.5px,#ff1300 379.5px,#ff0000 387.5px,#dc0000 406.5px,#d30000 419.5px,#d80000 430.5px,#ee0000 442.5px,#ff0100 449.5px,#ff3f00 468.5px,#ff9b00 491.5px,#fff600 513.5px,#fdff02 516.5px,#cfff30 532.5px,#9cff63 556.5px,#78ff87 579.5px,#71ff8e 586.5px)"></i><i style="width:3px;background:linear-gradient(#0000d5 0.5px,#0000c8 62.5px,#0000d2 95.5px,#0000eb 128.5px,#0002ff 147.5px,#0030ff 174.5px,#0067ff 200.5px,#00a4ff 221.5px,#00feff 248.5px,#84ff7b 289.5px,#f1ff0e 318.5px,#fffc00 322.5px,#ff4000 366.5px,#ff1500 379.5px,#fe0000 388.5px,#dc0000 406.5px,#d20000 418.5px,#d60000 429.5px,#ea0000 441.5px,#ff0000 449.5px,#ff3a00 467.5px,#ff9300 490.5px,#fff300 513.5px,#fdff02 517.5px,#cdff32 534.5px,#99ff66 559.5px,#79ff86 580.5px,#73ff8c 586.5px)"></i><i style="width:3px;background:linear-gradient(#0000d5 0.5px,#0000c8 62.5px,#0000d1 95.5px,#0000ea 128.5px,#0001ff 147.5px,#002fff 174.5px,#0066ff 200.5px,#00a3ff 221.5px,#01fffe 249.5px,#8dff72 292.5px,#fffe00 322.5px,#ff4200 366.5px,#ff1400 380.5px,#ff0000 388.5px,#dc0000 406.5px,#d10000 418.5px,#d50000 429.5px,#e90000 441.5px,#ff0100 450.5px,#ff3f00 469.5px,#ff9900 492.5px,#fff300 514.5px,#fdff02 518.5px,#ccff33 536.5px,#97ff68 562.5px,#7aff85 582.5px,#76ff89 586.5px)"></i><i style="width:3px;background:linear-gradient(#0000d5 0.5px,#0000c7 62.5px,#0000d0 95.5px,#0000e9 128.5px,#0002ff 148.5px,#0031ff 176.5px,#0067ff 201.5px,#00a8ff 223.5px,#00ffff 249.5px,#8cff73 292.5px,#fbff04 321.5px,#fffb00 323.5px,#ff4400 366.5px,#ff1600 380.5px,#fe0000 389.5px,#dc0000 406.5px,#d10000 418.5px,#d40000 429.5px,#e80000 441.5px,#ff0000 450.5px,#ff3d00 469.5px,#ff9600 492.5px,#fff000 514.5px,#feff01 519.5px,#caff35 538.5px,#94ff6b 565.5px,#7aff85 584.5px,#78ff87 586.5px)"></i><i style="width:3px;background:linear-gradient(#0000d5 0.5px,#0000c6 62.5px,#0000d0 95.5px,#0000e8 128.5px,#0001ff 148.5px,#0030ff 176.5px,#0064ff 200.5px,#00a4ff 222.5px,#00feff 249.5px,#84ff7b 290.5px,#f1ff0e 319.5px,#fffd00 323.5px,#ff4600 366.5px,#ff1400 381.5px,#ff0000 389.5px,#dc0000 406.5px,#d00000 418.5px,#d30000 429.5px,#e70000 441.5px,#ff0100 451.5px,#ff4200 471.5px,#ff9700 493.5px,#fff000 515.5px,#feff01 520.5px,#cbff34 539.5px,#95ff6a 566.5px,#7cff83 585.5px,#7bff84 586.5px)"></i><i style="width:3px;background:linear-gradient(#0000d5 0.5px,#0000c6 62.5px,#0000cf 95.5px,#0000e8 128.5px,#0002ff 149.5px,#0033ff 178.5px,#0065ff 201.5px,#00a6ff 223.5px,#01fffe 250.5px,#91ff6e 294.5px,#fffe00 323.5px,#ff4800 366.5px,#ff1600 381.5px,#fd0000 390.5px,#da0000 407.5px,#cf0000 419.5px,#d30000 430.5px,#e80000 442.5px,#ff0000 451.5px,#ff3c00 470.5px,#ff9000 492.5px,#ffec00 515.5px,#feff01 521.5px,#c9ff36 541.5px,#95ff6a 568.5px,#7dff82 586.5px)"></i><i style="width:3px;background:linear-gradient(#0000d5 0.5px,#0000c5 62.5px,#0000ce 95.5px,#0000e7 128.5px,#0001ff 149.5px,#0032ff 178.5px,#0064ff 201.5px,#00a8ff 224.5px,#00ffff 250.5px,#8cff73 293.5px,#fbff04 322.5px,#fffb00 324.5px,#ff4a00 366.5px,#ff1500 382.5px,#fe0000 390.5px,#da0000 407.5px,#ce0000 419.5px,#d20000 430.5px,#e60000 442.5px,#ff0100 452.5px,#ff4500 473.5px,#ff9e00 496.5px,#ffed00 516.5px,#feff01 522.5px,#caff35 542.5px,#96ff69 569.5px,#80ff7f 586.5px)"></i><i style="width:3px;background:linear-gradient(#0000d5 0.5px,#0000c5 62.5px,#0000ce 95.5px,#0000e6 128.5px,#0002ff 150.5px,#0035ff 180.5px,#0066ff 202.5px,#00adff 226.5px,#02fffd 251.5px,#92ff6d 295.5px,#fdff02 323.5px,#ff9200 349.5px,#ff4000 369.5px,#ff0b00 386.5px,#fd0000 391.5px,#d90000 407.5px,#cd0000 418.5px,#d00000 429.5px,#e30000 441.5px,#ff0000 452.5px,#ff3f00 472.5px,#ff9700 495.5px,#ffe900 516.5px,#feff01 523.5px,#c8ff37 544.5px,#97ff68 570.5px,#82ff7d 586.5px)"></i><i style="width:3px;background:linear-gradient(#0000d5 0.5px,#0000c4 62.5px,#0000cd 95.5px,#0000e6 128.5px,#0001ff 150.5px,#0034ff 180.5px,#0065ff 202.5px,#00acff 226.5px,#01fffe 251.5px,#91ff6e 295.5px,#fffe00 324.5px,#ff4d00 366.5px,#ff1700 382.5px,#fd0000 391.5px,#d90000 407.5px,#cc0000 418.5px,#cd0000 428.5px,#df0000 440.5px,#ff0100 453.5px,#ff4800 475.5px,#ffad00 501.5px,#fff000 519.5px,#feff01 524.5px,#c9ff36 545.5px,#98ff67 571.5px,#85ff7a 586.5px)"></i><i style="width:3px;background:linear-gradient(#0000d5 0.5px,#0000c4 62.5px,#0000cd 95.5px,#0000e5 128.5px,#0002ff 151.5px,#0035ff 181.5px,#0064ff 202.5px,#00abff 226.5px,#00feff 251.5px,#8dff72 294.5px,#fbff04 323.5px,#fffb00 325.5px,#ff4f00 366.5px,#ff1600 383.5px,#fe0000 391.5px,#d80000 407.5px,#cb0000 418.5px,#cc0000 428.5px,#de0000 440.5px,#ff0000 453.5px,#ff4300 474.5px,#ffa700 500.5px,#ffed00 519.5px,#feff01 525.5px,#c9ff36 546.5px,#99ff66 572.5px,#88ff77 586.5px)"></i><i style="width:3px;background:linear-gradient(#0000d5 0.5px,#0000c3 62.5px,#0000cd 95.5px,#0000e6 129.5px,#0002ff 151.5px,#0034ff 181.5px,#0063ff 202.5px,#00adff 227.5px,#02fffd 252.5px,#93ff6c 296.5px,#feff01 324.5px,#ff4c00 367.5px,#ff1400 384.5px,#ff0000 391.5px,#d80000 407.5px,#c90000 418.5px,#cb0000 428.5px,#dd0000 440.5px,#ff0100 454.5px,#ff4c00 477.5px,#ffe300 517.5px,#feff01 526.5px,#c8ff37 548.5px,#9aff65 573.5px,#8aff75 586.5px)"></i><i style="width:3px;background:linear-gradient(#0000d5 0.5px,#0000c3 62.5px,#0000cc 95.5px,#0000e6 129.5px,#0001ff 151.5px,#0034ff 181.5px,#0062ff 202.5px,#00acff 227.5px,#00ffff 252.5px,#92ff6d 296.5px,#fffd00 325.5px,#ff5100 366.5px,#ff1800 383.5px,#fd0000 392.5px,#d50000 408.5px,#c80000 419.5px,#ca0000 429.5px,#de0000 441.5px,#ff0000 454.5px,#ff4600 476.5px,#ffe000 517.5px,#feff01 527.5px,#c8ff37 549.5px,#9bff64 574.5px,#8dff72 586.5px)"></i><i style="width:3px;background:linear-gradient(#0000d5 0.5px,#0000c3 62.5px,#0000cc 95.5px,#0000e6 129.5px,#0001ff 151.5px,#0035ff 182.5px,#0061ff 202.5px,#00aeff 228.5px,#00feff 252.5px,#8dff72 295.5px,#fffe00 325.5px,#ff5300 366.5px,#ff1600 384.5px,#fd0000 392.5px,#d40000 408.5px,#c60000 419.5px,#c90000 429.5px,#dc0000 441.5px,#ff0100 455.5px,#ff4f00 479.5px,#ffde00 517.5px,#feff01 528.5px,#c9ff36 550.5px,#9eff61 574.5px,#90ff6f 586.5px)"></i><i style="width:3px;background:linear-gradient(#0000d6 0.5px,#0000c3 62.5px,#0000cd 96.5px,#0000e7 130.5px,#0001ff 151.5px,#0035ff 182.5px,#0061ff 202.5px,#00adff 228.5px,#02fffd 253.5px,#93ff6c 297.5px,#ffff00 325.5px,#ff5000 367.5px,#ff1400 385.5px,#fe0000 392.5px,#d40000 408.5px,#c50000 418.5px,#c60000 428.5px,#d90000 440.5px,#ff0000 455.5px,#ff4e00 479.5px,#ffde00 518.5px,#feff01 529.5px,#c9ff36 551.5px,#a1ff5e 574.5px,#94ff6b 586.5px)"></i><i style="width:3px;background:linear-gradient(#0000d6 0.5px,#0000c3 62.5px,#0000cd 96.5px,#0000e7 130.5px,#0001ff 151.5px,#0035ff 182.5px,#005eff 201.5px,#00a9ff 227.5px,#01fffe 253.5px,#92ff6d 297.5px,#feff01 325.5px,#ff4d00 368.5px,#ff0e00 387.5px,#fe0000 392.5px,#d50000 407.5px,#c40000 418.5px,#c40000 427.5px,#d30000 438.5px,#ff0200 456.5px,#ff5000 480.5px,#ffdb00 518.5px,#feff01 530.5px,#ccff33 551.5px,#a4ff5b 574.5px,#97ff68 586.5px)"></i><i style="width:3px;background:linear-gradient(#0000d6 0.5px,#0000c3 62.5px,#0000cd 96.5px,#0000e7 130.5px,#0001ff 151.5px,#0035ff 182.5px,#005dff 201.5px,#00a8ff 227.5px,#00ffff 253.5px,#8eff71 296.5px,#fffd00 326.5px,#ff5200 367.5px,#ff1200 386.5px,#fe0000 392.5px,#d40000 407.5px,#c40000 417.5px,#c20000 426.5px,#d00000 437.5px,#fa0000 454.5px,#ff0400 457.5px,#ff5500 482.5px,#ffdc00 519.5px,#feff01 531.5px,#ccff33 552.5px,#a7ff58 574.5px,#9aff65 586.5px)"></i><i style="width:3px;background:linear-gradient(#0000d6 0.5px,#0000c3 62.5px,#0000cd 96.5px,#0000e7 130.5px,#0001ff 151.5px,#0036ff 183.5px,#005fff 202.5px,#00aeff 229.5px,#02fffd 254.5px,#90ff6f 297.5px,#fffe00 326.5px,#ff5300 367.5px,#ff1200 386.5px,#ff0000 392.5px,#d30000 407.5px,#c20000 417.5px,#c00000 426.5px,#cf0000 437.5px,#f90000 454.5px,#ff0200 457.5px,#ff5400 482.5px,#ffd900 519.5px,#feff01 532.5px,#cdff32 553.5px,#a9ff56 575.5px,#9eff61 586.5px)"></i><i style="width:3px;background:linear-gradient(#0000d6 0.5px,#0000c3 62.5px,#0000cd 96.5px,#0000e7 130.5px,#0002ff 151.5px,#0036ff 183.5px,#005fff 202.5px,#00aaff 228.5px,#01fffe 254.5px,#93ff6c 298.5px,#ffff00 326.5px,#ff5000 368.5px,#ff0c00 388.5px,#fe0000 392.5px,#d20000 407.5px,#c10000 417.5px,#bf0000 426.5px,#cd0000 437.5px,#f80000 454.5px,#ff0100 457.5px,#ff5200 482.5px,#ffda00 520.5px,#feff01 533.5px,#cdff32 554.5px,#acff53 575.5px,#a1ff5e 586.5px)"></i><i style="width:3px;background:linear-gradient(#0000d7 0.5px,#0000c3 62.5px,#0000cd 96.5px,#0000e7 130.5px,#0002ff 151.5px,#0039ff 184.5px,#0062ff 203.5px,#00afff 230.5px,#00ffff 254.5px,#8fff70 297.5px,#feff01 326.5px,#ff4d00 369.5px,#ff0200 391.5px,#f10000 396.5px,#cb0000 410.5px,#bd0000 420.5px,#bf0000 429.5px,#d50000 441.5px,#ff0000 457.5px,#ff5400 483.5px,#ffd800 520.5px,#fffe00 533.5px,#ccff33 556.5px,#adff52 577.5px,#a5ff5a 586.5px)"></i><i style="width:3px;background:linear-gradient(#0000d7 0.5px,#0000c4 62.5px,#0000ce 96.5px,#0000e8 130.5px,#0001ff 150.5px,#0037ff 183.5px,#0062ff 203.5px,#00abff 229.5px,#02fffd 255.5px,#91ff6e 298.5px,#fdff02 326.5px,#ffa800 347.5px,#ff4200 372.5px,#fe0000 392.5px,#ce0000 408.5px,#bd0000 418.5px,#bc0000 427.5px,#cd0000 438.5px,#fb0000 456.5px,#ff0500 459.5px,#ff5a00 485.5px,#ffd900 521.5px,#fffe00 534.5px,#cfff30 556.5px,#b1ff4e 576.5px,#a9ff56 586.5px)"></i><i style="width:3px;background:linear-gradient(#0000d7 0.5px,#0000c4 62.5px,#0000ce 96.5px,#0000e7 129.5px,#0002ff 150.5px,#003bff 185.5px,#0067ff 205.5px,#00b4ff 232.5px,#01fffe 255.5px,#94ff6b 299.5px,#fffe00 327.5px,#ff4e00 369.5px,#ff0100 391.5px,#cb0000 409.5px,#bb0000 419.5px,#bc0000 428.5px,#d00000 440.5px,#ff0100 458.5px,#ff5500 484.5px,#ffd600 521.5px,#ffff00 535.5px,#d1ff2e 556.5px,#b4ff4b 576.5px,#acff53 586.5px)"></i><i style="width:3px;background:linear-gradient(#0000d7 0.5px,#0000c5 62.5px,#0000ce 95.5px,#0000e7 128.5px,#0001ff 149.5px,#003aff 184.5px,#0064ff 204.5px,#00adff 230.5px,#00ffff 255.5px,#93ff6c 299.5px,#fffe00 327.5px,#ff4a00 370.5px,#ff0100 391.5px,#cd0000 408.5px,#bb0000 418.5px,#b90000 426.5px,#c60000 436.5px,#f10000 453.5px,#ff0000 458.5px,#ff5700 485.5px,#ffd700 522.5px,#ffff00 536.5px,#d4ff2b 556.5px,#b8ff47 576.5px,#b0ff4f 586.5px)"></i><i style="width:3px;background:linear-gradient(#0000d8 0.5px,#0000c6 62.5px,#0000cf 95.5px,#0000e7 128.5px,#0002ff 149.5px,#003eff 186.5px,#006cff 207.5px,#00b6ff 233.5px,#00feff 255.5px,#8bff74 297.5px,#fbff04 326.5px,#fffb00 328.5px,#ff4b00 370.5px,#ff0000 391.5px,#cc0000 408.5px,#ba0000 418.5px,#b80000 426.5px,#c50000 436.5px,#f00000 453.5px,#ff0200 459.5px,#ff5a00 486.5px,#ffd500 522.5px,#feff01 537.5px,#d4ff2b 557.5px,#baff45 577.5px,#b4ff4b 586.5px)"></i><i style="width:3px;background:linear-gradient(#0000d8 0.5px,#0000c6 62.5px,#0000d0 95.5px,#0000e8 128.5px,#0001ff 148.5px,#003dff 185.5px,#006aff 206.5px,#00afff 231.5px,#01fffe 256.5px,#95ff6a 300.5px,#feff01 327.5px,#ff4300 372.5px,#ff0000 391.5px,#cb0000 408.5px,#b90000 418.5px,#b60000 426.5px,#c60000 437.5px,#f50000 455.5px,#ff0100 459.5px,#ff5c00 487.5px,#ffd600 523.5px,#feff01 538.5px,#d7ff28 557.5px,#beff41 576.5px,#b7ff48 586.5px)"></i><i style="width:3px;background:linear-gradient(#0000d8 0.5px,#0000c7 62.5px,#0000d0 95.5px,#0000e9 128.5px,#0002ff 148.5px,#0042ff 187.5px,#0071ff 209.5px,#00bbff 235.5px,#01fffe 256.5px,#95ff6a 300.5px,#fdff02 327.5px,#ff3c00 374.5px,#fe0000 391.5px,#ca0000 408.5px,#b80000 418.5px,#b50000 426.5px,#c50000 437.5px,#f40000 455.5px,#ff0000 459.5px,#ff5e00 488.5px,#ffd400 523.5px,#feff01 539.5px,#d8ff27 558.5px,#c1ff3e 577.5px,#bbff44 586.5px)"></i><i style="width:3px;background:linear-gradient(#0000d8 0.5px,#0000c8 62.5px,#0000d1 95.5px,#0000e9 127.5px,#0002ff 147.5px,#0043ff 187.5px,#0072ff 209.5px,#00b7ff 234.5px,#00ffff 256.5px,#91ff6e 299.5px,#fffd00 328.5px,#ff4000 373.5px,#ff0200 390.5px,#c80000 409.5px,#b60000 419.5px,#b60000 427.5px,#c90000 439.5px,#ff0000 459.5px,#ff5300 485.5px,#ffd200 523.5px,#fffe00 539.5px,#d7ff28 560.5px,#c3ff3c 579.5px,#bfff40 586.5px)"></i><i style="width:3px;background:linear-gradient(#0000d9 0.5px,#0000c9 62.5px,#0000d2 94.5px,#0000e9 126.5px,#0001ff 146.5px,#0042ff 186.5px,#006fff 208.5px,#00b1ff 232.5px,#00feff 256.5px,#89ff76 297.5px,#f8ff07 326.5px,#fffe00 328.5px,#ff3c00 374.5px,#ff0100 390.5px,#ca0000 408.5px,#b60000 419.5px,#b40000 426.5px,#c40000 437.5px,#f20000 455.5px,#ff0200 460.5px,#ff6d00 493.5px,#ffd600 525.5px,#fffe00 540.5px,#daff25 560.5px,#c6ff39 579.5px,#c3ff3c 586.5px)"></i><i style="width:3px;background:linear-gradient(#0000d9 0.5px,#0000ca 62.5px,#0000d2 94.5px,#0000ea 126.5px,#0001ff 145.5px,#0044ff 186.5px,#0072ff 209.5px,#00b3ff 233.5px,#02fffd 257.5px,#97ff68 301.5px,#fffe00 328.5px,#ff3800 375.5px,#ff0100 390.5px,#cc0000 407.5px,#b70000 418.5px,#b40000 426.5px,#c40000 437.5px,#f10000 455.5px,#ff0100 460.5px,#ff7300 495.5px,#ffd800 526.5px,#fffe00 541.5px,#ddff22 560.5px,#caff35 579.5px,#c7ff38 586.5px)"></i><i style="width:3px;background:linear-gradient(#0000da 0.5px,#0000cb 63.5px,#0000d5 96.5px,#0000ed 128.5px,#0002ff 145.5px,#004aff 189.5px,#0077ff 211.5px,#00b9ff 235.5px,#01fffe 257.5px,#96ff69 301.5px,#ffff00 328.5px,#ff3000 377.5px,#ff0000 390.5px,#ce0000 406.5px,#b80000 417.5px,#b40000 425.5px,#c00000 435.5px,#e80000 452.5px,#ff0000 460.5px,#ff7c00 498.5px,#ffd900 527.5px,#ffff00 542.5px,#dfff20 560.5px,#ceff31 579.5px,#caff35 586.5px)"></i><i style="width:3px;background:linear-gradient(#0000da 0.5px,#0000cc 63.5px,#0000d6 96.5px,#0000ee 128.5px,#0002ff 144.5px,#004aff 188.5px,#0078ff 211.5px,#00b9ff 235.5px,#00ffff 257.5px,#95ff6a 301.5px,#feff01 328.5px,#ff2c00 378.5px,#ff0000 390.5px,#ce0000 406.5px,#b90000 417.5px,#b50000 425.5px,#c00000 435.5px,#e50000 451.5px,#fe0000 460.5px,#ff5700 487.5px,#ffd100 525.5px,#ffff00 543.5px,#e1ff1e 561.5px,#d1ff2e 580.5px,#ceff31 586.5px)"></i><i style="width:3px;background:linear-gradient(#0000da 0.5px,#0000cd 63.5px,#0000d7 96.5px,#0000ef 128.5px,#0002ff 143.5px,#0044ff 184.5px,#0071ff 208.5px,#00adff 231.5px,#00ffff 257.5px,#91ff6e 300.5px,#feff01 328.5px,#ff2400 380.5px,#fe0000 390.5px,#ce0000 406.5px,#b90000 417.5px,#b60000 426.5px,#c40000 437.5px,#ef0000 455.5px,#ff0200 461.5px,#ffcc00 524.5px,#fffd00 543.5px,#e0ff1f 564.5px,#d2ff2d 585.5px,#d2ff2d 586.5px)"></i><i style="width:3px;background:linear-gradient(#0000db 0.5px,#0000ce 63.5px,#0000d8 96.5px,#0000f0 128.5px,#0002ff 142.5px,#0039ff 176.5px,#006eff 206.5px,#00a4ff 228.5px,#00feff 257.5px,#8aff75 298.5px,#f5ff0a 326.5px,#fffc00 329.5px,#ff2300 380.5px,#fe0000 390.5px,#ce0000 406.5px,#ba0000 417.5px,#b70000 426.5px,#c40000 437.5px,#ec0000 454.5px,#ff0100 461.5px,#ffc500 522.5px,#fff700 541.5px,#fdff02 546.5px,#e4ff1b 563.5px,#d7ff28 583.5px,#d6ff29 586.5px)"></i><i style="width:3px;background:linear-gradient(#0000db 0.5px,#0000cf 63.5px,#0000d9 96.5px,#0000f1 127.5px,#0002ff 141.5px,#0033ff 172.5px,#0070ff 207.5px,#00a7ff 229.5px,#02fffd 258.5px,#94ff6b 301.5px,#fdff02 328.5px,#ffbd00 344.5px,#ff1f00 381.5px,#fd0000 390.5px,#d10000 405.5px,#bb0000 417.5px,#b80000 426.5px,#c50000 437.5px,#ec0000 454.5px,#ff0100 461.5px,#ffba00 519.5px,#fff000 539.5px,#fdff02 547.5px,#e5ff1a 564.5px,#daff25 586.5px)"></i><i style="width:3px;background:linear-gradient(#0000dc 0.5px,#0000d0 63.5px,#0000da 96.5px,#0000f2 127.5px,#0002ff 140.5px,#0030ff 169.5px,#0073ff 208.5px,#00a9ff 230.5px,#02fffd 258.5px,#94ff6b 301.5px,#fffd00 329.5px,#ff1f00 381.5px,#fd0000 390.5px,#d20000 405.5px,#bc0000 417.5px,#b90000 426.5px,#c60000 437.5px,#ec0000 454.5px,#ff0000 461.5px,#ffaa00 514.5px,#ffe700 536.5px,#fdff02 548.5px,#e7ff18 565.5px,#deff21 586.5px)"></i><i style="width:3px;background:linear-gradient(#0000dc 0.5px,#0000d2 64.5px,#0000dc 97.5px,#0000f4 128.5px,#0002ff 139.5px,#002cff 166.5px,#0074ff 208.5px,#00a9ff 230.5px,#01fffe 258.5px,#93ff6c 301.5px,#fffe00 329.5px,#ff1f00 381.5px,#fd0000 390.5px,#d20000 405.5px,#be0000 417.5px,#bb0000 427.5px,#ca0000 439.5px,#f40000 457.5px,#ff0000 461.5px,#ff9600 508.5px,#ffe100 534.5px,#fffe00 548.5px,#e9ff16 566.5px,#e2ff1d 586.5px)"></i><i style="width:3px;background:linear-gradient(#0000dd 0.5px,#0000d3 64.5px,#0000de 97.5px,#0000f6 128.5px,#0002ff 138.5px,#002bff 164.5px,#0077ff 209.5px,#00acff 231.5px,#01fffe 258.5px,#93ff6c 301.5px,#fffe00 329.5px,#ff1b00 382.5px,#fd0000 390.5px,#d30000 405.5px,#bf0000 417.5px,#bc0000 427.5px,#cb0000 439.5px,#f10000 456.5px,#ff0000 461.5px,#ff8900 504.5px,#ffdd00 533.5px,#fffe00 549.5px,#ebff14 567.5px,#e6ff19 586.5px)"></i><i style="width:3px;background:linear-gradient(#0000dd 0.5px,#0000d4 64.5px,#0000df 97.5px,#0000f7 128.5px,#0002ff 137.5px,#0029ff 162.5px,#0058ff 190.5px,#007cff 211.5px,#00b2ff 233.5px,#01fffe 258.5px,#93ff6c 301.5px,#fffe00 329.5px,#ff1b00 382.5px,#fd0000 390.5px,#d40000 405.5px,#c00000 417.5px,#be0000 427.5px,#cc0000 439.5px,#f10000 456.5px,#ff0200 462.5px,#ff7d00 500.5px,#ffdb00 533.5px,#fffe00 550.5px,#edff12 569.5px,#eaff15 586.5px)"></i><i style="width:3px;background:linear-gradient(#0000de 0.5px,#0000d6 64.5px,#0000e0 97.5px,#0000f9 128.5px,#0003ff 136.5px,#0029ff 161.5px,#0055ff 187.5px,#0078ff 209.5px,#00acff 231.5px,#00f9ff 256.5px,#00ffff 258.5px,#93ff6c 301.5px,#ffff00 329.5px,#ff1b00 382.5px,#fd0000 390.5px,#d50000 405.5px,#c20000 417.5px,#c00000 427.5px,#cd0000 439.5px,#f10000 456.5px,#ff0200 462.5px,#ff7600 498.5px,#ffd900 533.5px,#fffa00 549.5px,#fcff03 555.5px,#efff10 571.5px,#eeff11 586.5px)"></i><i style="width:3px;background:linear-gradient(#0000de 0.5px,#0000d7 65.5px,#0000e3 99.5px,#0000fb 129.5px,#0004ff 136.5px,#002aff 161.5px,#0056ff 186.5px,#0077ff 208.5px,#00aaff 230.5px,#00efff 253.5px,#00ffff 258.5px,#92ff6d 301.5px,#ffff00 329.5px,#ff1700 383.5px,#fd0000 390.5px,#d60000 405.5px,#c40000 417.5px,#c20000 428.5px,#d10000 441.5px,#f60000 458.5px,#ff0200 462.5px,#ff7300 497.5px,#ffda00 534.5px,#fff900 550.5px,#fdff02 556.5px,#f2ff0d 572.5px,#f1ff0e 586.5px)"></i><i style="width:3px;background:linear-gradient(#0000df 0.5px,#0000d8 65.5px,#0000e5 99.5px,#0000fd 129.5px,#000bff 140.5px,#0032ff 164.5px,#0056ff 185.5px,#0076ff 207.5px,#00a5ff 228.5px,#00e5ff 250.5px,#00ffff 258.5px,#92ff6d 301.5px,#ffff00 329.5px,#ff1700 383.5px,#fe0000 390.5px,#d70000 405.5px,#c50000 417.5px,#c40000 428.5px,#d30000 441.5px,#f60000 458.5px,#ff0200 462.5px,#ff6d00 495.5px,#ffd900 534.5px,#fff700 550.5px,#fdff02 558.5px,#f5ff0a 574.5px,#f5ff0a 586.5px)"></i><i style="width:3px;background:linear-gradient(#0000df 0.5px,#0000da 65.5px,#0000e6 99.5px,#0001ff 131.5px,#0025ff 156.5px,#0056ff 183.5px,#0075ff 206.5px,#00a3ff 227.5px,#00dfff 248.5px,#00ffff 258.5px,#92ff6d 301.5px,#ffff00 329.5px,#ff1700 383.5px,#fe0000 390.5px,#d80000 405.5px,#c70000 417.5px,#c60000 428.5px,#d50000 442.5px,#f90000 459.5px,#ff0200 462.5px,#ff6a00 494.5px,#ffd900 535.5px,#fff700 551.5px,#feff01 560.5px,#f8ff07 576.5px,#f9ff06 586.5px)"></i><i style="width:3px;background:linear-gradient(#0000e0 0.5px,#0000db 65.5px,#0000e8 99.5px,#0002ff 130.5px,#0025ff 155.5px,#0058ff 183.5px,#0076ff 206.5px,#00a3ff 227.5px,#00dfff 248.5px,#00ffff 258.5px,#8eff71 300.5px,#ffff00 329.5px,#ff1700 383.5px,#ff0000 390.5px,#da0000 405.5px,#c90000 417.5px,#c80000 428.5px,#d70000 442.5px,#f90000 459.5px,#ff0200 462.5px,#ff4500 482.5px,#ff7500 498.5px,#ffd800 535.5px,#fff400 551.5px,#feff01 563.5px,#fdff02 582.5px,#fdff02 586.5px)"></i><i style="width:3px;background:linear-gradient(#0000e1 0.5px,#0000dd 66.5px,#0000ea 100.5px,#0001ff 128.5px,#0023ff 153.5px,#005aff 183.5px,#0076ff 205.5px,#00a1ff 226.5px,#00dcff 247.5px,#00ffff 258.5px,#8eff71 300.5px,#feff01 329.5px,#ff1800 383.5px,#ff0000 390.5px,#db0000 405.5px,#cb0000 417.5px,#ca0000 429.5px,#db0000 444.5px,#fc0000 460.5px,#ff0500 463.5px,#ff6800 493.5px,#ffd800 536.5px,#fff300 552.5px,#ffff00 567.5px,#fffd00 586.5px)"></i><i style="width:3px;background:linear-gradient(#0000e1 0.5px,#0000de 66.5px,#0000eb 100.5px,#0002ff 127.5px,#0023ff 152.5px,#005bff 182.5px,#0075ff 204.5px,#00a0ff 225.5px,#00d5ff 245.5px,#01fffe 258.5px,#8eff71 300.5px,#feff01 329.5px,#ff1800 383.5px,#fd0000 391.5px,#db0000 406.5px,#cc0000 418.5px,#cd0000 430.5px,#e00000 446.5px,#ff0000 461.5px,#ff2d00 475.5px,#ff6500 492.5px,#ffd700 536.5px,#fff100 552.5px,#fffc00 567.5px,#fff900 586.5px)"></i><i style="width:3px;background:linear-gradient(#0000e2 0.5px,#0000df 66.5px,#0000ee 101.5px,#0002ff 125.5px,#0023ff 151.5px,#005dff 182.5px,#0075ff 203.5px,#009eff 224.5px,#00d3ff 244.5px,#01fffe 258.5px,#8bff74 299.5px,#feff01 329.5px,#ff1900 383.5px,#ff0000 391.5px,#dc0000 406.5px,#ce0000 418.5px,#cf0000 430.5px,#e10000 446.5px,#ff0100 461.5px,#ff2a00 474.5px,#ff6300 491.5px,#ffd500 536.5px,#ffef00 552.5px,#fffa00 567.5px,#fff500 586.5px)"></i><i style="width:3px;background:linear-gradient(#0000e3 0.5px,#0000e1 66.5px,#0000ef 101.5px,#0002ff 124.5px,#0023ff 150.5px,#005fff 182.5px,#0074ff 202.5px,#009cff 223.5px,#00d3ff 244.5px,#01fffe 258.5px,#8bff74 299.5px,#ffff00 329.5px,#ff1a00 383.5px,#ff0100 391.5px,#dd0000 407.5px,#d00000 419.5px,#d10000 431.5px,#e60000 448.5px,#ff0200 461.5px,#ff2a00 474.5px,#ff6300 491.5px,#ffaf00 521.5px,#ffd900 539.5px,#fff100 556.5px,#fff700 570.5px,#fff200 586.5px)"></i><i style="width:3px;background:linear-gradient(#0000e3 0.5px,#0000e2 66.5px,#0000f1 101.5px,#0002ff 122.5px,#0022ff 148.5px,#0047ff 168.5px,#0063ff 183.5px,#0074ff 201.5px,#009bff 222.5px,#00d0ff 243.5px,#01fffe 258.5px,#87ff78 298.5px,#fbff04 328.5px,#ffff00 329.5px,#ff1f00 382.5px,#ff0000 392.5px,#de0000 407.5px,#d20000 420.5px,#d50000 433.5px,#ec0000 451.5px,#ff0000 460.5px,#ff2400 472.5px,#ff6100 490.5px,#ffae00 521.5px,#ffd800 539.5px,#ffee00 556.5px,#fff400 570.5px,#ffee00 586.5px)"></i><i style="width:3px;background:linear-gradient(#0000e4 0.5px,#0000e4 67.5px,#0000f3 102.5px,#0002ff 120.5px,#0022ff 147.5px,#0047ff 167.5px,#0063ff 182.5px,#0076ff 201.5px,#009cff 222.5px,#00d1ff 243.5px,#02fffd 258.5px,#88ff77 298.5px,#fbff04 328.5px,#ffff00 329.5px,#ff8400 358.5px,#ff1d00 383.5px,#fe0000 393.5px,#e00000 407.5px,#d40000 420.5px,#d70000 433.5px,#ee0000 451.5px,#ff0100 460.5px,#ff2400 472.5px,#ff6100 490.5px,#ffaf00 522.5px,#ffd700 540.5px,#ffec00 557.5px,#fff100 571.5px,#ffeb00 586.5px)"></i><i style="width:1px;background:linear-gradient(#0000e4 0.5px,#0000e5 67.5px,#0000f5 103.5px,#0002ff 119.5px,#0022ff 146.5px,#0046ff 166.5px,#0065ff 182.5px,#0076ff 201.5px,#009dff 222.5px,#00d1ff 243.5px,#02fffd 258.5px,#88ff77 298.5px,#ffff00 329.5px,#ff8400 358.5px,#ff2100 382.5px,#ff0000 393.5px,#e20000 407.5px,#d50000 420.5px,#d80000 433.5px,#ef0000 451.5px,#ff0200 460.5px,#ff2800 473.5px,#ff6100 490.5px,#ffb100 523.5px,#ffd600 540.5px,#ffeb00 557.5px,#ffef00 571.5px,#ffe800 586.5px)"></i></div>
<div id="cb"></div>
<svg width="960" height="721" viewBox="0 0 960 721">
<g fill="none" stroke="#000" stroke-width="1"><path d="M115.4 68.0 116.4 78.4 131.0 79.5 144.5 82.6 143.5 85.7 152.9 86.8 162.2 80.5 174.8 75.3 177.9 77.4 189.3 87.8 197.7 97.2 203.9 105.5 214.3 120.1 220.6 117.0 231.0 122.2 247.7 120.1 256.0 128.4 268.5 131.5 272.7 136.8 285.2 138.8 293.5 140.9 299.8 138.8 300.0 140.5M300.0 140.5 315.0 133.0 330.0 125.5 350.0 121.8 365.0 124.2 372.5 131.8 385.0 133.0 400.0 135.5 410.0 129.2 406.2 120.5 411.2 111.8 417.5 106.8 432.5 110.5 452.5 115.5 455.0 124.2 465.0 129.2 480.0 126.8 497.5 128.0 510.0 134.2 525.0 141.8 540.0 141.8 562.5 140.5 582.5 130.5 605.0 135.5 617.5 139.2 633.8 131.8 637.5 120.5 647.5 108.0 642.5 98.0 650.0 90.5 667.5 86.8 682.5 86.8 705.0 93.0 706.7 94.7 716.7 113.0 726.7 136.3 736.7 141.3 753.3 146.3 761.7 161.3 770.0 163.0 786.7 158.0 798.3 154.7 801.7 161.3 798.3 168.0 795.0 176.3 789.0 194.0 780.0 198.0 770.0 199.5 763.3 200.0 765.0 215.0 766.7 221.7M293.5 142.0 287.2 145.0 285.2 148.2 281.0 151.3 274.8 155.5 272.7 165.9 266.4 172.2 256.0 173.2 247.7 170.1 243.5 174.2 241.4 188.8 239.3 193.0 231.0 194.0 222.7 195.0 214.3 199.2 212.2 202.4 218.5 201.0 219.5 212.5 221.6 220.8 218.5 227.0 216.4 233.3M296.0 143.0 297.7 145.0 301.8 153.4 315.0 159.2 325.0 164.2 332.5 178.0 328.8 190.5 337.5 196.8 355.0 198.0 372.5 205.5 380.0 211.8 387.5 225.5 405.0 228.0 440.0 229.2 457.5 236.8 480.0 241.8 495.0 235.5 510.0 231.8 530.0 230.5 540.0 226.8 545.0 223.0 555.0 218.0 550.0 213.0 552.5 204.2 557.5 198.0 570.0 200.5 585.0 195.5 597.5 190.5 610.0 183.0 632.5 175.5 641.2 173.0 635.0 165.5 625.0 160.5 610.0 163.0 597.5 160.5 597.5 150.5 605.0 135.5M216.4 233.3 203.9 227.0 189.3 226.0 164.3 227.0 153.9 222.9 145.6 224.0 143.5 232.3 131.0 229.2 120.6 227.0 117.5 233.3 108.1 237.5 106.0 238.5M216.4 233.3 214.3 237.5 193.5 247.9 178.9 251.0 174.8 257.3 167.5 258.3 164.3 256.2 149.8 262.5 147.7 270.8M106.0 250.0 112.2 247.9 124.8 244.8 138.3 253.1 126.8 261.5 110.2 260.4 106.0 262.0M118.5 234.4 108.1 243.8 106.0 245.0M147.7 270.8 133.1 274.0 118.5 269.8 108.1 270.8 106.0 271.0M147.7 270.8 146.6 281.2 156.0 282.3 159.1 291.7 161.2 297.9 156.0 300.0 151.8 302.1M161.2 297.9 143.5 297.9 131.0 300.0 124.8 306.2 122.7 297.9 120.6 289.6 114.3 284.4 109.1 289.6 107.0 295.8M156.0 302.0 137.2 304.2 124.8 312.5 120.6 316.7 122.7 329.2 118.5 335.4 116.4 341.7 110.2 343.8 106.0 343.8M156.0 302.0 166.4 306.2 170.6 316.7 185.2 320.8 193.5 318.8 201.8 315.6 210.2 320.8 212.2 325.0 208.1 333.3 203.9 339.6 201.8 340.0 198.7 348.3 204.0 354.6 205.0 359.8 197.7 360.8 197.7 367.1 200.8 376.5 210.2 380.6 216.4 384.8 222.7 390.0 226.8 393.1 231.0 389.0 237.2 391.0 243.5 397.3 251.8 402.5 260.2 406.7 268.5 412.9 278.9 419.2 287.2 420.2 290.0 421.7 300.0 420.8 306.7 419.2 313.3 421.7 320.0 416.7 330.0 418.3 338.3 423.3 350.0 416.7 358.3 410.0 370.0 403.3 376.7 406.7 386.7 401.7 390.0 408.3 390.8 415.8 396.7 416.7 403.3 413.3 408.3 420.0 413.3 426.7 415.0 436.7 413.3 446.7 406.7 453.3 403.3 460.0 403.3 473.3 410.0 471.7 413.3 473.3 416.7 480.0 421.7 486.7 421.7 495.0 426.7 500.0 433.3 506.7 438.3 505.0 440.0 503.8 445.0 492.5 452.5 490.0 465.0 487.5 485.0 482.5 492.5 485.0 500.0 487.5 502.5 497.5 512.5 505.0 522.5 501.2 530.0 505.0 535.0 510.0 535.0 519.0 540.0 519.0 541.0 510.0 547.5 502.5 555.0 501.2 562.5 500.0 570.0 496.7 573.3 491.7 575.0 486.7 578.3 493.3 581.7 494.2 580.0 490.0 585.0 489.2 593.3 488.3 601.7 485.0 608.3 481.7 610.0 478.3 616.7 471.7 623.3 465.0 631.7 460.0 638.3 455.0 640.0 450.0 638.3 456.7 633.3 460.0M201.8 315.6 189.3 323.0 174.8 331.2 166.4 335.4 156.0 331.2 149.8 333.3 147.7 339.6 149.8 348.3 148.7 354.6 156.0 359.8 162.2 362.9 162.2 367.1 155.0 371.2 155.0 379.6 147.7 390.0 141.4 398.3 133.1 408.8 128.9 415.0 125.8 421.2 114.3 422.3 108.1 419.2 106.0 420.2M106.0 340.0 108.1 346.2 106.0 352.5M106.0 342.0 118.5 340.0M106.0 444.2 110.2 448.3 112.2 456.7 116.4 465.0 112.2 469.2 108.1 468.1 106.0 466.0M226.8 393.1 219.5 400.4 216.4 410.8 226.8 415.0 239.3 423.3 251.8 427.5 264.3 431.7 276.8 437.9 289.3 440.0 299.8 442.1 301.8 429.6 300.8 423.3M313.3 421.7 310.0 430.0 316.7 435.8 330.0 435.8 341.7 435.0 342.5 429.2 338.3 423.3M396.7 416.7 395.0 430.0 386.7 433.3 380.0 438.3 375.0 448.3 371.7 456.7 370.0 466.7 366.7 471.7 358.3 473.3 356.7 483.3 353.3 493.3 350.0 500.0M300.0 421.7 301.7 428.3 298.3 439.2 301.7 445.0 308.3 443.3 318.3 448.3 320.0 455.0 330.0 456.7 343.3 457.5 346.7 460.0 343.3 465.0 338.3 470.0 335.0 476.7 333.3 483.3 325.0 481.7 326.7 490.0 323.3 500.0 318.3 498.3 313.3 501.7 308.3 501.7 305.0 498.3 300.0 496.7M301.7 445.0 300.0 450.0 303.3 456.7 300.0 465.0 305.0 471.7 306.7 480.0 310.0 488.3 311.7 500.0M335.0 476.7 341.7 478.3 343.3 483.3 345.0 490.0 348.3 498.3 350.0 500.0 348.3 506.7 346.7 513.3 350.0 520.0M106.0 511.2 116.0 516.2 126.0 511.2 131.0 505.0 131.0 496.2 134.8 496.2 134.8 507.5 137.2 516.2 136.0 530.0 137.2 545.0 141.0 562.5 146.0 580.0 153.5 597.5 158.5 612.5 166.0 632.5 173.5 655.0M204.8 655.0 211.0 652.5 211.0 637.5 216.0 620.0 214.8 605.0 216.0 582.5 221.0 578.8 226.0 578.8 228.5 572.5 236.0 572.5 239.8 562.5 251.0 555.0 258.5 546.2 268.5 532.5 278.5 527.5 286.0 517.5 288.5 506.2 300.0 496.7M350.0 520.0 357.5 527.5 362.5 535.0 366.2 540.0 368.8 552.5 367.5 565.0 367.5 576.2 372.5 578.8 380.0 580.0 386.2 573.8 395.0 560.0 401.2 575.0 403.8 576.0 404.8 588.5 407.9 603.0 411.0 617.7 413.1 632.2 412.1 646.8 413.1 655.0M440.0 503.8 432.5 507.5 430.0 517.5 422.5 520.0 412.5 526.2 405.0 530.0 402.5 545.0 405.0 555.0 410.0 562.5 415.0 572.5 414.2 584.3 409.0 588.5 412.1 596.8 417.3 607.2 420.4 617.7 423.5 628.1 420.4 638.5 416.2 649.0 416.2 655.0M419.4 655.0 422.5 646.8 426.7 636.4 429.8 624.0 428.8 613.5 431.9 609.3 439.2 610.4 439.2 617.7 445.4 620.8 451.7 621.8 456.9 628.1 460.0 636.4 464.2 642.7 468.3 647.9 476.7 650.0 482.9 655.0M430.0 517.5 435.0 522.5 440.0 530.0 440.0 545.0 438.8 555.0 445.0 557.5 452.5 547.5 462.5 545.0 470.0 550.0 477.5 557.5 480.0 567.5 482.5 575.0 485.0 576.0 488.1 580.2 489.2 594.8 487.1 597.9 476.7 596.8 464.2 597.9 457.9 603.0 454.8 615.6M452.5 490.0 455.0 497.5 462.5 507.5 470.0 515.0 477.5 515.0 480.0 520.0 475.0 527.5 472.5 535.0 480.0 540.0 490.0 550.0 495.0 557.5 502.5 567.5 505.8 576.0 510.0 584.3 509.0 595.8M487.1 597.9 493.3 602.0 497.5 596.8 503.8 598.9 509.0 595.8 510.0 613.5 509.0 626.0 501.7 628.1 495.4 634.3 493.3 642.7 485.0 644.8 476.7 649.0M512.5 505.0 505.0 512.5 500.0 515.0 492.5 525.0 490.0 535.0 495.0 545.0 500.0 555.0 507.5 562.5 515.0 570.0 518.3 576.0 520.4 584.3 526.7 592.7 528.8 607.2 528.8 617.7 526.7 632.2 516.2 642.7 505.8 649.0 501.7 655.0M522.5 535.0 527.5 527.5 542.5 525.0 545.0 530.0 540.0 540.0 537.5 545.0 530.0 547.5 522.5 542.5 522.5 535.0M633.3 460.0 638.3 456.7 638.3 451.7 640.0 445.0 641.7 438.3 646.7 435.0 651.7 430.0 653.3 423.3 656.7 416.7 660.0 415.0 662.5 405.0 661.7 400.0 664.2 395.8 660.0 393.3 656.7 390.0 648.3 392.5 643.3 391.7 653.3 386.7 663.3 381.7 661.7 376.7 660.0 373.3 663.3 370.0 661.7 366.7 656.7 363.3 651.7 360.0 664.2 370.0M651.7 360.0 657.9 361.7 651.7 353.3 647.5 342.9 639.2 334.6 635.0 328.3 637.1 322.1 643.3 317.9 645.4 312.7 649.6 311.7 651.7 307.5 660.0 304.4 668.3 303.3 669.4 298.1 662.1 297.1 653.8 292.9 643.3 295.0 637.1 299.2 632.9 299.2 631.9 288.8 624.6 286.7 618.3 282.5 616.2 274.2 622.5 272.1 626.7 275.2 632.9 273.1 643.3 266.9 647.5 261.7 651.7 256.5 662.1 252.3 668.3 257.5 664.2 263.8 657.9 270.0 655.8 277.3 660.0 276.2 664.2 272.1 672.5 270.0 682.9 265.8 691.2 263.8M691.2 263.8 701.7 255.4 714.2 245.0 716.2 240.8 726.7 242.9 733.0 236.7 739.2 232.5 747.5 226.2 750.0 225.0 755.0 226.7 758.3 230.0 766.7 221.7 771.7 220.8 778.3 223.3 785.0 227.5 795.0 225.0 802.2 218.9 813.3 207.8 824.4 196.7 835.6 183.3 846.7 167.8 857.8 154.4M691.2 263.8 697.5 267.9 701.7 274.2 699.6 280.4 695.4 286.7 701.7 292.9 710.0 292.9 714.2 297.1 716.2 303.3 710.0 306.7 713.3 310.0 715.0 318.3 711.7 326.7 713.3 337.5 721.7 333.3 728.3 330.8 733.3 330.0 740.0 327.5 743.3 323.3 745.8 316.7 745.0 306.7 745.8 300.0 745.0 293.3 740.0 283.3 733.3 283.3 725.0 275.0 725.0 270.0 730.0 263.3 740.0 256.7 748.3 250.0 750.0 240.0 758.3 230.0M701.7 292.9 708.3 293.3 715.0 291.7 720.0 285.0 730.0 285.0 733.3 283.3M823.3 310.0 823.3 300.0 824.4 303.3 831.1 301.1 840.0 294.4 846.7 290.0 853.3 283.3 857.8 276.7M760.0 340.0 766.7 335.8 775.0 330.0 781.7 321.7 786.7 321.7 800.0 320.8 808.3 320.0 813.3 321.7 816.7 316.7 821.7 308.3 823.3 300.0M760.0 340.0 763.3 343.3 773.3 340.0 781.7 338.3 790.0 335.8 798.3 332.5 806.7 333.3 806.7 343.3 813.3 349.2 820.0 340.0 825.0 335.8 823.3 330.0 826.7 329.2 830.0 333.3 840.0 333.3 845.0 330.0 848.3 331.7 850.0 326.7 856.7 323.3 858.0 321.7M760.0 343.3 756.7 345.0 748.3 350.0 747.5 356.7 750.0 361.7 751.7 366.7 753.3 371.7 754.2 378.3 758.3 381.7 763.3 375.0 768.3 366.7 770.0 360.0 773.3 355.0 768.3 348.3 763.3 345.0M776.7 348.3 781.7 357.5 788.3 350.0 796.7 350.0 801.7 341.7 793.3 336.7 783.3 340.0 776.7 348.3M806.0 69.0 816.7 73.0 823.3 74.7 823.3 83.0 833.3 84.7 843.3 83.0 845.0 78.0 850.0 76.3 858.0 75.5M660.0 455.8 665.0 457.5 664.2 466.7 661.7 478.3 658.3 486.7 653.3 495.0 651.7 499.2 648.3 491.7 645.0 483.3 645.8 475.0 650.0 466.7 655.0 458.3 660.0 455.8M651.7 543.3 658.3 543.3 666.7 546.7 668.3 544.2 666.7 555.0 670.0 561.7 668.3 571.7 661.7 578.3 659.2 588.3 661.7 598.3 666.7 601.7 671.7 600.0 676.7 603.3 681.7 605.0 685.0 606.7 683.3 610.0 686.7 618.3 685.0 620.0 681.7 615.0 678.3 610.0 673.3 606.7 670.0 608.3 665.0 606.7 658.3 606.7 653.3 605.0 651.7 600.0 653.3 595.0 650.0 593.3 645.0 588.3 641.7 578.3 641.7 573.3 645.0 571.7 648.3 570.0 648.3 556.7 650.0 546.7 651.7 543.3M648.3 610.0 656.7 610.0 660.0 616.7 658.3 626.7 653.3 621.7 648.3 610.0M666.7 631.7 676.7 635.8 671.7 643.3 665.0 650.0 666.7 631.7M690.0 621.7 700.0 621.7 703.3 638.3 700.0 640.0 696.7 630.0 690.0 624.0M690.8 635.8 695.0 636.7 698.3 650.0 696.7 655.0 693.3 643.3 690.8 635.8M676.7 643.3 681.7 645.0 678.3 655.0M685.0 645.0 686.7 650.0 683.3 655.0M638.3 638.3 640.0 648.3 633.3 655.0 631.7 655.0 636.7 646.7 638.3 638.3M351.0 612.0 352.5 615.0 351.0 617.0 350.0 614.0 351.0 612.0M350.5 621.0 351.5 628.0 350.0 634.0 349.0 628.0 350.5 621.0M347.0 645.0 348.0 649.0 346.5 650.0 346.0 647.0 347.0 645.0"/><ellipse cx="712.5" cy="350.8" rx="4.0" ry="2.0"/><ellipse cx="745.0" cy="336.7" rx="1.5" ry="3.0"/><ellipse cx="738.0" cy="359.0" rx="2.0" ry="1.5"/><ellipse cx="755.8" cy="390.0" rx="1.2" ry="2.0"/><ellipse cx="762.5" cy="386.7" rx="1.2" ry="2.0"/><ellipse cx="745.0" cy="416.7" rx="2.5" ry="2.0"/><ellipse cx="685.0" cy="467.5" rx="1.2" ry="1.2"/><ellipse cx="840.0" cy="290.0" rx="2.0" ry="1.5"/><ellipse cx="725.0" cy="332.5" rx="2.0" ry="1.5"/><ellipse cx="665.0" cy="591.7" rx="1.2" ry="2.5"/><ellipse cx="690.0" cy="605.0" rx="1.5" ry="3.0"/><ellipse cx="665.8" cy="611.7" rx="1.2" ry="1.5"/><ellipse cx="666.7" cy="624.2" rx="1.2" ry="1.2"/><ellipse cx="671.7" cy="625.0" rx="1.2" ry="1.2"/><ellipse cx="680.0" cy="625.8" rx="1.8" ry="2.0"/><ellipse cx="644.2" cy="627.5" rx="1.5" ry="2.0"/></g>
<rect x="106.5" y="68.5" width="752" height="588" fill="none" stroke="#000"/>
<rect x="878.5" y="68.5" width="20" height="588" fill="none" stroke="#000"/>
<path d="M859 656.5h1M859 591.5h1M859 525.5h1M859 460.5h1M859 395.5h1M859 329.5h1M859 264.5h1M859 199.5h1M859 133.5h1M859 68.5h1M879 638.5h5M892 638.5h6M879 536.5h5M892 536.5h6M879 433.5h5M892 433.5h6M879 331.5h5M892 331.5h6M879 229.5h5M892 229.5h6M879 127.5h5M892 127.5h6" stroke="#000" stroke-width="1" fill="none"/>
<g class="t" text-anchor="middle"><text x="484" y="34" style="letter-spacing:0.13px">TEC Map 2011-04-27 08:00:00 UT</text><text x="487.2" y="55" style="letter-spacing:0.22px">Institute of Geology and Geophysics Chinese Academy of Sciences</text></g>
<g class="ax"><text x="100.6" y="662.0" text-anchor="end">10</text>
<text x="100.6" y="596.7" text-anchor="end">15</text>
<text x="100.6" y="531.3" text-anchor="end">20</text>
<text x="100.6" y="466.0" text-anchor="end">25</text>
<text x="100.6" y="400.7" text-anchor="end">30</text>
<text x="100.6" y="335.3" text-anchor="end">35</text>
<text x="100.6" y="270.0" text-anchor="end">40</text>
<text x="100.6" y="204.7" text-anchor="end">45</text>
<text x="100.6" y="139.3" text-anchor="end">50</text>
<text x="100.6" y="74.0" text-anchor="end">55</text>
<text x="106.0" y="677" text-anchor="middle">70</text>
<text x="213.4" y="677" text-anchor="middle">80</text>
<text x="320.9" y="677" text-anchor="middle">90</text>
<text x="428.3" y="677" text-anchor="middle">100</text>
<text x="535.7" y="677" text-anchor="middle">110</text>
<text x="643.1" y="677" text-anchor="middle">120</text>
<text x="750.6" y="677" text-anchor="middle">130</text>
<text x="858.0" y="677" text-anchor="middle">140</text>
<text x="901.5" y="643.6">20</text>
<text x="901.5" y="541.5">30</text>
<text x="901.5" y="439.5">40</text>
<text x="901.5" y="337.4">50</text>
<text x="901.5" y="235.3">60</text>
<text x="901.5" y="133.2">70</text>
<text x="480.5" y="700" text-anchor="middle">Longitude</text>
<text transform="translate(69,363) rotate(-90)" text-anchor="middle">Latitude</text>
</g>
<g class="st"><text x="689.8" y="94.1">MH</text>
<text x="625.0" y="275.5">BJ</text>
<text x="604.8" y="393.7">WH</text>
<text x="553.0" y="553.8">SY</text><path d="M663.0 87.8h10.6M668.3 82.5v10.6M664.6 84.1l7.4 7.4M664.6 91.5l7.4 -7.4M598.2 269.2h10.6M603.5 263.9v10.6M599.8 265.5l7.4 7.4M599.8 272.9l7.4 -7.4M578.0 387.4h10.6M583.3 382.1v10.6M579.6 383.7l7.4 7.4M579.6 391.1l7.4 -7.4M526.2 547.5h10.6M531.5 542.2v10.6M527.8 543.8l7.4 7.4M527.8 551.2l7.4 -7.4" stroke="#000" stroke-width="0.9" fill="none"/></g>
<text x="898" y="58.7" style="font-family:'Liberation Serif','Times New Roman',serif;font-size:13.6px;fill:#141470" textLength="33.5" lengthAdjust="spacingAndGlyphs">TECU</text>
<g font-family="'Liberation Serif','Noto Serif CJK SC',serif" font-weight="bold" font-size="24" fill="#eea814" stroke="#eea814" stroke-width="0.7" stroke-linejoin="round"><text x="843.5" y="681" style="letter-spacing:2.2px">地震论坛</text></g>
<text x="837.5" y="697" style="font-weight:bold;font-size:13.5px;fill:#2a2ad4;stroke:#2a2ad4;stroke-width:0.5" textLength="114" lengthAdjust="spacingAndGlyphs">dizhenluntan.com</text>
</svg>
</body></html>
